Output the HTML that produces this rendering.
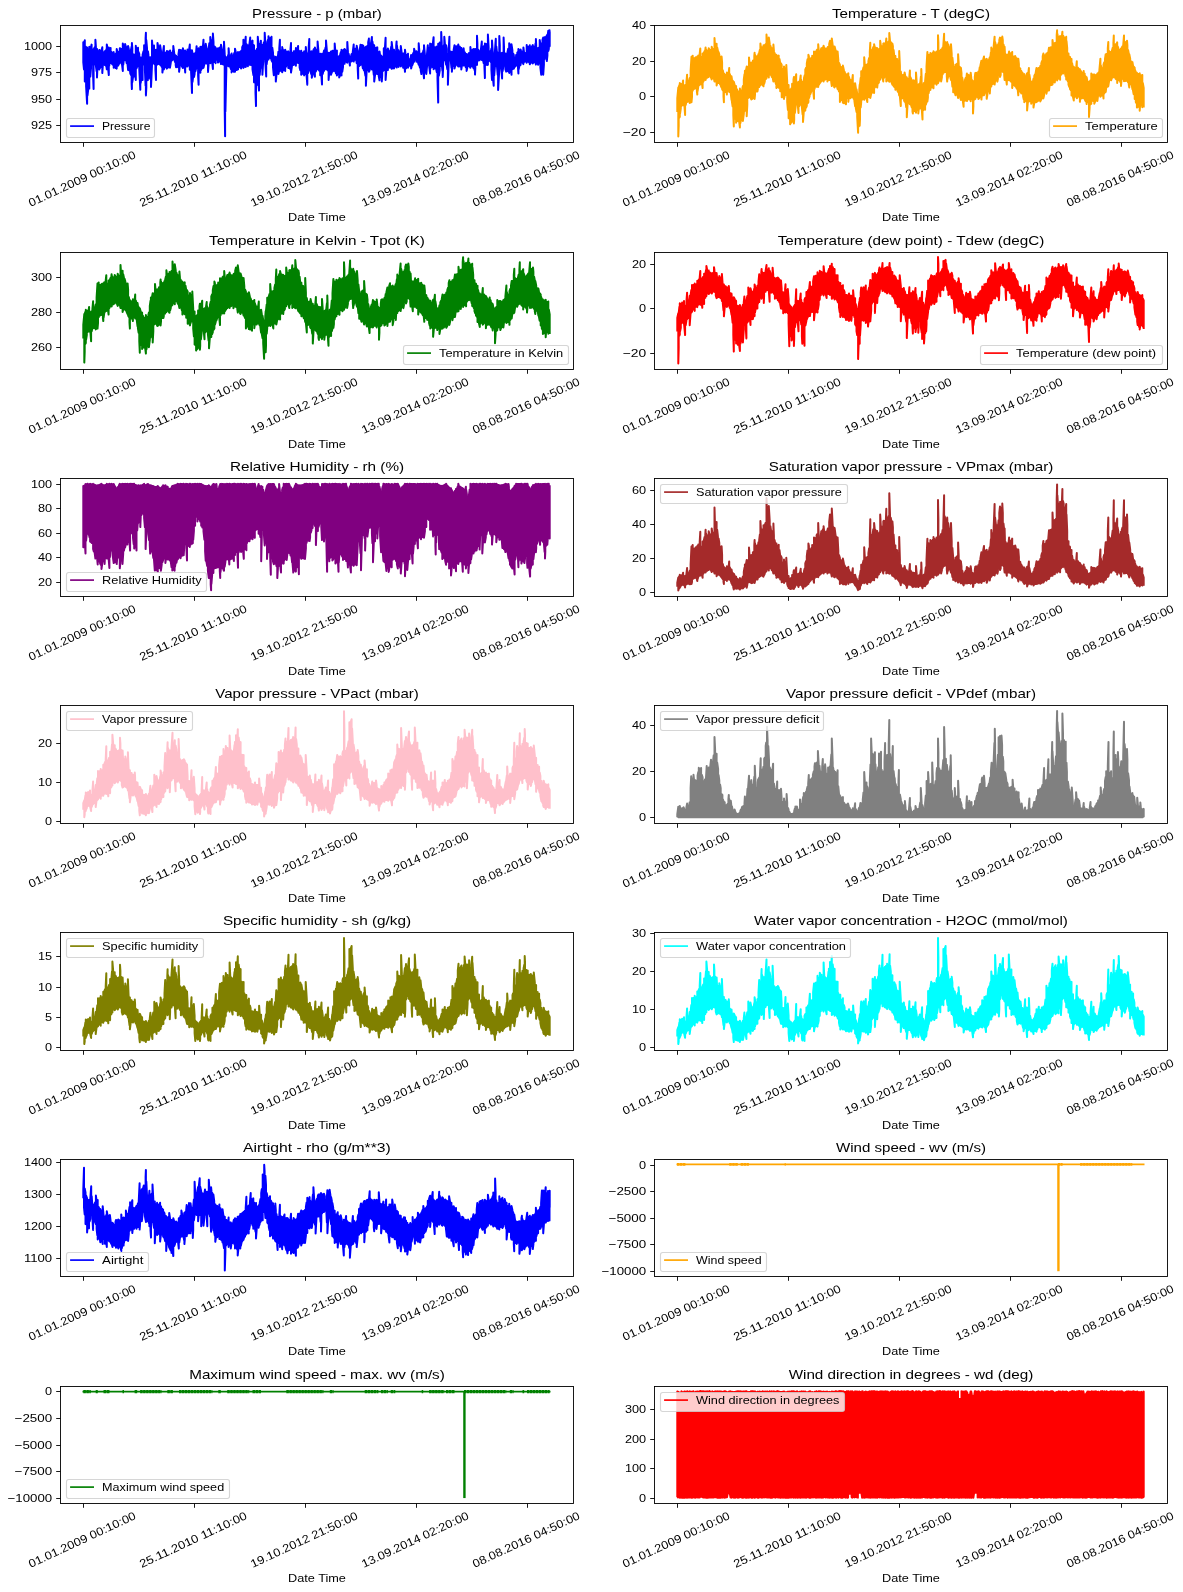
<!DOCTYPE html>
<html><head><meta charset="utf-8"><title>Jena climate features</title>
<style>
html,body{margin:0;padding:0;background:#fff;}
svg{display:block;font-family:"Liberation Sans",sans-serif;fill:#000;}
svg path.d{fill:none;stroke-width:2.0;stroke-linejoin:round;stroke-linecap:butt;}
</style></head><body>
<svg width="1183" height="1592" viewBox="0 0 1183 1592">
<rect width="1183" height="1592" fill="#fff"/>
<g>
<path class="d" stroke="#0000ff" d="M83.3 49.8 83.3 46.4 83.3 42.2 83.3 62.5 84.0 69.4 84.0 45.2 84.8 40.2 84.8 81.5 85.4 80.4 85.4 46.5 86.1 47.2 86.1 86.2 87.1 103.7 87.1 47.4 87.5 50.6 87.5 95.3 88.2 89.5 88.2 50.6 88.9 49.0 88.9 87.1 89.3 88.6 89.3 46.8 90.3 49.5 90.3 76.6 91.0 68.2 91.0 46.9 91.6 44.6 91.6 64.5 92.4 64.5 92.4 49.3 93.1 50.1 93.1 75.9 93.6 89.0 93.6 49.7 94.5 47.6 94.5 62.3 95.4 64.7 95.4 39.7 95.9 46.9 95.9 65.9 96.6 71.1 96.6 50.7 97.0 48.9 97.0 77.5 97.3 70.4 97.3 51.8 98.0 51.9 98.0 65.8 98.7 65.7 98.7 51.6 99.2 50.0 99.2 69.4 100.1 67.8 100.1 50.4 100.8 51.5 100.8 67.1 101.5 66.7 101.5 50.4 102.3 47.3 102.3 73.1 102.9 64.5 102.9 52.7 103.6 52.4 103.6 62.9 104.6 64.9 104.6 51.2 105.0 51.2 105.0 64.1 105.7 65.6 105.7 51.9 106.4 49.3 106.4 66.3 106.8 69.3 106.8 44.4 107.8 50.2 107.8 65.4 108.8 75.1 108.8 47.6 109.2 49.3 109.2 65.9 109.9 61.1 109.9 50.3 110.6 48.0 110.6 63.0 111.3 61.4 111.3 51.8 112.0 53.9 112.0 63.8 112.7 64.7 112.7 52.8 113.7 52.1 113.7 67.7 114.1 65.2 114.1 54.9 114.8 54.5 114.8 65.2 115.5 67.9 115.5 53.9 116.2 53.3 116.2 67.2 116.7 68.6 116.7 49.0 117.6 53.2 117.6 65.7 118.3 65.5 118.3 51.8 119.0 53.3 119.0 63.8 119.8 63.3 119.8 48.2 120.4 48.6 120.4 61.1 121.1 61.2 121.1 49.2 121.8 48.9 121.8 62.7 122.8 70.9 122.8 43.6 123.2 45.3 123.2 64.9 123.9 59.7 123.9 47.4 124.6 47.9 124.6 58.1 125.1 60.1 125.1 44.1 126.0 47.1 126.0 59.5 126.7 63.2 126.7 47.1 127.4 47.5 127.4 63.0 128.1 69.9 128.1 45.9 128.8 48.9 128.8 69.0 129.5 70.6 129.5 50.4 130.2 51.1 130.2 73.2 130.9 75.0 130.9 50.1 131.6 46.6 131.6 83.2 131.9 89.1 131.9 42.9 132.3 48.0 132.3 82.0 133.0 77.2 133.0 54.0 133.7 55.9 133.7 73.5 134.2 76.6 134.2 56.5 135.1 54.2 135.1 73.3 135.8 80.0 135.8 45.8 136.5 52.2 136.5 68.4 137.2 66.4 137.2 51.8 138.0 47.7 138.0 64.8 138.6 66.1 138.6 52.1 139.3 54.0 139.3 69.8 140.3 89.8 140.3 57.3 140.7 58.2 140.7 82.8 141.4 77.6 141.4 57.4 142.1 57.9 142.1 75.2 142.6 79.9 142.6 54.7 143.5 51.2 143.5 64.2 144.1 64.5 144.1 45.3 144.9 46.0 144.9 69.8 145.6 85.7 145.6 38.4 145.9 32.8 145.9 95.4 146.3 88.0 146.3 40.1 147.0 47.9 147.0 80.3 147.9 80.1 147.9 51.2 148.4 54.6 148.4 78.3 149.1 76.1 149.1 58.2 149.8 57.2 149.8 75.6 150.5 79.4 150.5 58.6 151.0 57.2 151.0 87.0 152.0 64.9 152.0 40.6 152.6 48.0 152.6 63.0 153.3 62.3 153.3 50.5 154.0 45.5 154.0 63.5 154.7 64.3 154.7 49.7 155.4 51.9 155.4 69.8 156.0 80.0 156.0 49.7 156.8 49.8 156.8 64.9 157.5 64.0 157.5 42.9 158.2 46.7 158.2 64.0 158.9 63.3 158.9 47.6 159.6 49.6 159.6 62.4 160.1 64.9 160.1 45.2 161.0 50.8 161.0 65.4 161.7 66.7 161.7 52.4 162.4 52.6 162.4 72.5 163.1 67.8 163.1 51.6 163.9 46.0 163.9 69.3 164.5 65.6 164.5 52.9 165.2 53.3 165.2 67.3 165.9 66.9 165.9 52.8 166.6 51.8 166.6 67.7 166.9 68.6 166.9 51.0 167.3 51.1 167.3 66.9 168.0 67.6 168.0 53.0 168.7 51.6 168.7 66.6 169.4 66.8 169.4 52.0 170.0 50.5 170.0 67.7 170.8 62.7 170.8 52.8 171.5 52.9 171.5 60.8 172.2 60.1 172.2 53.3 172.9 50.7 172.9 59.6 173.3 58.9 173.3 46.1 174.3 54.0 174.3 59.1 175.0 62.0 175.0 54.9 175.7 56.1 175.7 65.1 176.1 67.3 176.1 55.7 176.4 56.7 176.4 66.5 177.1 66.2 177.1 57.0 177.8 57.1 177.8 67.0 178.5 67.3 178.5 54.0 179.1 49.7 179.1 71.8 179.9 65.1 179.9 51.3 180.6 50.0 180.6 65.2 181.3 64.4 181.3 50.3 182.0 51.5 182.0 66.4 182.9 67.9 182.9 48.3 183.4 50.4 183.4 66.0 184.1 64.8 184.1 53.6 184.8 52.0 184.8 67.3 185.2 72.4 185.2 50.6 185.5 52.7 185.5 67.4 186.2 65.2 186.2 52.1 186.9 51.4 186.9 65.7 187.5 66.4 187.5 49.6 188.3 50.6 188.3 65.3 189.0 65.2 189.0 50.3 189.8 44.6 189.8 69.7 190.4 68.0 190.4 49.9 191.1 52.7 191.1 71.9 192.0 92.9 192.0 50.3 192.5 53.8 192.5 81.9 193.2 76.2 193.2 53.9 194.0 53.7 194.0 77.1 194.6 74.0 194.6 55.6 195.3 53.0 195.3 71.4 196.0 69.0 196.0 53.7 196.6 46.2 196.6 68.0 197.4 67.8 197.4 52.0 198.1 49.2 198.1 75.6 198.6 84.8 198.6 48.2 199.5 50.0 199.5 72.0 200.4 72.7 200.4 46.8 200.9 48.6 200.9 70.2 201.6 66.3 201.6 46.8 202.3 47.0 202.3 68.5 203.0 68.1 203.0 45.8 203.5 39.7 203.5 67.7 204.4 63.8 204.4 45.3 205.1 45.9 205.1 63.5 205.7 63.2 205.7 43.8 206.5 48.0 206.5 62.2 207.2 63.9 207.2 49.1 208.0 49.8 208.0 71.9 208.6 64.1 208.6 49.5 209.3 43.2 209.3 61.9 210.3 63.2 210.3 36.9 210.7 39.5 210.7 60.3 211.4 61.0 211.4 41.7 212.1 40.1 212.1 61.6 212.9 69.0 212.9 33.6 213.5 41.8 213.5 62.3 214.2 61.2 214.2 46.4 214.9 46.9 214.9 61.9 215.6 63.1 215.6 47.5 216.3 50.0 216.3 59.8 217.0 59.7 217.0 50.0 217.9 48.4 217.9 62.6 218.4 61.2 218.4 49.7 219.1 48.0 219.1 61.7 219.8 60.7 219.8 47.4 220.5 47.6 220.5 61.0 221.0 64.0 221.0 44.7 221.9 49.0 221.9 61.9 222.6 64.3 222.6 49.9 223.3 53.0 223.3 64.0 224.0 64.9 224.0 41.7 224.7 53.8 224.7 109.1 225.1 136.2 225.1 56.1 225.4 59.0 225.4 111.4 226.3 70.9 226.3 57.3 226.8 59.8 226.8 64.4 227.5 65.7 227.5 59.1 228.2 54.9 228.2 63.5 228.6 66.3 228.6 48.2 228.9 52.1 228.9 64.6 229.6 64.8 229.6 55.3 230.3 55.9 230.3 67.2 231.0 69.3 231.0 55.0 231.6 53.5 231.6 72.4 232.4 68.9 232.4 55.4 233.1 55.6 233.1 70.1 233.9 71.8 233.9 54.3 234.5 52.7 234.5 70.2 235.0 71.7 235.0 48.8 235.9 52.8 235.9 69.7 236.6 70.0 236.6 53.1 237.3 53.7 237.3 68.0 238.0 69.4 238.0 52.0 238.7 56.6 238.7 66.9 239.4 67.2 239.4 53.2 240.1 51.8 240.1 65.4 241.1 68.5 241.1 51.3 241.5 50.5 241.5 65.9 242.2 66.3 242.2 47.1 242.9 45.6 242.9 66.8 243.4 67.9 243.4 39.8 244.3 44.0 244.3 66.8 245.0 66.4 245.0 43.8 245.7 36.8 245.7 67.1 246.4 64.1 246.4 44.0 247.1 48.8 247.1 63.7 247.9 66.3 247.9 45.3 248.5 48.7 248.5 64.9 249.2 63.7 249.2 46.2 250.2 37.5 250.2 64.9 250.6 62.2 250.6 41.0 251.3 44.0 251.3 62.2 252.0 65.5 252.0 42.1 252.5 40.6 252.5 69.4 253.4 75.2 253.4 44.8 254.0 45.5 254.0 82.3 254.8 82.6 254.8 50.4 255.5 52.6 255.5 92.9 256.0 106.1 256.0 52.7 256.9 49.1 256.9 85.1 257.8 80.1 257.8 36.8 258.3 42.3 258.3 81.5 259.0 90.6 259.0 43.7 259.7 46.4 259.7 74.9 260.4 66.3 260.4 45.8 260.9 40.7 260.9 64.8 261.8 67.6 261.8 46.1 262.4 45.1 262.4 74.8 263.2 61.3 263.2 45.7 263.9 42.2 263.9 59.2 264.7 58.8 264.7 32.8 265.3 42.3 265.3 61.6 266.2 76.4 266.2 43.7 266.7 43.6 266.7 64.2 267.4 57.7 267.4 41.8 268.1 39.6 268.1 56.2 268.5 59.4 268.5 36.2 268.8 39.6 268.8 57.9 269.5 57.4 269.5 38.5 270.2 38.3 270.2 57.8 270.9 58.5 270.9 39.0 271.5 36.7 271.5 60.3 272.3 61.7 272.3 47.7 273.0 52.7 273.0 67.3 273.8 75.2 273.8 56.1 274.4 60.4 274.4 74.6 275.1 73.8 275.1 59.3 275.8 56.7 275.8 81.6 276.5 74.3 276.5 57.9 277.2 57.2 277.2 72.7 277.9 73.4 277.9 56.9 278.4 51.7 278.4 74.0 279.3 69.9 279.3 48.4 279.9 39.7 279.9 71.0 280.7 69.1 280.7 50.3 281.4 51.2 281.4 68.2 282.2 72.3 282.2 47.1 282.8 50.0 282.8 70.6 283.5 70.1 283.5 50.3 284.2 50.5 284.2 69.6 285.2 70.9 285.2 49.7 285.6 51.3 285.6 67.2 286.3 66.0 286.3 51.7 287.0 51.8 287.0 64.8 287.7 65.7 287.7 53.3 288.3 51.4 288.3 67.9 289.1 67.9 289.1 53.7 289.8 52.2 289.8 67.1 290.5 69.4 290.5 49.2 291.0 43.0 291.0 72.6 291.9 66.5 291.9 53.3 292.6 53.0 292.6 64.3 293.6 64.9 293.6 51.3 294.0 53.5 294.0 62.9 294.7 61.5 294.7 53.8 295.4 50.4 295.4 64.0 295.9 65.7 295.9 48.1 296.8 49.6 296.8 62.7 297.5 62.4 297.5 48.8 298.1 46.0 298.1 63.1 298.9 62.4 298.9 50.6 299.6 52.0 299.6 67.5 300.3 70.3 300.3 53.0 301.2 50.7 301.2 74.8 301.7 73.8 301.7 52.8 302.4 56.2 302.4 73.8 303.1 72.9 303.1 52.6 303.8 52.6 303.8 74.0 304.2 75.4 304.2 51.2 305.2 52.8 305.2 71.5 305.8 74.1 305.8 46.9 306.6 54.7 306.6 75.6 307.3 84.7 307.3 54.2 308.0 53.2 308.0 73.1 308.7 68.9 308.7 47.4 309.3 38.9 309.3 70.5 310.1 68.1 310.1 51.3 310.8 53.2 310.8 72.6 311.5 74.7 311.5 53.0 311.8 51.3 311.8 77.8 312.2 75.9 312.2 51.8 312.9 51.8 312.9 73.8 313.6 71.9 313.6 49.4 314.3 48.8 314.3 74.5 314.9 76.7 314.9 47.5 315.7 50.4 315.7 71.6 316.4 70.3 316.4 51.3 317.1 49.8 317.1 69.2 317.6 68.1 317.6 41.5 318.5 52.0 318.5 68.7 319.2 70.7 319.2 56.8 320.2 53.8 320.2 75.3 320.6 72.1 320.6 58.1 321.3 57.2 321.3 74.2 322.0 84.4 322.0 53.8 322.7 55.6 322.7 74.1 323.4 70.5 323.4 53.7 324.0 50.6 324.0 70.8 324.8 68.6 324.8 51.6 325.5 47.6 325.5 67.9 326.0 69.2 326.0 40.5 326.9 51.3 326.9 69.1 327.6 70.3 327.6 53.5 328.6 52.8 328.6 79.9 329.0 75.0 329.0 54.2 329.7 53.1 329.7 73.7 330.4 74.1 330.4 52.9 330.9 51.5 330.9 74.8 331.8 72.3 331.8 56.4 332.5 50.7 332.5 71.7 333.2 70.9 333.2 52.6 333.9 50.5 333.9 67.8 334.7 71.0 334.7 43.5 335.3 51.2 335.3 70.7 336.0 73.4 336.0 52.0 336.9 50.6 336.9 75.6 337.4 73.8 337.4 56.4 338.1 57.0 338.1 73.0 338.8 73.3 338.8 57.5 339.2 55.9 339.2 77.4 340.2 75.2 340.2 54.5 340.9 51.9 340.9 73.0 341.5 75.4 341.5 49.7 342.3 53.4 342.3 71.7 343.0 67.2 343.0 50.7 343.7 49.8 343.7 62.9 344.6 63.8 344.6 48.9 345.1 49.8 345.1 60.5 345.8 61.6 345.8 51.2 346.5 50.6 346.5 62.0 347.3 62.6 347.3 41.9 347.9 51.2 347.9 60.0 348.6 59.8 348.6 53.7 349.3 57.2 349.3 61.7 349.9 65.6 349.9 56.5 350.7 56.4 350.7 60.6 351.4 61.4 351.4 54.4 352.1 53.6 352.1 60.8 352.8 59.4 352.8 51.6 353.7 44.5 353.7 61.6 354.2 58.5 354.2 48.4 354.9 49.1 354.9 59.8 355.6 59.5 355.6 49.1 356.3 48.0 356.3 60.2 356.7 63.2 356.7 45.8 357.7 51.2 357.7 68.3 358.2 78.6 358.2 51.3 359.1 52.8 359.1 66.1 359.8 65.0 359.8 49.5 360.5 44.7 360.5 64.9 361.2 62.8 361.2 45.5 361.9 45.1 361.9 61.6 362.8 68.0 362.8 45.3 363.3 45.9 363.3 68.5 364.0 70.3 364.0 47.3 364.7 47.6 364.7 70.8 365.4 75.7 365.4 50.1 365.9 46.8 365.9 85.8 366.8 67.7 366.8 47.2 367.5 45.7 367.5 70.1 368.2 69.1 368.2 42.2 368.9 38.6 368.9 71.8 369.6 70.5 369.6 43.3 370.3 44.0 370.3 68.9 371.0 68.0 371.0 43.4 371.9 37.0 371.9 69.4 372.4 67.5 372.4 41.4 373.1 45.8 373.1 68.5 373.8 75.0 373.8 47.5 374.2 45.3 374.2 81.5 375.2 73.7 375.2 49.2 375.9 47.7 375.9 73.7 376.6 73.1 376.6 49.5 377.3 47.4 377.3 74.1 378.0 73.9 378.0 52.1 378.7 53.3 378.7 75.7 379.5 80.2 379.5 51.5 380.1 55.4 380.1 77.3 380.8 76.4 380.8 55.3 381.8 56.7 381.8 81.4 382.2 75.5 382.2 58.8 382.9 56.8 382.9 71.0 383.8 69.3 383.8 48.2 384.3 49.1 384.3 67.8 385.0 70.5 385.0 47.0 385.6 37.7 385.6 80.0 386.4 69.1 386.4 49.4 387.1 50.0 387.1 66.5 387.9 70.1 387.9 48.4 388.5 52.0 388.5 68.0 389.2 67.6 389.2 53.5 389.9 50.9 389.9 67.0 390.6 67.5 390.6 50.1 391.3 46.4 391.3 68.0 391.7 68.8 391.7 42.1 392.7 51.2 392.7 68.3 393.4 67.8 393.4 52.4 394.0 49.8 394.0 68.5 394.8 66.0 394.8 51.3 395.5 52.9 395.5 64.6 396.2 64.3 396.2 45.9 396.6 41.4 396.6 67.6 396.9 60.9 396.9 45.3 397.6 51.2 397.6 63.5 398.6 66.9 398.6 50.3 399.0 52.7 399.0 63.4 399.7 64.5 399.7 52.8 400.4 52.0 400.4 64.9 400.8 66.4 400.8 46.1 401.8 53.8 401.8 64.0 402.5 65.5 402.5 56.1 403.1 53.6 403.1 67.8 403.9 65.9 403.9 55.8 404.6 52.7 404.6 67.6 405.0 71.8 405.0 49.8 405.3 52.2 405.3 68.7 406.0 68.4 406.0 56.5 406.7 54.9 406.7 66.0 407.4 66.6 407.4 55.8 408.0 53.7 408.0 67.8 408.8 65.0 408.8 58.9 409.5 59.9 409.5 64.4 410.2 65.7 410.2 59.8 411.1 55.1 411.1 68.6 411.6 66.7 411.6 57.0 412.3 56.3 412.3 65.1 413.0 63.2 413.0 54.0 413.7 52.3 413.7 61.9 414.1 61.8 414.1 48.8 415.1 52.4 415.1 59.5 415.8 59.8 415.8 53.1 416.4 51.3 416.4 61.8 417.2 59.4 417.2 53.0 417.9 52.0 417.9 61.9 418.7 64.7 418.7 43.3 419.3 50.8 419.3 64.8 420.0 67.8 420.0 54.1 420.7 56.1 420.7 70.2 421.4 74.1 421.4 53.6 422.1 54.0 422.1 71.5 422.8 69.5 422.8 52.9 423.5 50.2 423.5 73.6 424.0 78.3 424.0 45.3 424.9 54.7 424.9 72.6 425.6 71.1 425.6 55.7 426.3 56.6 426.3 73.9 427.0 66.7 427.0 54.0 427.8 45.3 427.8 64.8 428.4 64.7 428.4 47.9 429.1 47.5 429.1 65.7 430.1 73.4 430.1 43.6 430.5 44.0 430.5 68.4 431.2 66.0 431.2 44.1 431.9 44.4 431.9 66.4 432.6 67.2 432.6 45.6 433.6 37.2 433.6 69.3 434.0 67.9 434.0 46.8 434.7 49.5 434.7 66.9 435.4 68.2 435.4 50.1 436.2 46.7 436.2 69.4 436.8 72.2 436.8 46.8 437.5 46.8 437.5 78.6 438.2 102.6 438.2 43.7 438.9 45.2 438.9 75.5 439.7 70.8 439.7 42.4 440.3 47.1 440.3 66.2 441.2 63.2 441.2 31.9 441.7 42.4 441.7 63.5 442.4 70.6 442.4 49.4 442.7 51.1 442.7 76.9 443.1 68.1 443.1 51.5 443.8 45.2 443.8 55.8 444.3 60.2 444.3 36.8 445.2 47.1 445.2 58.7 446.1 64.5 446.1 45.3 446.6 48.1 446.6 64.1 447.3 69.0 447.3 53.7 447.9 55.0 447.9 84.8 448.7 63.4 448.7 49.7 449.4 36.7 449.4 60.3 450.1 60.0 450.1 52.3 450.8 51.6 450.8 61.1 451.5 67.9 451.5 52.8 451.9 51.9 451.9 71.7 452.2 68.6 452.2 52.7 452.9 52.0 452.9 66.1 453.6 65.6 453.6 50.1 454.5 45.3 454.5 68.6 455.0 66.5 455.0 48.7 455.7 46.4 455.7 64.0 456.4 63.9 456.4 46.3 457.1 46.9 457.1 65.5 457.8 65.9 457.8 47.2 458.3 44.5 458.3 66.6 459.2 65.5 459.2 46.4 459.9 46.9 459.9 66.4 460.6 64.1 460.6 49.6 461.3 48.0 461.3 69.4 462.0 65.1 462.0 49.3 462.7 52.4 462.7 63.9 463.6 65.4 463.6 48.2 464.1 53.1 464.1 61.8 464.8 65.2 464.8 52.2 465.5 55.1 465.5 66.7 466.2 67.7 466.2 55.3 466.6 54.0 466.6 70.9 467.6 66.2 467.6 57.5 468.3 54.2 468.3 66.1 469.0 65.9 469.0 53.0 469.7 53.4 469.7 66.5 470.4 67.7 470.4 47.1 471.1 53.0 471.1 66.5 471.8 65.6 471.8 50.7 472.5 49.8 472.5 65.6 473.5 68.1 473.5 49.0 473.9 50.8 473.9 65.5 474.6 70.1 474.6 51.5 475.0 49.1 475.0 74.6 475.3 68.3 475.3 50.9 476.0 49.2 476.0 62.8 477.0 64.9 477.0 35.7 477.4 43.8 477.4 61.7 478.1 59.7 478.1 49.5 478.8 50.8 478.8 59.0 479.6 60.3 479.6 51.2 480.2 51.6 480.2 59.1 480.9 58.2 480.9 49.5 481.8 41.5 481.8 60.1 482.3 59.2 482.3 48.2 483.0 48.1 483.0 60.0 483.7 63.2 483.7 46.4 484.4 45.8 484.4 66.2 484.9 78.1 484.9 43.6 485.8 44.4 485.8 65.0 486.5 63.2 486.5 44.1 487.2 43.8 487.2 64.9 487.9 64.8 487.9 34.6 488.6 47.0 488.6 61.1 489.3 59.5 489.3 53.5 490.2 51.2 490.2 60.3 490.7 62.1 490.7 52.5 491.4 48.6 491.4 69.8 492.0 79.9 492.0 40.6 492.8 52.6 492.8 76.9 493.7 85.7 493.7 53.4 494.2 53.8 494.2 75.4 494.9 66.7 494.9 51.6 495.8 38.8 495.8 64.8 496.3 65.7 496.3 46.4 497.0 52.8 497.0 66.4 497.7 74.6 497.7 54.6 498.1 52.8 498.1 89.9 499.3 69.5 499.3 35.9 499.8 45.0 499.8 66.1 500.5 66.6 500.5 52.9 501.2 54.0 501.2 66.9 502.1 78.5 502.1 52.8 502.6 54.6 502.6 71.0 503.6 64.9 503.6 37.6 504.0 46.9 504.0 63.6 504.7 65.5 504.7 52.9 505.4 55.8 505.4 69.2 506.2 71.6 506.2 53.7 506.8 54.7 506.8 71.3 507.5 71.0 507.5 52.3 508.2 48.7 508.2 68.3 509.2 72.9 509.2 43.2 509.6 44.3 509.6 70.1 510.3 71.8 510.3 46.1 511.0 45.3 511.0 68.6 511.5 74.7 511.5 44.3 512.4 50.1 512.4 69.2 513.1 66.8 513.1 53.5 513.8 55.0 513.8 68.7 514.5 66.7 514.5 57.8 515.2 57.4 515.2 66.6 516.1 65.6 516.1 55.0 516.6 55.3 516.6 63.8 517.3 64.4 517.3 52.7 518.0 51.8 518.0 68.0 518.4 73.5 518.4 49.0 518.7 51.0 518.7 69.3 519.4 65.5 519.4 52.0 520.1 50.0 520.1 65.4 520.6 64.9 520.6 49.6 521.5 53.1 521.5 62.0 522.2 62.6 522.2 52.2 522.9 51.1 522.9 62.8 523.4 64.1 523.4 47.4 524.3 54.3 524.3 61.9 525.2 60.5 525.2 54.2 525.7 53.1 525.7 60.6 526.7 62.7 526.7 44.9 527.1 48.7 527.1 60.4 527.8 61.4 527.8 47.4 528.5 46.7 528.5 61.4 529.2 62.6 529.2 48.0 529.8 45.3 529.8 64.2 530.6 62.5 530.6 48.5 531.3 47.1 531.3 62.7 532.0 61.9 532.0 46.4 532.8 45.1 532.8 63.4 533.4 61.7 533.4 49.0 534.1 46.8 534.1 62.5 534.8 61.5 534.8 50.2 535.5 43.5 535.5 60.4 535.9 64.6 535.9 39.1 536.2 45.4 536.2 61.0 536.9 61.5 536.9 48.2 537.6 48.6 537.6 62.6 538.1 64.7 538.1 48.2 539.0 47.7 539.0 62.2 539.7 63.4 539.7 39.9 540.4 44.7 540.4 67.6 541.2 74.7 541.2 43.9 541.8 43.2 541.8 71.4 542.5 71.1 542.5 39.7 543.2 37.5 543.2 74.7 543.9 64.7 543.9 38.8 544.6 39.6 544.6 59.4 545.0 57.4 545.0 37.0 545.3 38.6 545.3 56.6 546.0 56.5 546.0 39.8 546.8 35.3 546.8 61.1 547.4 55.6 547.4 37.4 548.3 30.7 548.3 51.0 548.8 48.9 548.8 31.9 549.5 30.2 549.5 46.6 549.7 45.9 549.7 31.4"/>
<rect x="60.5" y="25.5" width="513.0" height="117.0" fill="none" stroke="#000" stroke-width="0.9"/>
<path d="M83.5 142.5v4.3M194.5 142.5v4.3M305.5 142.5v4.3M416.5 142.5v4.3M527.5 142.5v4.3M60.5 125.5h-4.3M60.5 99.5h-4.3M60.5 72.5h-4.3M60.5 46.5h-4.3" stroke="#000" stroke-width="0.9" fill="none"/>
<rect x="66.50" y="118.50" width="88.00" height="19" rx="2.2" fill="#fff" fill-opacity="0.8" stroke="#ccc" stroke-opacity="0.8" stroke-width="1.1"/>
<path d="M70.94 126.10h22.22" stroke="#0000ff" stroke-width="1.67" stroke-linecap="square" fill="none"/>
</g>
<g>
<path class="d" stroke="#ffa500" d="M677.3 112.1 677.3 98.2 678.3 87.6 678.3 136.5 678.7 125.6 678.7 87.4 679.4 85.1 679.4 117.5 679.8 116.7 679.8 83.1 680.1 84.6 680.1 113.3 680.8 108.7 680.8 85.7 681.3 84.1 681.3 106.1 682.2 104.0 682.2 86.9 683.1 80.4 683.1 105.2 683.6 103.0 683.6 86.9 684.3 87.0 684.3 104.2 685.1 115.0 685.1 84.9 685.7 87.0 685.7 105.1 686.4 101.3 686.4 82.4 687.1 74.7 687.1 101.9 687.8 101.3 687.8 81.6 688.5 81.1 688.5 101.5 689.2 100.7 689.2 80.0 689.7 78.0 689.7 103.0 690.6 102.1 690.6 71.0 691.5 56.7 691.5 102.2 692.0 96.8 692.0 59.3 692.7 55.8 692.7 90.8 693.4 87.4 693.4 58.0 694.1 59.5 694.1 88.9 694.8 84.5 694.8 58.2 695.8 57.2 695.8 88.5 696.2 88.6 696.2 58.2 696.9 58.3 696.9 91.7 697.3 94.6 697.3 56.4 697.6 59.6 697.6 91.0 698.3 86.4 698.3 55.5 699.0 57.8 699.0 85.2 699.7 84.5 699.7 53.8 700.3 48.4 700.3 84.6 701.1 80.7 701.1 56.8 701.8 57.9 701.8 82.0 702.6 88.1 702.6 53.6 703.2 56.0 703.2 82.0 703.9 80.1 703.9 52.9 704.6 51.1 704.6 77.4 705.3 76.6 705.3 50.0 705.6 47.4 705.6 80.0 706.0 77.7 706.0 49.2 706.7 50.4 706.7 76.3 707.4 77.7 707.4 50.7 708.1 50.4 708.1 76.1 708.7 76.9 708.7 48.2 709.5 50.0 709.5 73.4 710.2 75.7 710.2 49.9 710.9 49.9 710.9 77.1 711.7 79.4 711.7 46.8 712.3 49.0 712.3 77.7 713.0 78.0 713.0 48.9 713.7 49.1 713.7 77.4 714.5 81.5 714.5 38.0 715.1 46.9 715.1 78.3 715.8 81.6 715.8 48.7 716.6 43.8 716.6 85.6 717.2 83.0 717.2 47.5 717.9 50.7 717.9 80.7 718.6 83.0 718.6 51.9 719.3 54.4 719.3 81.6 720.0 84.2 720.0 57.8 720.7 56.9 720.7 85.5 721.6 87.7 721.6 56.6 722.1 62.7 722.1 89.0 722.8 90.4 722.8 70.3 723.5 74.0 723.5 96.4 723.9 102.2 723.9 73.4 724.9 74.7 724.9 92.1 725.6 91.9 725.6 75.3 726.3 74.6 726.3 90.6 726.9 94.6 726.9 72.6 727.7 74.5 727.7 90.1 728.4 91.0 728.4 75.8 729.2 68.0 729.2 92.0 729.8 90.1 729.8 73.9 730.5 76.4 730.5 91.3 731.5 99.8 731.5 76.3 731.9 78.8 731.9 101.7 732.6 106.3 732.6 80.4 733.3 81.7 733.3 115.1 733.8 126.5 733.8 81.7 734.7 85.0 734.7 115.3 735.4 118.8 735.4 85.8 736.1 86.2 736.1 122.8 736.8 119.8 736.8 89.1 737.6 90.9 737.6 121.1 738.2 119.5 738.2 93.0 738.9 91.7 738.9 119.8 739.9 127.4 739.9 88.6 740.3 90.7 740.3 123.4 741.0 120.1 741.0 92.6 741.7 90.3 741.7 117.1 742.4 117.0 742.4 88.3 742.9 86.0 742.9 120.9 743.8 113.9 743.8 79.4 744.5 74.2 744.5 111.4 744.9 110.3 744.9 70.9 745.2 70.7 745.2 108.7 745.9 106.1 745.9 71.0 746.7 66.6 746.7 116.2 747.3 105.0 747.3 68.1 748.0 66.9 748.0 98.2 749.0 96.8 749.0 57.4 749.4 61.7 749.4 95.9 750.1 97.4 750.1 68.1 750.8 67.6 750.8 98.2 751.3 99.5 751.3 62.6 752.2 63.3 752.2 99.0 752.9 97.9 752.9 60.7 753.6 60.4 753.6 98.0 754.3 96.9 754.3 55.9 754.6 52.8 754.6 99.0 755.0 95.0 755.0 54.7 755.7 57.7 755.7 91.6 756.4 91.4 756.4 57.2 757.4 56.0 757.4 91.6 757.8 89.5 757.8 57.0 758.5 54.1 758.5 86.5 759.2 86.9 759.2 52.8 759.9 49.8 759.9 85.1 760.4 85.5 760.4 43.5 761.3 49.9 761.3 83.5 762.0 84.4 762.0 47.5 762.7 47.2 762.7 85.1 763.5 86.3 763.5 45.3 764.1 46.5 764.1 83.9 764.8 81.5 764.8 45.3 765.5 44.3 765.5 79.3 766.5 78.3 766.5 34.6 766.9 39.0 766.9 76.5 767.6 75.6 767.6 39.1 768.3 39.3 768.3 75.1 768.8 77.6 768.8 37.5 769.7 43.3 769.7 74.2 770.4 74.7 770.4 45.8 771.1 48.1 771.1 74.2 771.8 77.1 771.8 48.1 772.5 50.9 772.5 76.6 773.4 81.5 773.4 44.6 773.9 50.5 773.9 80.3 774.6 80.2 774.6 52.9 775.3 55.2 775.3 81.5 776.0 84.2 776.0 55.4 776.4 54.9 776.4 88.1 776.7 84.7 776.7 56.0 777.4 59.2 777.4 86.3 778.1 87.1 778.1 56.1 778.7 55.6 778.7 87.8 779.5 87.7 779.5 59.0 780.2 63.2 780.2 91.2 780.9 91.0 780.9 63.3 781.7 64.9 781.7 97.3 782.3 95.4 782.3 69.2 783.0 68.8 783.0 96.2 784.0 99.0 784.0 66.4 784.4 68.8 784.4 97.4 785.1 93.3 785.1 70.6 785.8 68.4 785.8 92.7 786.3 95.1 786.3 64.9 787.2 81.7 787.2 102.0 787.9 110.0 787.9 85.0 788.6 85.0 788.6 118.2 789.3 118.5 789.3 91.5 790.1 89.6 790.1 124.3 790.7 122.7 790.7 90.4 791.4 88.3 791.4 122.6 792.1 120.9 792.1 83.8 792.8 83.8 792.8 121.4 793.5 121.7 793.5 79.5 793.9 77.1 793.9 123.5 794.2 119.7 794.2 80.7 794.9 78.4 794.9 113.0 795.6 106.8 795.6 77.2 796.2 74.2 796.2 104.5 797.0 104.1 797.0 84.9 797.7 82.5 797.7 104.3 798.5 112.9 798.5 81.7 799.1 82.1 799.1 106.4 799.8 105.3 799.8 81.9 800.7 75.5 800.7 104.6 801.2 104.5 801.2 79.7 801.9 83.9 801.9 107.7 802.6 114.4 802.6 83.4 803.0 81.7 803.0 122.0 804.0 108.9 804.0 78.1 804.7 75.2 804.7 109.1 805.3 110.6 805.3 69.7 806.1 67.7 806.1 107.7 806.8 105.8 806.8 63.4 807.5 59.3 807.5 103.5 808.4 102.1 808.4 54.8 808.9 56.4 808.9 98.2 809.6 96.1 809.6 58.4 810.3 59.0 810.3 94.3 811.0 92.2 811.0 58.6 811.7 57.5 811.7 90.7 812.2 90.6 812.2 55.7 813.1 56.6 813.1 89.4 814.0 98.7 814.0 51.4 814.5 55.1 814.5 89.1 815.2 85.9 815.2 52.1 815.9 51.6 815.9 86.1 816.6 86.8 816.6 50.3 817.3 49.5 817.3 86.4 818.2 87.0 818.2 44.3 818.7 49.9 818.7 84.9 819.4 83.8 819.4 52.4 820.1 51.4 820.1 83.0 820.8 81.1 820.8 50.3 821.3 48.2 821.3 81.5 822.2 78.8 822.2 48.6 822.9 47.2 822.9 77.8 823.6 81.5 823.6 45.8 824.3 48.9 824.3 79.7 825.0 79.7 825.0 48.3 825.7 49.5 825.7 79.2 826.4 76.6 826.4 49.6 827.4 47.6 827.4 81.6 827.8 79.7 827.8 46.9 828.5 47.1 828.5 79.8 829.2 80.0 829.2 43.9 830.0 40.7 830.0 80.1 830.6 80.5 830.6 45.5 831.3 43.4 831.3 82.5 831.8 86.0 831.8 38.4 832.7 45.5 832.7 84.7 833.4 84.3 833.4 46.2 834.1 47.2 834.1 87.0 834.6 87.4 834.6 46.6 835.5 50.0 835.5 83.0 836.2 86.0 836.2 50.9 836.9 53.1 836.9 86.1 837.6 89.1 837.6 51.4 838.3 59.5 838.3 89.1 839.0 91.4 839.0 62.8 839.9 64.9 839.9 102.0 840.4 100.0 840.4 66.7 841.1 68.9 841.1 100.0 841.8 98.5 841.8 67.0 842.5 67.2 842.5 100.2 842.9 102.7 842.9 65.6 843.9 70.2 843.9 103.2 844.6 102.5 844.6 71.7 845.3 74.1 845.3 102.4 846.0 104.3 846.0 74.1 846.7 76.3 846.7 98.2 847.4 97.7 847.4 75.1 848.3 73.3 848.3 101.8 848.8 98.1 848.8 76.5 849.5 78.8 849.5 97.5 850.2 96.3 850.2 81.7 850.5 80.0 850.5 98.2 850.9 96.8 850.9 80.4 851.6 80.3 851.6 97.0 852.3 95.7 852.3 79.2 852.8 74.9 852.8 96.8 853.7 98.7 853.7 83.6 854.4 83.9 854.4 100.9 855.1 106.1 855.1 83.2 855.8 87.6 855.8 107.8 856.5 111.9 856.5 89.2 857.2 93.3 857.2 116.9 858.1 132.7 858.1 95.5 858.6 94.1 858.6 126.8 859.3 124.3 859.3 89.6 859.7 84.7 859.7 125.8 860.0 119.3 860.0 84.0 860.7 77.8 860.7 107.3 861.2 102.1 861.2 71.2 862.1 71.3 862.1 99.7 862.8 97.0 862.8 69.9 863.5 67.2 863.5 96.9 864.2 99.7 864.2 57.3 864.9 65.8 864.9 98.1 865.6 98.3 865.6 64.8 866.3 65.2 866.3 97.6 867.3 102.0 867.3 64.3 867.7 65.1 867.7 97.2 868.4 96.2 868.4 61.3 869.1 57.9 869.1 97.0 869.8 95.9 869.8 51.9 870.3 42.7 870.3 98.1 871.2 93.6 871.2 51.4 871.9 50.0 871.9 93.1 872.6 91.9 872.6 49.6 873.3 47.1 873.3 91.6 874.1 92.9 874.1 44.3 874.7 47.0 874.7 87.7 875.4 85.2 875.4 47.5 876.1 48.2 876.1 86.7 876.8 84.6 876.8 49.2 877.2 48.1 877.2 87.6 877.5 84.8 877.5 50.0 878.2 50.3 878.2 83.5 878.9 82.5 878.9 49.3 879.6 48.7 879.6 79.2 880.2 79.7 880.2 40.8 881.0 46.9 881.0 74.7 881.7 77.6 881.7 45.9 882.4 46.5 882.4 76.9 883.3 81.5 883.3 43.6 883.8 43.3 883.8 78.2 884.5 76.3 884.5 43.5 885.2 45.2 885.2 75.7 885.9 77.1 885.9 42.8 886.3 38.5 886.3 81.4 886.6 79.0 886.6 42.4 887.3 42.7 887.3 79.8 888.0 80.6 888.0 42.3 888.7 41.3 888.7 79.1 889.3 81.7 889.3 33.1 890.1 42.0 890.1 81.0 890.8 81.3 890.8 42.1 891.5 43.9 891.5 82.1 892.4 84.6 892.4 43.6 892.9 46.3 892.9 84.7 893.6 85.9 893.6 49.9 894.3 56.3 894.3 87.0 895.0 87.3 895.0 58.2 895.4 56.0 895.4 89.8 896.4 88.0 896.4 59.0 897.1 59.1 897.1 88.7 897.8 91.7 897.8 60.7 898.5 61.2 898.5 90.4 899.2 95.3 899.2 51.1 899.9 66.1 899.9 96.6 900.8 106.1 900.8 71.4 901.3 75.4 901.3 98.6 902.0 98.5 902.0 75.5 902.7 75.2 902.7 97.9 903.4 97.8 903.4 74.8 904.1 76.1 904.1 100.5 904.6 101.6 904.6 72.5 905.5 77.2 905.5 101.7 906.2 107.2 906.2 77.6 906.8 77.2 906.8 117.3 907.6 103.7 907.6 79.0 908.3 79.2 908.3 103.3 909.0 103.1 909.0 80.6 909.9 70.4 909.9 104.3 910.4 102.0 910.4 77.1 911.1 78.6 911.1 105.2 911.8 107.5 911.8 81.2 912.5 82.8 912.5 111.6 912.9 113.5 912.9 80.2 913.9 80.7 913.9 110.9 914.6 110.9 914.6 81.8 915.3 80.3 915.3 110.9 916.0 112.7 916.0 72.5 916.7 82.2 916.7 109.8 917.4 110.3 917.4 85.9 918.3 84.6 918.3 113.4 918.8 108.9 918.8 84.9 919.5 83.6 919.5 108.7 920.2 105.5 920.2 83.3 920.9 76.7 920.9 105.6 921.3 108.6 921.3 69.0 921.6 77.3 921.6 106.8 922.5 119.4 922.5 84.7 923.0 85.3 923.0 110.6 923.7 109.4 923.7 83.2 924.4 82.9 924.4 107.4 925.1 109.7 925.1 81.4 925.8 73.8 925.8 104.8 926.5 102.2 926.5 66.5 927.4 52.1 927.4 101.4 927.9 97.7 927.9 54.7 928.6 54.7 928.6 93.2 929.3 89.3 929.3 55.7 930.0 55.5 930.0 89.1 930.4 89.9 930.4 52.9 931.4 54.9 931.4 87.5 932.1 85.8 932.1 53.7 932.8 52.7 932.8 86.4 933.5 88.3 933.5 51.2 934.2 53.4 934.2 83.9 934.9 82.8 934.9 52.4 935.6 54.0 935.6 82.7 936.5 84.7 936.5 51.5 937.0 52.1 937.0 83.2 938.0 83.2 938.0 35.3 938.4 42.6 938.4 82.1 939.1 80.6 939.1 51.3 939.8 50.9 939.8 79.0 940.5 79.4 940.5 50.6 941.1 49.6 941.1 81.5 941.9 77.2 941.9 50.1 942.6 47.6 942.6 74.5 943.3 71.8 943.3 45.8 944.1 33.7 944.1 72.4 944.7 72.0 944.7 41.4 945.4 43.0 945.4 72.0 946.1 71.6 946.1 43.2 946.8 43.2 946.8 76.6 947.2 81.6 947.2 42.0 947.5 45.1 947.5 79.3 948.2 76.3 948.2 44.3 948.9 46.5 948.9 76.1 949.6 75.8 949.6 47.4 950.3 47.2 950.3 77.3 951.0 80.1 951.0 44.3 951.7 53.7 951.7 79.3 952.4 86.6 952.4 57.7 953.2 64.9 953.2 92.3 953.8 90.6 953.8 66.6 954.5 67.3 954.5 91.2 955.5 95.2 955.5 64.8 955.9 65.1 955.9 93.4 956.6 91.4 956.6 64.2 957.3 63.5 957.3 93.8 958.1 98.0 958.1 54.3 958.7 63.2 958.7 93.5 959.4 95.0 959.4 66.6 960.1 67.5 960.1 97.1 960.9 100.0 960.9 67.8 961.5 73.1 961.5 99.8 962.2 99.2 962.2 77.4 962.9 81.2 962.9 101.5 963.6 106.7 963.6 84.6 964.3 82.3 964.3 99.9 965.0 100.8 965.0 79.9 965.7 77.9 965.7 99.1 966.4 98.6 966.4 77.9 966.9 73.4 966.9 101.1 967.8 98.0 967.8 74.6 968.5 75.0 968.5 99.1 969.2 99.3 969.2 76.4 969.9 75.1 969.9 98.0 970.7 101.2 970.7 72.7 971.3 78.0 971.3 98.3 972.0 99.1 972.0 80.0 973.0 82.0 973.0 113.5 973.4 106.2 973.4 85.6 974.1 80.9 974.1 99.8 974.8 99.3 974.8 77.0 975.3 73.1 975.3 99.1 976.2 95.7 976.2 72.7 976.9 73.9 976.9 96.1 977.6 97.1 977.6 75.0 978.4 71.4 978.4 98.9 979.0 98.5 979.0 72.7 979.7 67.3 979.7 97.4 980.4 95.8 980.4 65.4 981.4 60.7 981.4 99.6 981.8 94.8 981.8 63.3 982.5 61.0 982.5 95.4 983.2 92.6 983.2 59.4 984.0 56.4 984.0 95.3 984.6 93.4 984.6 60.1 985.3 59.7 985.3 92.2 986.0 90.8 986.0 59.2 986.7 58.9 986.7 98.8 987.4 94.6 987.4 62.1 988.1 60.3 988.1 91.6 988.8 91.2 988.8 60.4 989.8 57.2 989.8 93.4 990.2 87.3 990.2 58.5 990.9 52.4 990.9 84.3 991.3 86.5 991.3 47.5 991.6 49.7 991.6 83.6 992.3 84.3 992.3 49.3 993.0 49.4 993.0 83.0 993.7 83.7 993.7 46.2 994.6 36.7 994.6 84.6 995.1 80.9 995.1 42.0 995.8 44.7 995.8 80.3 996.5 80.5 996.5 47.4 997.4 45.3 997.4 81.7 997.9 78.8 997.9 46.7 998.6 43.1 998.6 75.2 999.3 73.7 999.3 40.1 1000.0 37.6 1000.0 77.0 1000.7 75.0 1000.7 38.2 1001.4 38.0 1001.4 71.3 1002.3 71.6 1002.3 36.6 1002.8 40.1 1002.8 69.4 1003.5 72.3 1003.5 44.6 1004.2 47.6 1004.2 75.5 1004.6 80.0 1004.6 46.8 1004.9 52.3 1004.9 78.7 1005.6 79.6 1005.6 54.0 1006.3 56.3 1006.3 80.7 1006.8 84.6 1006.8 55.8 1007.7 54.7 1007.7 80.3 1008.4 80.0 1008.4 55.7 1009.1 51.5 1009.1 80.1 1009.8 78.6 1009.8 52.9 1010.5 53.7 1010.5 81.2 1011.2 81.7 1011.2 54.2 1012.2 52.0 1012.2 88.1 1012.6 85.3 1012.6 56.0 1013.3 57.3 1013.3 83.7 1014.0 85.0 1014.0 56.5 1014.7 59.2 1014.7 85.4 1015.2 86.3 1015.2 56.0 1016.1 58.8 1016.1 87.0 1016.8 88.6 1016.8 58.6 1017.5 58.7 1017.5 87.3 1018.3 95.3 1018.3 58.7 1018.9 64.2 1018.9 90.9 1019.6 91.4 1019.6 68.0 1020.3 68.6 1020.3 89.8 1021.3 93.5 1021.3 71.0 1021.7 72.5 1021.7 92.4 1022.4 92.5 1022.4 72.6 1023.1 75.4 1023.1 96.6 1023.8 99.4 1023.8 75.4 1024.3 74.1 1024.3 102.2 1025.2 98.9 1025.2 75.9 1025.9 77.4 1025.9 99.7 1026.6 101.8 1026.6 74.9 1027.1 73.2 1027.1 110.4 1028.0 101.0 1028.0 75.6 1028.9 68.0 1028.9 101.5 1029.4 99.9 1029.4 74.7 1030.1 79.1 1030.1 101.3 1030.8 100.8 1030.8 81.6 1031.2 81.6 1031.2 103.7 1031.5 101.8 1031.5 83.1 1032.2 83.2 1032.2 102.4 1032.9 101.0 1032.9 81.8 1033.5 78.6 1033.5 107.5 1034.3 102.7 1034.3 75.8 1035.0 74.3 1035.0 102.0 1035.7 102.3 1035.7 72.6 1036.5 67.9 1036.5 102.0 1037.1 100.9 1037.1 69.3 1037.8 69.3 1037.8 101.2 1038.5 99.2 1038.5 68.1 1039.2 68.2 1039.2 100.2 1039.9 99.5 1039.9 69.1 1040.3 65.9 1040.3 101.4 1041.3 99.4 1041.3 63.3 1042.0 61.1 1042.0 98.1 1042.7 97.5 1042.7 56.2 1043.4 53.4 1043.4 98.4 1044.1 95.2 1044.1 55.9 1044.8 55.2 1044.8 92.4 1045.5 92.2 1045.5 57.4 1046.4 53.5 1046.4 93.8 1046.9 91.4 1046.9 53.6 1047.6 52.8 1047.6 90.6 1048.3 88.5 1048.3 52.1 1049.0 47.7 1049.0 90.5 1049.7 84.7 1049.7 51.6 1050.4 47.6 1050.4 85.1 1051.1 84.2 1051.1 47.5 1051.8 47.2 1051.8 84.9 1052.5 84.6 1052.5 39.9 1053.2 45.6 1053.2 82.6 1053.9 79.9 1053.9 44.9 1054.8 43.0 1054.8 82.5 1055.3 77.3 1055.3 44.9 1056.0 42.5 1056.0 78.6 1056.7 78.7 1056.7 35.2 1057.1 30.3 1057.1 80.5 1057.4 79.1 1057.4 33.8 1058.1 37.9 1058.1 78.8 1058.8 77.3 1058.8 37.5 1059.5 36.6 1059.5 75.3 1060.1 79.7 1060.1 35.9 1060.9 37.4 1060.9 75.1 1061.6 72.0 1061.6 38.7 1062.4 31.7 1062.4 72.4 1063.0 73.6 1063.0 35.7 1063.7 36.6 1063.7 72.6 1064.4 72.9 1064.4 38.2 1065.1 38.1 1065.1 73.9 1065.8 76.8 1065.8 37.9 1066.2 36.8 1066.2 79.4 1066.5 78.8 1066.5 40.8 1067.2 48.0 1067.2 79.5 1067.9 81.5 1067.9 53.4 1068.5 53.5 1068.5 84.6 1069.3 86.8 1069.3 56.5 1070.0 57.1 1070.0 88.9 1070.7 90.1 1070.7 61.0 1071.5 58.9 1071.5 95.4 1072.1 93.6 1072.1 63.2 1072.8 67.5 1072.8 96.1 1073.8 100.5 1073.8 66.7 1074.2 70.4 1074.2 97.6 1074.9 96.7 1074.9 69.6 1075.6 67.8 1075.6 95.3 1076.3 96.0 1076.3 66.4 1076.8 61.2 1076.8 98.3 1077.7 97.3 1077.7 67.5 1078.4 68.3 1078.4 95.3 1079.1 96.3 1079.1 69.5 1079.9 69.3 1079.9 101.8 1080.5 96.5 1080.5 70.5 1081.2 71.9 1081.2 96.5 1081.9 98.4 1081.9 73.7 1082.6 72.8 1082.6 95.9 1083.3 96.4 1083.3 73.8 1083.7 71.0 1083.7 98.2 1084.0 94.3 1084.0 73.1 1084.7 73.8 1084.7 99.2 1085.4 100.9 1085.4 76.0 1086.1 78.3 1086.1 100.2 1086.7 104.0 1086.7 77.3 1087.5 82.2 1087.5 102.0 1088.2 100.7 1088.2 82.7 1089.0 81.7 1089.0 116.9 1089.6 108.0 1089.6 82.7 1090.3 80.5 1090.3 104.5 1091.3 103.7 1091.3 73.4 1091.7 76.1 1091.7 100.5 1092.4 99.9 1092.4 74.9 1093.1 74.5 1093.1 101.1 1093.8 100.9 1093.8 76.8 1094.3 74.4 1094.3 103.7 1095.2 101.3 1095.2 75.5 1095.9 75.1 1095.9 99.9 1096.6 100.5 1096.6 76.4 1097.4 73.5 1097.4 101.0 1098.0 95.8 1098.0 75.0 1098.7 72.3 1098.7 95.5 1099.4 93.9 1099.4 69.8 1100.4 58.8 1100.4 96.7 1100.8 94.7 1100.8 65.2 1101.5 68.0 1101.5 95.8 1102.2 94.8 1102.2 68.0 1102.9 70.2 1102.9 92.5 1103.5 98.4 1103.5 64.5 1104.3 62.2 1104.3 93.5 1105.0 91.0 1105.0 59.0 1105.7 54.2 1105.7 91.9 1106.4 86.4 1106.4 54.1 1107.1 54.0 1107.1 84.5 1107.8 86.7 1107.8 48.1 1108.3 42.0 1108.3 86.2 1109.2 80.3 1109.2 51.1 1109.9 54.1 1109.9 79.7 1110.6 79.7 1110.6 53.0 1111.1 51.9 1111.1 80.3 1112.0 77.7 1112.0 50.6 1112.7 47.7 1112.7 77.4 1113.4 76.0 1113.4 42.8 1113.8 35.4 1113.8 77.2 1114.8 76.8 1114.8 45.9 1115.5 44.4 1115.5 78.6 1116.2 79.3 1116.2 45.2 1117.2 42.4 1117.2 82.9 1117.6 78.7 1117.6 46.2 1118.3 48.2 1118.3 80.3 1119.0 79.4 1119.0 52.0 1119.7 49.8 1119.7 80.2 1120.4 82.1 1120.4 51.5 1121.0 48.4 1121.0 86.0 1121.8 77.2 1121.8 47.5 1122.5 46.4 1122.5 77.2 1123.2 78.9 1123.2 45.4 1124.0 35.4 1124.0 81.3 1124.6 78.8 1124.6 41.7 1125.3 42.1 1125.3 81.1 1126.0 80.5 1126.0 42.4 1126.7 43.4 1126.7 77.8 1127.0 80.9 1127.0 40.7 1127.4 45.0 1127.4 80.6 1128.1 82.4 1128.1 50.0 1128.8 53.8 1128.8 84.7 1129.3 87.5 1129.3 54.3 1130.2 58.8 1130.2 84.1 1130.9 84.2 1130.9 61.3 1131.6 61.7 1131.6 84.3 1132.4 89.0 1132.4 61.9 1133.0 65.5 1133.0 90.5 1133.7 94.2 1133.7 66.5 1134.7 67.9 1134.7 99.1 1135.1 99.1 1135.1 70.0 1135.8 72.4 1135.8 102.0 1136.5 103.4 1136.5 76.1 1136.9 72.8 1136.9 107.6 1137.9 107.0 1137.9 74.0 1138.6 73.9 1138.6 106.3 1139.3 106.8 1139.3 73.9 1139.7 73.3 1139.7 110.8 1140.0 106.5 1140.0 74.9 1140.7 75.2 1140.7 105.6 1141.4 105.4 1141.4 78.0 1142.3 74.9 1142.3 107.3 1142.8 105.4 1142.8 82.9 1143.7 87.9 1143.7 107.5"/>
<rect x="654.5" y="25.5" width="513.0" height="117.0" fill="none" stroke="#000" stroke-width="0.9"/>
<path d="M677.5 142.5v4.3M788.5 142.5v4.3M899.5 142.5v4.3M1010.5 142.5v4.3M1121.5 142.5v4.3M654.5 132.5h-4.3M654.5 96.5h-4.3M654.5 61.5h-4.3M654.5 25.5h-4.3" stroke="#000" stroke-width="0.9" fill="none"/>
<rect x="1049.50" y="118.50" width="113.00" height="19" rx="2.2" fill="#fff" fill-opacity="0.8" stroke="#ccc" stroke-opacity="0.8" stroke-width="1.1"/>
<path d="M1053.94 126.10h22.22" stroke="#ffa500" stroke-width="1.67" stroke-linecap="square" fill="none"/>
</g>
<g>
<path class="d" stroke="#008000" d="M83.3 338.4 83.3 324.6 84.3 314.1 84.3 362.6 84.7 351.8 84.7 313.9 85.4 311.7 85.4 343.8 85.8 343.0 85.8 309.7 86.1 311.2 86.1 339.6 86.8 335.0 86.8 312.2 87.3 310.7 87.3 332.4 88.2 330.4 88.2 313.4 89.1 307.0 89.1 331.5 89.6 329.4 89.6 313.4 90.3 313.5 90.3 330.6 91.1 341.3 91.1 311.4 91.7 313.5 91.7 331.4 92.4 327.7 92.4 309.0 93.1 301.3 93.1 328.3 93.8 327.7 93.8 308.1 94.5 307.6 94.5 327.9 95.2 327.1 95.2 306.5 95.7 304.6 95.7 329.4 96.6 328.5 96.6 297.6 97.5 283.4 97.5 328.6 98.0 323.2 98.0 286.0 98.7 282.5 98.7 317.3 99.4 313.9 99.4 284.7 100.1 286.2 100.1 315.4 100.8 311.0 100.8 284.9 101.8 283.9 101.8 315.0 102.2 315.2 102.2 285.0 102.9 285.0 102.9 318.1 103.3 321.1 103.3 283.2 103.6 286.3 103.6 317.5 104.3 312.9 104.3 282.3 105.0 284.5 105.0 311.7 105.7 311.0 105.7 280.6 106.3 275.2 106.3 311.1 107.1 307.3 107.1 283.5 107.8 284.6 107.8 308.5 108.6 314.6 108.6 280.4 109.2 282.7 109.2 308.5 109.9 306.6 109.9 279.7 110.6 277.9 110.6 303.9 111.3 303.2 111.3 276.8 111.6 274.2 111.6 306.6 112.0 304.3 112.0 276.0 112.7 277.2 112.7 302.9 113.4 304.3 113.4 277.5 114.1 277.2 114.1 302.7 114.7 303.5 114.7 275.0 115.5 276.8 115.5 300.0 116.2 302.3 116.2 276.7 116.9 276.7 116.9 303.7 117.7 305.9 117.7 273.7 118.3 275.8 118.3 304.3 119.0 304.6 119.0 275.7 119.7 275.9 119.7 304.0 120.5 308.1 120.5 264.9 121.1 273.7 121.1 304.9 121.8 308.2 121.8 275.5 122.6 270.7 122.6 312.1 123.2 309.5 123.2 274.3 123.9 277.4 123.9 307.2 124.6 309.6 124.6 278.7 125.3 281.2 125.3 308.1 126.0 310.8 126.0 284.6 126.7 283.6 126.7 312.0 127.6 314.2 127.6 283.4 128.1 289.4 128.1 315.5 128.8 316.9 128.8 296.9 129.5 300.6 129.5 322.8 129.9 328.6 129.9 300.1 130.9 301.3 130.9 318.6 131.6 318.4 131.6 301.9 132.3 301.2 132.3 317.1 132.9 321.1 132.9 299.2 133.7 301.1 133.7 316.6 134.4 317.5 134.4 302.4 135.2 294.6 135.2 318.5 135.8 316.6 135.8 300.5 136.5 303.0 136.5 317.8 137.5 326.2 137.5 302.9 137.9 305.4 137.9 328.2 138.6 332.7 138.6 307.0 139.3 308.3 139.3 341.4 139.8 352.7 139.8 308.2 140.7 311.5 140.7 341.7 141.4 345.1 141.4 312.3 142.1 312.7 142.1 349.0 142.8 346.1 142.8 315.6 143.6 317.4 143.6 347.4 144.2 345.8 144.2 319.5 144.9 318.1 144.9 346.1 145.9 353.6 145.9 315.1 146.3 317.2 146.3 349.7 147.0 346.4 147.0 319.0 147.7 316.8 147.7 343.4 148.4 343.3 148.4 314.8 148.9 312.5 148.9 347.2 149.8 340.2 149.8 306.0 150.5 300.8 150.5 337.7 150.9 336.6 150.9 297.5 151.2 297.3 151.2 335.0 151.9 332.5 151.9 297.6 152.7 293.3 152.7 342.5 153.3 331.4 153.3 294.7 154.0 293.5 154.0 324.6 155.0 323.3 155.0 284.1 155.4 288.4 155.4 322.4 156.1 323.8 156.1 294.7 156.8 294.3 156.8 324.7 157.3 326.0 157.3 289.3 158.2 290.0 158.2 325.5 158.9 324.3 158.9 287.4 159.6 287.1 159.6 324.4 160.3 323.3 160.3 282.7 160.6 279.6 160.6 325.5 161.0 321.4 161.0 281.4 161.7 284.4 161.7 318.0 162.4 317.9 162.4 283.9 163.4 282.7 163.4 318.1 163.8 316.0 163.8 283.7 164.5 280.9 164.5 313.0 165.2 313.4 165.2 279.6 165.9 276.6 165.9 311.7 166.4 312.0 166.4 270.3 167.3 276.7 167.3 310.0 168.0 310.9 168.0 274.3 168.7 274.0 168.7 311.7 169.5 312.8 169.5 272.1 170.1 273.3 170.1 310.4 170.8 308.0 170.8 272.2 171.5 271.1 171.5 305.8 172.5 304.8 172.5 261.5 172.9 265.8 172.9 303.1 173.6 302.2 173.6 266.0 174.3 266.1 174.3 301.7 174.8 304.2 174.8 264.3 175.7 270.1 175.7 300.8 176.4 301.3 176.4 272.6 177.1 274.9 177.1 300.9 177.8 303.7 177.8 274.9 178.5 277.7 178.5 303.2 179.4 308.1 179.4 271.4 179.9 277.3 179.9 306.9 180.6 306.7 180.6 279.6 181.3 281.9 181.3 308.1 182.0 310.8 182.0 282.2 182.4 281.6 182.4 314.6 182.7 311.3 182.7 282.7 183.4 286.0 183.4 312.8 184.1 313.6 184.1 282.8 184.7 282.4 184.7 314.3 185.5 314.3 185.5 285.7 186.2 289.9 186.2 317.7 186.9 317.5 186.9 290.0 187.7 291.6 187.7 323.8 188.3 321.8 188.3 295.8 189.0 295.5 189.0 322.7 190.0 325.4 190.0 293.1 190.4 295.4 190.4 323.9 191.1 319.8 191.1 297.2 191.8 295.0 191.8 319.2 192.3 321.6 192.3 291.5 193.2 308.2 193.2 328.4 193.9 336.3 193.9 311.5 194.6 311.5 194.6 344.5 195.3 344.8 195.3 317.9 196.1 316.1 196.1 350.6 196.7 348.9 196.7 316.9 197.4 314.8 197.4 348.9 198.1 347.1 198.1 310.4 198.8 310.3 198.8 347.6 199.5 348.0 199.5 306.1 199.9 303.7 199.9 349.7 200.2 345.9 200.2 307.2 200.9 305.0 200.9 339.3 201.6 333.1 201.6 303.8 202.2 300.8 202.2 330.9 203.0 330.5 203.0 311.4 203.7 309.1 203.7 330.7 204.5 339.2 204.5 308.2 205.1 308.7 205.1 332.8 205.8 331.7 205.8 308.5 206.7 302.1 206.7 331.0 207.2 330.9 207.2 306.3 207.9 310.5 207.9 334.1 208.6 340.7 208.6 309.9 209.0 308.3 209.0 348.3 210.0 335.3 210.0 304.7 210.7 301.8 210.7 335.5 211.3 337.0 211.3 296.4 212.1 294.4 212.1 334.1 212.8 332.2 212.8 290.1 213.5 286.1 213.5 329.9 214.4 328.5 214.4 281.6 214.9 283.1 214.9 324.6 215.6 322.5 215.6 285.2 216.3 285.7 216.3 320.8 217.0 318.7 217.0 285.4 217.7 284.3 217.7 317.2 218.2 317.1 218.2 282.5 219.1 283.3 219.1 315.9 220.0 325.1 220.0 278.2 220.5 281.9 220.5 315.6 221.2 312.4 221.2 278.9 221.9 278.4 221.9 312.6 222.6 313.4 222.6 277.1 223.3 276.3 223.3 312.9 224.2 313.5 224.2 271.1 224.7 276.7 224.7 311.4 225.4 310.4 225.4 279.2 226.1 278.2 226.1 309.5 226.8 307.6 226.8 277.0 227.3 275.0 227.3 308.1 228.2 305.4 228.2 275.4 228.9 274.0 228.9 304.3 229.6 308.1 229.6 272.6 230.3 275.7 230.3 306.2 231.0 306.2 231.0 275.1 231.7 276.3 231.7 305.8 232.4 303.2 232.4 276.4 233.4 274.4 233.4 308.2 233.8 306.2 233.8 273.7 234.5 273.9 234.5 306.3 235.2 306.6 235.2 270.7 236.0 267.5 236.0 306.7 236.6 307.1 236.6 272.4 237.3 270.3 237.3 309.0 237.8 312.6 237.8 265.3 238.7 272.3 238.7 311.2 239.4 310.8 239.4 273.0 240.1 274.1 240.1 313.5 240.6 313.9 240.6 273.4 241.5 276.8 241.5 309.5 242.2 312.5 242.2 277.7 242.9 279.9 242.9 312.6 243.6 315.6 243.6 278.1 244.3 286.2 244.3 315.6 245.0 317.9 245.0 289.5 245.9 291.6 245.9 328.4 246.4 326.4 246.4 293.4 247.1 295.6 247.1 326.4 247.8 324.9 247.8 293.6 248.5 293.9 248.5 326.6 248.9 329.1 248.9 292.2 249.9 296.9 249.9 329.6 250.6 328.9 250.6 298.3 251.3 300.8 251.3 328.8 252.0 330.7 252.0 300.7 252.7 302.9 252.7 324.6 253.4 324.1 253.4 301.7 254.3 300.0 254.3 328.2 254.8 324.5 254.8 303.0 255.5 305.4 255.5 323.9 256.2 322.7 256.2 308.2 256.5 306.6 256.5 324.6 256.9 323.3 256.9 307.0 257.6 306.9 257.6 323.4 258.3 322.1 258.3 305.7 258.8 301.5 258.8 323.3 259.7 325.2 259.7 310.2 260.4 310.4 260.4 327.3 261.1 332.5 261.1 309.7 261.8 314.1 261.8 334.2 262.5 338.2 262.5 315.7 263.2 319.8 263.2 343.2 264.1 358.8 264.1 321.9 264.6 320.5 264.6 353.0 265.3 350.6 265.3 316.1 265.7 311.2 265.7 352.1 266.0 345.6 266.0 310.6 266.7 304.4 266.7 333.6 267.2 328.6 267.2 297.8 268.1 297.9 268.1 326.1 268.8 323.5 268.8 296.6 269.5 293.9 269.5 323.4 270.2 326.1 270.2 284.0 270.9 292.5 270.9 324.5 271.6 324.7 271.6 291.5 272.3 291.8 272.3 324.0 273.3 328.4 273.3 291.0 273.7 291.8 273.7 323.6 274.4 322.6 274.4 288.0 275.1 284.6 275.1 323.5 275.8 322.4 275.8 278.7 276.3 269.5 276.3 324.6 277.2 320.1 277.2 278.1 277.9 276.7 277.9 319.6 278.6 318.4 278.6 276.4 279.3 274.0 279.3 318.0 280.1 319.4 280.1 271.1 280.7 273.8 280.7 314.2 281.4 311.7 281.4 274.3 282.1 275.0 282.1 313.2 282.8 311.2 282.8 276.0 283.2 274.9 283.2 314.1 283.5 311.3 283.5 276.8 284.2 277.1 284.2 310.1 284.9 309.0 284.9 276.1 285.6 275.5 285.6 305.8 286.2 306.3 286.2 267.6 287.0 273.7 287.0 301.4 287.7 304.2 287.7 272.7 288.4 273.4 288.4 303.5 289.3 308.0 289.3 270.4 289.8 270.1 289.8 304.8 290.5 302.9 290.5 270.3 291.2 272.0 291.2 302.3 291.9 303.6 291.9 269.6 292.3 265.3 292.3 307.9 292.6 305.6 292.6 269.3 293.3 269.5 293.3 306.4 294.0 307.1 294.0 269.1 294.7 268.2 294.7 305.7 295.3 308.2 295.3 260.0 296.1 268.9 296.1 307.5 296.8 307.8 296.8 268.9 297.5 270.7 297.5 308.6 298.4 311.2 298.4 270.4 298.9 273.1 298.9 311.2 299.6 312.4 299.6 276.7 300.3 283.1 300.3 313.5 301.0 313.9 301.0 284.9 301.4 282.8 301.4 316.3 302.4 314.5 302.4 285.7 303.1 285.9 303.1 315.2 303.8 318.2 303.8 287.4 304.5 287.9 304.5 316.9 305.2 321.8 305.2 277.9 305.9 292.8 305.9 323.0 306.8 332.4 306.8 298.1 307.3 302.0 307.3 325.0 308.0 324.9 308.0 302.1 308.7 301.8 308.7 324.3 309.4 324.2 309.4 301.4 310.1 302.7 310.1 327.0 310.6 328.0 310.6 299.1 311.5 303.8 311.5 328.1 312.2 333.6 312.2 304.2 312.8 303.8 312.8 343.6 313.6 330.1 313.6 305.6 314.3 305.8 314.3 329.7 315.0 329.5 315.0 307.1 315.9 297.1 315.9 330.7 316.4 328.4 316.4 303.7 317.1 305.2 317.1 331.6 317.8 333.9 317.8 307.7 318.5 309.3 318.5 337.9 318.9 339.9 318.9 306.8 319.9 307.3 319.9 337.2 320.6 337.2 320.6 308.3 321.3 306.9 321.3 337.3 322.0 339.1 322.0 299.1 322.7 308.7 322.7 336.2 323.4 336.7 323.4 312.5 324.3 311.1 324.3 339.7 324.8 335.2 324.8 311.4 325.5 310.1 325.5 335.0 326.2 331.9 326.2 309.8 326.9 303.3 326.9 332.0 327.3 335.0 327.3 295.6 327.6 303.9 327.6 333.2 328.5 345.7 328.5 311.2 329.0 311.9 329.0 337.0 329.7 335.7 329.7 309.8 330.4 309.4 330.4 333.8 331.1 336.0 331.1 308.0 331.8 300.4 331.8 331.2 332.5 328.6 332.5 293.1 333.4 278.9 333.4 327.8 333.9 324.2 333.9 281.5 334.6 281.4 334.6 319.6 335.3 315.8 335.3 282.4 336.0 282.2 336.0 315.6 336.4 316.3 336.4 279.7 337.4 281.7 337.4 314.0 338.1 312.3 338.1 280.5 338.8 279.5 338.8 312.9 339.5 314.8 339.5 278.0 340.2 280.1 340.2 310.4 340.9 309.3 340.9 279.2 341.6 280.7 341.6 309.3 342.5 311.2 342.5 278.3 343.0 278.9 343.0 309.8 344.0 309.7 344.0 262.2 344.4 269.5 344.4 308.6 345.1 307.2 345.1 278.1 345.8 277.7 345.8 305.5 346.5 306.0 346.5 277.4 347.1 276.4 347.1 308.1 347.9 303.8 347.9 276.9 348.6 274.4 348.6 301.1 349.3 298.4 349.3 272.6 350.1 260.6 350.1 299.0 350.7 298.7 350.7 268.3 351.4 269.8 351.4 298.7 352.1 298.2 352.1 270.0 352.8 270.0 352.8 303.2 353.2 308.1 353.2 268.8 353.5 272.0 353.5 305.9 354.2 302.9 354.2 271.2 354.9 273.4 354.9 302.7 355.6 302.4 355.6 274.2 356.3 274.0 356.3 303.9 357.0 306.7 357.0 271.1 357.7 280.5 357.7 305.8 358.4 313.1 358.4 284.4 359.2 291.6 359.2 318.8 359.8 317.1 359.8 293.2 360.5 294.0 360.5 317.6 361.5 321.7 361.5 291.5 361.9 291.7 361.9 319.8 362.6 317.9 362.6 290.8 363.3 290.2 363.3 320.3 364.1 324.5 364.1 281.0 364.7 289.9 364.7 319.9 365.4 321.5 365.4 293.3 366.1 294.1 366.1 323.6 366.9 326.5 366.9 294.5 367.5 299.7 367.5 326.3 368.2 325.6 368.2 304.0 368.9 307.7 368.9 327.9 369.6 333.1 369.6 311.2 370.3 308.9 370.3 326.3 371.0 327.2 371.0 306.5 371.7 304.5 371.7 325.5 372.4 325.0 372.4 304.4 372.9 300.0 372.9 327.5 373.8 324.5 373.8 301.2 374.5 301.6 374.5 325.5 375.2 325.8 375.2 303.0 375.9 301.7 375.9 324.4 376.7 327.6 376.7 299.4 377.3 304.6 377.3 324.8 378.0 325.6 378.0 306.6 379.0 308.6 379.0 339.8 379.4 332.6 379.4 312.2 380.1 307.4 380.1 326.2 380.8 325.7 380.8 303.6 381.3 299.7 381.3 325.5 382.2 322.2 382.2 299.3 382.9 300.6 382.9 322.5 383.6 323.5 383.6 301.6 384.4 298.0 384.4 325.4 385.0 324.9 385.0 299.4 385.7 294.0 385.7 323.9 386.4 322.3 386.4 292.1 387.4 287.4 387.4 326.0 387.8 321.2 387.8 290.0 388.5 287.7 388.5 321.9 389.2 319.1 389.2 286.1 390.0 283.2 390.0 321.7 390.6 319.8 390.6 286.8 391.3 286.5 391.3 318.7 392.0 317.3 392.0 286.0 392.7 285.6 392.7 325.2 393.4 321.1 393.4 288.8 394.1 287.0 394.1 318.0 394.8 317.7 394.8 287.1 395.8 284.0 395.8 319.9 396.2 313.8 396.2 285.2 396.9 279.2 396.9 310.8 397.3 313.1 397.3 274.4 397.6 276.5 397.6 310.1 398.3 310.9 398.3 276.0 399.0 276.2 399.0 309.5 399.7 310.2 399.7 273.0 400.6 263.6 400.6 311.1 401.1 307.5 401.1 268.8 401.8 271.5 401.8 306.9 402.5 307.1 402.5 274.2 403.4 272.1 403.4 308.2 403.9 305.3 403.9 273.5 404.6 269.9 404.6 301.8 405.3 300.4 405.3 266.9 406.0 264.5 406.0 303.5 406.7 301.6 406.7 265.1 407.4 264.9 407.4 297.9 408.3 298.3 408.3 263.5 408.8 266.9 408.8 296.1 409.5 299.0 409.5 271.4 410.2 274.4 410.2 302.1 410.6 306.6 410.6 273.6 410.9 279.1 410.9 305.3 411.6 306.2 411.6 280.7 412.3 283.1 412.3 307.3 412.8 311.2 412.8 282.6 413.7 281.5 413.7 306.8 414.4 306.6 414.4 282.5 415.1 278.3 415.1 306.7 415.8 305.1 415.8 279.7 416.5 280.5 416.5 307.8 417.2 308.2 417.2 280.9 418.2 278.8 418.2 314.6 418.6 311.9 418.6 282.8 419.3 284.1 419.3 310.3 420.0 311.5 420.0 283.3 420.7 285.9 420.7 311.9 421.2 312.8 421.2 282.8 422.1 285.5 422.1 313.5 422.8 315.1 422.8 285.3 423.5 285.4 423.5 313.8 424.3 321.8 424.3 285.4 424.9 290.9 424.9 317.4 425.6 317.9 425.6 294.7 426.3 295.3 426.3 316.3 427.3 319.9 427.3 297.6 427.7 299.1 427.7 318.8 428.4 319.0 428.4 299.2 429.1 302.0 429.1 323.1 429.8 325.8 429.8 302.0 430.3 300.7 430.3 328.6 431.2 325.3 431.2 302.5 431.9 304.0 431.9 326.1 432.6 328.2 432.6 301.5 433.1 299.8 433.1 336.8 434.0 327.4 434.0 302.2 434.9 294.7 434.9 327.9 435.4 326.3 435.4 301.3 436.1 305.7 436.1 327.8 436.8 327.2 436.8 308.2 437.2 308.2 437.2 330.0 437.5 328.2 437.5 309.7 438.2 309.7 438.2 328.8 438.9 327.4 438.9 308.4 439.5 305.2 439.5 333.9 440.3 329.1 440.3 302.4 441.0 300.9 441.0 328.4 441.7 328.7 441.7 299.3 442.5 294.6 442.5 328.4 443.1 327.3 443.1 295.9 443.8 296.0 443.8 327.6 444.5 325.6 444.5 294.7 445.2 294.9 445.2 326.6 445.9 325.9 445.9 295.8 446.3 292.6 446.3 327.8 447.3 325.8 447.3 290.0 448.0 287.8 448.0 324.5 448.7 323.9 448.7 282.9 449.4 280.2 449.4 324.9 450.1 321.6 450.1 282.7 450.8 282.0 450.8 318.9 451.5 318.6 451.5 284.1 452.4 280.2 452.4 320.2 452.9 317.9 452.9 280.4 453.6 279.6 453.6 317.1 454.3 315.0 454.3 278.8 455.0 274.5 455.0 317.0 455.7 311.3 455.7 278.4 456.4 274.4 456.4 311.6 457.1 310.7 457.1 274.3 457.8 274.0 457.8 311.4 458.5 311.2 458.5 266.8 459.2 272.4 459.2 309.1 459.9 306.5 459.9 271.8 460.8 269.8 460.8 309.0 461.3 303.9 461.3 271.7 462.0 269.3 462.0 305.1 462.7 305.3 462.7 262.1 463.1 257.2 463.1 307.1 463.4 305.7 463.4 260.7 464.1 264.8 464.1 305.4 464.8 303.9 464.8 264.4 465.5 263.5 465.5 301.9 466.1 306.3 466.1 262.8 466.9 264.3 466.9 301.7 467.6 298.7 467.6 265.6 468.4 258.6 468.4 299.1 469.0 300.2 469.0 262.6 469.7 263.5 469.7 299.2 470.4 299.6 470.4 265.1 471.1 264.9 471.1 300.5 471.8 303.4 471.8 264.8 472.2 263.7 472.2 306.0 472.5 305.4 472.5 267.6 473.2 274.8 473.2 306.1 473.9 308.1 473.9 280.2 474.5 280.3 474.5 311.2 475.3 313.3 475.3 283.3 476.0 283.8 476.0 315.4 476.7 316.6 476.7 287.7 477.5 285.7 477.5 321.9 478.1 320.0 478.1 289.9 478.8 294.2 478.8 322.6 479.8 326.9 479.8 293.4 480.2 297.0 480.2 324.0 480.9 323.1 480.9 296.2 481.6 294.4 481.6 321.7 482.3 322.5 482.3 293.1 482.8 288.0 482.8 324.7 483.7 323.7 483.7 294.2 484.4 294.9 484.4 321.7 485.1 322.7 485.1 296.1 485.9 296.0 485.9 328.2 486.5 322.9 486.5 297.1 487.2 298.6 487.2 323.0 487.9 324.8 487.9 300.4 488.6 299.5 488.6 322.4 489.3 322.8 489.3 300.4 489.7 297.6 489.7 324.7 490.0 320.7 490.0 299.7 490.7 300.4 490.7 325.6 491.4 327.3 491.4 302.6 492.1 304.9 492.1 326.6 492.7 330.4 492.7 303.9 493.5 308.7 493.5 328.5 494.2 327.1 494.2 309.3 495.0 308.3 495.0 343.2 495.6 334.3 495.6 309.2 496.3 307.1 496.3 330.9 497.3 330.1 497.3 300.1 497.7 302.7 497.7 326.9 498.4 326.3 498.4 301.5 499.1 301.1 499.1 327.5 499.8 327.4 499.8 303.4 500.3 301.0 500.3 330.1 501.2 327.7 501.2 302.1 501.9 301.7 501.9 326.3 502.6 326.9 502.6 303.0 503.4 300.1 503.4 327.4 504.0 322.2 504.0 301.6 504.7 298.9 504.7 321.9 505.4 320.4 505.4 296.4 506.4 285.5 506.4 323.1 506.8 321.2 506.8 291.9 507.5 294.6 507.5 322.3 508.2 321.3 508.2 294.7 508.9 296.8 508.9 319.0 509.5 324.8 509.5 291.2 510.3 288.9 510.3 320.0 511.0 317.5 511.0 285.7 511.7 280.9 511.7 318.4 512.4 312.9 512.4 280.9 513.1 280.7 513.1 311.1 513.8 313.2 513.8 274.9 514.3 268.8 514.3 312.7 515.2 306.9 515.2 277.9 515.9 280.9 515.9 306.2 516.6 306.2 516.6 279.7 517.1 278.7 517.1 306.8 518.0 304.3 518.0 277.4 518.7 274.5 518.7 304.0 519.4 302.6 519.4 269.6 519.8 262.3 519.8 303.7 520.8 303.4 520.8 272.7 521.5 271.3 521.5 305.2 522.2 305.9 522.2 272.1 523.2 269.2 523.2 309.5 523.6 305.3 523.6 273.1 524.3 275.0 524.3 306.8 525.0 306.0 525.0 278.8 525.7 276.6 525.7 306.7 526.4 308.7 526.4 278.3 527.0 275.2 527.0 312.6 527.8 303.8 527.8 274.3 528.5 273.2 528.5 303.8 529.2 305.5 529.2 272.2 530.0 262.3 530.0 307.9 530.6 305.4 530.6 268.5 531.3 269.0 531.3 307.7 532.0 307.1 532.0 269.3 532.7 270.3 532.7 304.3 533.0 307.5 533.0 267.5 533.4 271.9 533.4 307.2 534.1 309.0 534.1 276.8 534.8 280.5 534.8 311.3 535.3 314.0 535.3 281.0 536.2 285.5 536.2 310.7 536.9 310.7 536.9 288.0 537.6 288.4 537.6 310.9 538.4 315.5 538.4 288.6 539.0 292.2 539.0 317.0 539.7 320.7 539.7 293.2 540.7 294.6 540.7 325.5 541.1 325.5 541.1 296.7 541.8 299.0 541.8 328.4 542.5 329.8 542.5 302.7 542.9 299.4 542.9 333.9 543.9 333.4 543.9 300.6 544.6 300.5 544.6 332.6 545.3 333.2 545.3 300.5 545.7 299.9 545.7 337.2 546.0 332.9 546.0 301.5 546.7 301.8 546.7 331.9 547.4 331.8 547.4 304.6 548.3 301.5 548.3 333.7 548.8 331.7 548.8 309.5 549.7 314.4 549.7 333.9"/>
<rect x="60.5" y="252.5" width="513.0" height="117.0" fill="none" stroke="#000" stroke-width="0.9"/>
<path d="M83.5 369.5v4.3M194.5 369.5v4.3M305.5 369.5v4.3M416.5 369.5v4.3M527.5 369.5v4.3M60.5 347.5h-4.3M60.5 312.5h-4.3M60.5 277.5h-4.3" stroke="#000" stroke-width="0.9" fill="none"/>
<rect x="403.50" y="345.50" width="165.00" height="19" rx="2.2" fill="#fff" fill-opacity="0.8" stroke="#ccc" stroke-opacity="0.8" stroke-width="1.1"/>
<path d="M407.94 353.10h22.22" stroke="#008000" stroke-width="1.67" stroke-linecap="square" fill="none"/>
</g>
<g>
<path class="d" stroke="#ff0000" d="M677.3 331.6 677.3 317.7 678.3 313.3 678.3 363.5 678.7 348.3 678.7 313.2 679.4 306.8 679.4 335.8 679.8 334.5 679.8 303.2 680.1 305.0 680.1 331.3 680.8 327.7 680.8 304.0 681.5 304.5 681.5 323.5 682.1 322.5 682.1 302.5 682.9 303.9 682.9 322.6 683.6 322.0 683.6 303.2 684.0 300.9 684.0 323.1 685.1 335.1 685.1 307.0 685.7 305.5 685.7 325.2 686.4 320.7 686.4 302.0 687.1 292.7 687.1 319.3 687.8 316.7 687.8 300.3 688.5 301.0 688.5 316.0 689.2 318.6 689.2 299.4 689.7 295.8 689.7 325.3 690.6 313.0 690.6 295.5 691.3 290.1 691.3 312.5 692.0 311.7 692.0 284.9 692.7 285.6 692.7 309.8 693.4 308.8 693.4 284.9 694.1 286.3 694.1 308.7 694.7 310.9 694.7 283.5 695.5 286.9 695.5 306.9 696.2 305.4 696.2 285.5 696.9 283.9 696.9 306.0 697.3 307.1 697.3 280.8 697.6 282.7 697.6 305.2 698.3 304.7 698.3 280.8 699.0 279.3 699.0 303.0 699.7 300.9 699.7 277.6 700.3 270.9 700.3 304.8 701.1 304.5 701.1 279.0 701.8 280.4 701.8 304.1 702.3 307.8 702.3 278.2 703.2 276.8 703.2 302.5 704.1 303.9 704.1 273.7 704.6 276.9 704.6 298.2 705.3 297.9 705.3 274.3 706.0 270.1 706.0 295.7 706.4 296.1 706.4 265.9 707.4 271.1 707.4 293.4 708.1 291.5 708.1 271.8 708.7 270.5 708.7 294.1 709.5 293.0 709.5 272.1 710.2 272.9 710.2 292.6 710.9 291.7 710.9 273.1 711.7 273.6 711.7 293.5 712.3 292.4 712.3 273.8 713.0 272.9 713.0 290.7 714.0 291.6 714.0 267.2 714.4 269.8 714.4 291.3 715.1 292.2 715.1 272.6 715.8 274.4 715.8 295.6 716.6 298.1 716.6 273.1 717.2 279.3 717.2 297.7 717.9 296.7 717.9 278.0 718.6 277.5 718.6 296.6 719.3 297.1 719.3 276.0 720.0 277.7 720.0 297.4 720.7 298.2 720.7 278.7 721.4 278.9 721.4 297.4 721.9 300.9 721.9 273.9 722.8 286.2 722.8 303.4 723.5 310.3 723.5 288.0 723.9 284.4 723.9 316.3 724.9 305.1 724.9 286.2 725.6 286.3 725.6 305.9 726.3 306.3 726.3 288.3 726.9 287.4 726.9 306.9 727.7 304.9 727.7 289.2 728.4 288.9 728.4 303.9 728.8 305.6 728.8 285.9 729.1 289.4 729.1 305.0 729.8 308.0 729.8 292.7 730.5 294.3 730.5 308.5 731.5 314.5 731.5 293.6 731.9 298.1 731.9 315.6 732.6 322.7 732.6 298.1 733.3 297.9 733.3 335.0 733.8 351.6 733.8 297.3 734.7 299.0 734.7 336.8 735.4 339.7 735.4 300.2 736.1 301.0 736.1 343.6 736.8 341.1 736.8 305.6 737.5 306.5 737.5 342.5 737.9 344.8 737.9 305.7 738.9 307.5 738.9 343.3 739.9 350.9 739.9 304.9 740.3 307.1 740.3 344.1 741.0 341.6 741.0 309.0 741.7 307.9 741.7 340.5 742.4 339.9 742.4 306.5 742.9 304.8 742.9 342.5 743.8 329.2 743.8 302.0 744.4 296.4 744.4 325.2 745.2 325.1 745.2 301.8 745.9 301.4 745.9 329.6 746.4 338.4 746.4 300.3 747.3 296.1 747.3 322.5 748.3 320.7 748.3 287.4 748.7 289.6 748.7 317.9 749.4 320.4 749.4 290.7 750.1 290.1 750.1 320.8 750.5 325.0 750.5 288.2 751.5 292.2 751.5 318.9 752.2 318.8 752.2 293.2 752.8 291.9 752.8 319.3 753.6 315.8 753.6 292.0 754.3 288.4 754.3 314.8 754.6 316.1 754.6 284.5 755.0 286.0 755.0 312.5 755.7 308.6 755.7 289.0 756.4 287.9 756.4 308.4 757.4 308.5 757.4 285.8 757.8 286.1 757.8 304.0 758.5 300.9 758.5 281.7 759.2 274.3 759.2 302.1 759.9 294.9 759.9 276.4 760.6 275.4 760.6 297.0 761.3 296.2 761.3 272.3 761.6 269.1 761.6 298.7 762.0 297.7 762.0 271.8 762.7 273.0 762.7 295.0 763.4 296.3 763.4 276.5 763.8 273.0 763.8 302.9 764.1 295.8 764.1 273.9 764.8 272.9 764.8 291.3 765.5 291.8 765.5 271.7 766.5 265.1 766.5 290.3 766.9 290.2 766.9 270.4 767.6 270.3 767.6 288.8 768.3 289.9 768.3 270.1 768.8 268.3 768.8 290.3 769.6 301.7 769.6 270.6 770.4 272.6 770.4 291.8 771.1 292.8 771.1 273.9 771.8 275.5 771.8 291.9 772.6 291.9 772.6 267.7 773.2 274.5 773.2 292.3 773.9 293.7 773.9 277.5 774.9 278.3 774.9 298.7 775.3 297.7 775.3 278.9 776.0 279.1 776.0 296.4 776.7 298.1 776.7 278.1 777.4 278.3 777.4 297.8 777.9 300.2 777.9 277.6 778.8 278.6 778.8 300.7 779.5 302.3 779.5 279.6 780.2 280.7 780.2 304.1 781.0 308.5 781.0 280.6 781.6 288.4 781.6 307.1 782.3 308.8 782.3 292.5 783.2 292.3 783.2 313.3 783.7 312.3 783.7 296.5 784.4 292.5 784.4 311.6 785.1 310.6 785.1 288.8 785.5 284.3 785.5 312.5 786.5 311.7 786.5 290.1 787.2 291.1 787.2 311.3 787.8 313.2 787.8 288.9 788.6 299.2 788.6 323.4 789.3 346.2 789.3 304.3 790.0 306.9 790.0 333.8 790.7 336.3 790.7 306.3 791.6 307.3 791.6 340.6 792.1 338.0 792.1 309.3 792.8 309.7 792.8 336.0 793.5 339.7 793.5 308.8 793.9 306.2 793.9 346.0 794.2 338.5 794.2 306.8 794.9 304.7 794.9 327.3 795.6 323.2 795.6 301.8 796.2 289.2 796.2 322.1 797.0 318.3 797.0 300.5 797.7 303.2 797.7 321.0 798.5 331.3 798.5 301.0 799.1 304.0 799.1 320.6 799.8 316.7 799.8 301.0 800.7 293.4 800.7 319.0 801.2 324.3 801.2 299.8 801.9 306.1 801.9 336.4 802.3 343.7 802.3 302.7 802.6 305.7 802.6 341.5 803.3 338.2 803.3 306.5 804.0 303.5 804.0 338.1 804.5 345.8 804.5 299.7 805.4 297.7 805.4 325.6 806.4 320.8 806.4 292.0 806.8 292.2 806.8 319.3 807.5 317.4 807.5 291.9 808.2 290.1 808.2 316.8 808.9 315.8 808.9 291.3 809.9 282.1 809.9 316.1 810.3 313.4 810.3 286.1 811.0 291.2 811.0 312.4 811.7 309.2 811.7 287.9 812.2 286.5 812.2 311.8 813.1 312.0 813.1 281.3 814.0 276.2 814.0 320.2 814.5 314.9 814.5 276.4 815.2 276.2 815.2 312.7 815.9 311.7 815.9 275.8 816.6 275.6 816.6 310.9 817.5 312.5 817.5 272.3 818.0 275.8 818.0 309.0 818.7 304.6 818.7 275.0 819.4 273.3 819.4 300.2 819.8 299.1 819.8 270.8 820.1 271.5 820.1 294.6 820.8 295.3 820.8 273.3 821.5 271.8 821.5 293.6 822.2 293.5 822.2 272.9 822.9 274.5 822.9 294.1 823.6 295.4 823.6 266.2 824.3 272.7 824.3 292.5 825.0 293.7 825.0 272.9 825.7 273.6 825.7 293.9 826.6 298.0 826.6 273.5 827.1 273.6 827.1 294.1 827.8 291.8 827.8 273.5 828.5 270.4 828.5 291.5 828.9 294.1 828.9 269.0 829.2 269.1 829.2 291.5 830.0 294.9 830.0 266.1 830.6 271.4 830.6 294.2 831.3 295.3 831.3 267.3 831.8 263.7 831.8 298.8 832.7 296.3 832.7 267.1 833.4 269.6 833.4 297.1 834.1 298.3 834.1 269.2 834.6 269.0 834.6 299.5 835.5 296.8 835.5 275.1 836.2 275.3 836.2 296.7 836.9 300.1 836.9 278.2 837.6 275.3 837.6 301.7 838.3 302.7 838.3 281.7 839.0 283.7 839.0 307.4 839.7 312.1 839.7 285.4 840.3 282.9 840.3 317.1 841.1 315.2 841.1 287.4 841.8 286.1 841.8 313.5 842.5 313.3 842.5 285.9 842.9 285.2 842.9 316.9 843.9 315.6 843.9 290.1 844.6 292.1 844.6 317.2 845.3 317.8 845.3 294.7 846.0 294.9 846.0 320.1 846.7 318.8 846.7 295.1 847.4 295.7 847.4 318.4 848.1 320.0 848.1 297.3 849.0 293.5 849.0 320.9 849.5 319.2 849.5 296.9 850.2 295.6 850.2 318.4 850.9 318.2 850.9 296.7 851.3 295.7 851.3 320.8 851.6 318.2 851.6 298.1 852.3 297.4 852.3 315.4 853.1 313.3 853.1 290.3 853.7 297.0 853.7 313.0 854.4 317.0 854.4 298.1 855.1 298.2 855.1 324.0 855.8 325.5 855.8 304.1 856.5 308.4 856.5 331.2 857.2 335.1 857.2 309.0 858.1 308.6 858.1 359.1 858.6 344.7 858.6 306.7 859.3 301.8 859.3 342.6 859.7 343.8 859.7 299.5 860.0 297.8 860.0 336.0 860.7 325.1 860.7 292.5 861.2 287.4 861.2 320.8 862.1 319.3 862.1 289.1 862.8 288.3 862.8 320.3 863.5 320.8 863.5 287.2 864.2 288.4 864.2 320.3 864.9 320.2 864.9 289.4 865.8 285.5 865.8 322.9 866.3 321.8 866.3 290.9 867.0 293.2 867.0 321.2 867.7 322.5 867.7 292.1 868.0 291.8 868.0 326.6 868.4 323.0 868.4 290.5 869.1 287.6 869.1 321.8 869.8 321.3 869.8 285.4 870.3 279.9 870.3 321.3 871.2 310.4 871.2 281.9 871.9 280.4 871.9 303.5 872.6 299.2 872.6 273.8 873.3 276.4 873.3 299.1 874.0 301.9 874.0 275.3 874.9 272.9 874.9 312.9 875.4 303.3 875.4 274.0 876.1 274.5 876.1 300.8 876.8 298.8 876.8 275.7 877.2 274.4 877.2 303.0 877.5 297.6 877.5 275.2 878.2 272.7 878.2 296.4 878.9 294.6 878.9 270.3 879.5 267.5 879.5 293.1 880.3 286.6 880.3 268.8 881.0 269.3 881.0 285.4 881.7 288.9 881.7 270.9 882.5 263.1 882.5 291.0 883.1 287.8 883.1 268.6 883.8 269.9 883.8 288.6 884.8 291.8 884.8 268.2 885.2 270.0 885.2 290.7 885.9 292.1 885.9 267.8 886.6 268.9 886.6 291.6 887.1 293.4 887.1 266.9 888.0 269.8 888.0 292.0 888.7 289.9 888.7 271.3 889.6 262.9 889.6 293.4 890.1 292.5 890.1 267.6 890.8 270.3 890.8 293.6 891.5 294.5 891.5 272.1 892.4 272.0 892.4 296.4 892.9 293.6 892.9 276.7 893.6 276.7 893.6 296.0 894.3 298.8 894.3 275.6 895.0 276.7 895.0 300.4 895.4 303.3 895.4 276.7 896.4 280.0 896.4 301.8 897.1 304.4 897.1 281.4 897.7 280.5 897.7 307.1 898.5 304.8 898.5 282.6 899.2 280.5 899.2 303.3 899.7 306.9 899.7 275.3 900.8 285.8 900.8 321.3 901.3 313.4 901.3 289.8 902.0 288.9 902.0 310.1 902.7 312.2 902.7 290.7 903.4 289.2 903.4 310.8 903.8 314.6 903.8 288.1 904.1 290.9 904.1 312.1 904.8 314.0 904.8 291.2 905.5 294.7 905.5 316.6 906.2 321.7 906.2 297.2 906.8 295.0 906.8 338.1 907.6 319.1 907.6 297.2 908.3 294.8 908.3 317.8 909.0 316.8 909.0 292.0 909.4 287.2 909.4 317.7 910.4 317.4 910.4 293.3 911.1 293.1 911.1 320.5 911.8 323.5 911.8 293.4 912.5 293.9 912.5 327.3 912.9 333.6 912.9 291.2 913.9 295.7 913.9 328.5 914.6 327.6 914.6 295.1 915.5 288.0 915.5 332.1 916.0 328.8 916.0 294.2 916.7 298.7 916.7 326.1 917.4 327.3 917.4 301.8 918.3 301.2 918.3 332.7 918.8 325.3 918.8 302.8 919.8 298.1 919.8 319.3 920.2 321.3 920.2 301.7 920.9 300.8 920.9 327.3 921.6 332.3 921.6 296.9 922.1 291.8 922.1 339.1 923.0 334.9 923.0 302.4 924.0 305.6 924.0 343.5 924.4 337.6 924.4 306.3 925.1 305.4 925.1 333.4 925.8 331.7 925.8 302.6 926.2 298.1 926.2 331.3 926.5 324.6 926.5 298.1 927.2 290.8 927.2 318.9 928.1 311.6 928.1 280.5 928.6 282.1 928.6 309.6 929.3 306.1 929.3 281.9 930.0 278.8 930.0 304.3 930.7 303.5 930.7 277.6 931.2 275.3 931.2 304.8 932.1 303.1 932.1 276.0 932.8 276.3 932.8 302.5 933.5 301.9 933.5 277.0 934.2 276.0 934.2 304.1 934.9 302.1 934.9 276.3 935.6 277.7 935.6 299.4 936.5 301.8 936.5 274.5 937.0 273.3 937.0 297.0 938.0 291.8 938.0 257.1 938.4 263.9 938.4 290.5 939.1 286.9 939.1 273.1 939.8 274.8 939.8 289.7 940.3 296.2 940.3 274.4 941.2 271.6 941.2 290.0 941.9 288.6 941.9 270.7 942.6 268.7 942.6 287.3 943.4 290.2 943.4 261.0 944.0 262.4 944.0 286.1 944.7 281.1 944.7 260.9 945.6 259.9 945.6 284.3 946.1 285.4 946.1 263.4 946.8 268.7 946.8 285.7 947.5 289.9 947.5 270.1 948.4 272.9 948.4 294.9 948.9 293.1 948.9 275.4 949.6 275.5 949.6 294.3 950.3 293.9 950.3 274.1 951.0 273.8 951.0 293.5 951.7 297.9 951.7 272.8 952.4 275.8 952.4 296.4 953.1 299.1 953.1 278.9 953.8 281.3 953.8 300.8 954.8 312.9 954.8 280.8 955.2 284.1 955.2 307.0 955.9 305.0 955.9 283.6 956.6 283.6 956.6 307.1 957.3 307.9 957.3 282.6 958.0 281.6 958.0 308.2 958.6 311.5 958.6 278.3 959.4 284.4 959.4 308.4 960.1 310.2 960.1 284.6 960.9 283.7 960.9 311.7 961.5 311.6 961.5 290.1 962.2 291.7 962.2 312.8 962.9 313.6 962.9 294.6 963.6 296.5 963.6 322.4 964.3 316.8 964.3 298.2 965.0 297.5 965.0 316.2 965.7 314.5 965.7 296.3 966.2 292.8 966.2 317.0 967.1 316.6 967.1 294.4 967.8 294.0 967.8 315.4 968.5 316.9 968.5 294.2 969.2 293.5 969.2 316.6 970.0 319.4 970.0 291.8 970.6 295.8 970.6 318.6 971.3 318.2 971.3 298.5 972.0 303.3 972.0 317.8 973.0 333.6 973.0 299.6 973.4 300.2 973.4 325.1 974.1 319.3 974.1 300.2 974.8 300.0 974.8 316.7 975.3 318.5 975.3 296.5 976.2 298.2 976.2 315.4 976.9 314.5 976.9 298.4 977.6 295.5 977.6 314.1 978.4 315.4 978.4 293.4 979.0 295.0 979.0 312.7 979.7 312.9 979.7 292.7 980.4 291.2 980.4 311.8 981.1 313.0 981.1 291.1 981.8 290.1 981.8 311.4 982.2 313.8 982.2 286.6 982.5 287.7 982.5 311.3 983.2 309.5 983.2 288.3 983.9 286.7 983.9 310.4 984.4 313.2 984.4 284.3 985.3 286.3 985.3 314.1 986.0 321.6 986.0 283.8 986.7 284.7 986.7 312.9 987.4 310.9 987.4 284.9 988.2 279.2 988.2 310.1 988.8 306.2 988.8 278.6 989.5 277.7 989.5 303.6 990.2 303.5 990.2 276.3 990.9 275.2 990.9 301.9 991.3 303.3 991.3 270.2 991.6 272.4 991.6 299.7 992.3 300.1 992.3 272.7 993.0 272.2 993.0 298.6 993.7 297.3 993.7 272.7 994.4 272.7 994.4 297.0 995.1 298.5 995.1 263.2 995.8 270.4 995.8 295.1 996.5 295.5 996.5 272.6 997.4 272.2 997.4 296.6 997.9 293.5 997.9 272.7 998.9 268.5 998.9 300.2 999.3 293.5 999.3 269.8 1000.0 266.9 1000.0 285.8 1000.7 285.0 1000.7 268.7 1001.4 267.8 1001.4 283.4 1002.1 282.6 1002.1 267.8 1003.0 264.5 1003.0 285.5 1003.5 284.6 1003.5 269.0 1004.2 270.5 1004.2 286.9 1004.9 287.6 1004.9 270.6 1005.6 271.8 1005.6 292.3 1006.1 300.1 1006.1 270.5 1007.0 270.5 1007.0 290.4 1007.7 289.4 1007.7 270.0 1008.4 268.9 1008.4 289.4 1008.8 290.4 1008.8 263.0 1009.8 271.4 1009.8 292.6 1010.5 293.3 1010.5 270.7 1011.4 269.4 1011.4 298.6 1011.9 294.0 1011.9 274.8 1012.6 273.2 1012.6 296.0 1013.3 298.3 1013.3 272.9 1014.0 275.9 1014.0 297.2 1014.5 297.9 1014.5 274.4 1015.4 279.1 1015.4 299.7 1016.1 301.0 1016.1 279.1 1016.8 281.9 1016.8 305.3 1017.5 309.5 1017.5 281.3 1018.2 287.2 1018.2 308.4 1018.9 307.5 1018.9 286.4 1019.6 288.8 1019.6 304.8 1020.5 308.4 1020.5 287.4 1021.0 290.4 1021.0 304.9 1021.7 308.4 1021.7 292.5 1022.4 292.5 1022.4 310.4 1023.1 314.6 1023.1 294.6 1023.6 293.4 1023.6 320.1 1024.5 312.5 1024.5 291.9 1025.1 285.8 1025.1 314.7 1025.9 315.0 1025.9 291.8 1026.6 293.6 1026.6 322.5 1027.1 332.9 1027.1 291.9 1028.0 293.1 1028.0 318.3 1028.9 317.7 1028.9 285.0 1029.4 294.1 1029.4 315.9 1030.1 316.3 1030.1 299.4 1030.8 303.0 1030.8 317.1 1031.2 320.5 1031.2 304.0 1031.5 305.6 1031.5 318.0 1032.2 317.9 1032.2 304.4 1032.9 304.2 1032.9 320.5 1033.5 325.8 1033.5 303.3 1034.3 301.8 1034.3 319.7 1035.0 319.7 1035.0 299.9 1035.7 297.3 1035.7 319.6 1036.5 320.7 1036.5 293.5 1037.1 296.1 1037.1 317.4 1037.8 313.6 1037.8 296.3 1038.8 291.3 1038.8 313.0 1039.2 310.6 1039.2 293.4 1039.9 293.8 1039.9 312.7 1040.6 314.5 1040.6 296.2 1041.3 294.1 1041.3 314.3 1041.8 321.5 1041.8 292.0 1042.7 293.3 1042.7 316.1 1043.4 314.4 1043.4 291.1 1044.1 292.4 1044.1 315.7 1044.9 317.1 1044.9 289.6 1045.5 286.0 1045.5 315.3 1046.4 314.3 1046.4 277.4 1046.9 279.9 1046.9 310.1 1047.6 309.0 1047.6 280.4 1048.3 278.8 1048.3 308.6 1049.0 308.4 1049.0 280.0 1049.5 276.1 1049.5 307.8 1050.4 303.0 1050.4 275.9 1051.1 273.6 1051.1 301.0 1051.8 298.4 1051.8 269.6 1052.5 266.8 1052.5 299.6 1053.2 296.8 1053.2 268.8 1053.9 268.7 1053.9 295.9 1054.6 296.6 1054.6 268.4 1055.5 267.5 1055.5 297.9 1056.0 295.3 1056.0 268.5 1056.7 270.5 1056.7 296.9 1057.4 295.8 1057.4 269.1 1058.1 267.2 1058.1 293.4 1058.6 297.1 1058.6 263.9 1059.5 268.3 1059.5 292.3 1060.2 292.9 1060.2 269.3 1060.9 267.0 1060.9 298.7 1061.6 288.7 1061.6 269.9 1062.3 267.1 1062.3 285.8 1063.1 282.7 1063.1 265.3 1063.7 267.2 1063.7 283.6 1064.4 285.3 1064.4 268.5 1065.1 269.9 1065.1 286.8 1065.8 288.3 1065.8 265.7 1066.2 263.9 1066.2 291.8 1066.5 290.0 1066.5 266.3 1067.2 271.1 1067.2 291.2 1067.9 292.4 1067.9 274.6 1068.5 272.8 1068.5 296.3 1069.3 296.5 1069.3 273.9 1070.0 275.8 1070.0 300.1 1070.7 302.2 1070.7 275.5 1071.5 275.4 1071.5 307.7 1072.1 306.9 1072.1 283.3 1073.0 282.5 1073.0 316.3 1073.5 311.0 1073.5 287.7 1074.2 286.7 1074.2 308.7 1074.9 308.0 1074.9 287.8 1075.6 286.0 1075.6 307.7 1076.3 307.6 1076.3 283.0 1076.8 277.5 1076.8 309.9 1077.7 308.7 1077.7 284.3 1078.4 286.4 1078.4 310.3 1079.1 311.6 1079.1 286.7 1079.9 285.9 1079.9 317.6 1080.5 313.7 1080.5 286.6 1081.2 288.1 1081.2 312.9 1081.9 312.7 1081.9 287.0 1082.9 286.6 1082.9 313.2 1083.3 312.3 1083.3 290.0 1084.0 291.2 1084.0 314.9 1084.7 319.0 1084.7 291.6 1085.2 291.9 1085.2 324.7 1086.1 322.9 1086.1 296.4 1086.8 299.4 1086.8 321.6 1087.5 325.2 1087.5 298.1 1088.2 301.3 1088.2 323.2 1089.0 341.9 1089.0 300.9 1089.6 300.4 1089.6 327.4 1090.3 321.5 1090.3 300.1 1091.3 287.5 1091.3 317.8 1091.7 317.0 1091.7 295.5 1092.4 297.3 1092.4 317.6 1093.1 318.9 1093.1 295.0 1093.6 291.3 1093.6 321.6 1094.5 318.2 1094.5 297.0 1095.2 298.2 1095.2 317.6 1095.9 317.8 1095.9 300.8 1096.6 299.8 1096.6 319.2 1097.3 314.5 1097.3 302.7 1098.0 299.8 1098.0 315.3 1098.7 313.2 1098.7 298.1 1099.7 292.9 1099.7 313.0 1100.1 310.3 1100.1 292.4 1100.8 288.0 1100.8 310.4 1101.2 311.8 1101.2 281.9 1101.5 284.9 1101.5 311.2 1102.2 310.3 1102.2 289.2 1102.9 288.7 1102.9 309.7 1103.6 311.4 1103.6 287.8 1104.2 286.6 1104.2 317.5 1105.0 306.5 1105.0 288.1 1105.7 286.5 1105.7 307.1 1106.5 307.1 1106.5 282.9 1107.1 281.7 1107.1 305.8 1107.8 308.2 1107.8 277.3 1108.3 269.3 1108.3 311.6 1109.2 303.8 1109.2 277.4 1109.9 277.1 1109.9 300.7 1110.6 298.3 1110.6 273.6 1111.1 270.9 1111.1 300.0 1112.0 296.0 1112.0 272.1 1112.7 271.5 1112.7 294.9 1113.4 291.5 1113.4 271.3 1113.8 265.2 1113.8 291.8 1114.8 287.8 1114.8 270.9 1115.5 272.5 1115.5 288.2 1116.4 294.0 1116.4 269.9 1116.9 269.8 1116.9 290.9 1117.6 288.6 1117.6 268.7 1118.3 267.1 1118.3 288.8 1118.7 290.1 1118.7 263.6 1119.0 266.0 1119.0 287.3 1119.7 289.6 1119.7 270.6 1120.4 269.4 1120.4 291.9 1121.1 293.4 1121.1 270.2 1121.7 269.7 1121.7 300.1 1122.5 293.0 1122.5 273.4 1123.2 271.7 1123.2 293.5 1123.9 294.8 1123.9 273.6 1124.8 271.4 1124.8 296.5 1125.3 294.7 1125.3 271.8 1126.0 272.1 1126.0 293.2 1126.7 290.8 1126.7 274.6 1127.4 272.5 1127.4 290.8 1127.8 290.4 1127.8 270.6 1128.8 275.5 1128.8 291.1 1129.5 295.0 1129.5 277.4 1130.1 276.9 1130.1 302.4 1130.9 295.9 1130.9 281.4 1131.6 280.9 1131.6 298.4 1132.3 298.8 1132.3 281.9 1133.1 282.1 1133.1 301.1 1133.7 303.5 1133.7 285.8 1134.4 288.3 1134.4 307.4 1135.4 314.5 1135.4 292.0 1135.8 295.0 1135.8 314.0 1136.5 317.4 1136.5 294.1 1137.2 297.1 1137.2 321.7 1137.7 325.1 1137.7 292.1 1138.6 295.5 1138.6 325.1 1139.3 327.2 1139.3 296.1 1139.7 295.1 1139.7 329.4 1140.0 327.3 1140.0 299.1 1140.7 295.8 1140.7 325.3 1141.4 325.3 1141.4 296.2 1142.3 295.0 1142.3 325.5 1142.8 326.4 1142.8 298.5 1143.7 300.4 1143.7 329.1"/>
<rect x="654.5" y="252.5" width="513.0" height="117.0" fill="none" stroke="#000" stroke-width="0.9"/>
<path d="M677.5 369.5v4.3M788.5 369.5v4.3M899.5 369.5v4.3M1010.5 369.5v4.3M1121.5 369.5v4.3M654.5 353.5h-4.3M654.5 308.5h-4.3M654.5 264.5h-4.3" stroke="#000" stroke-width="0.9" fill="none"/>
<rect x="980.50" y="345.50" width="182.00" height="19" rx="2.2" fill="#fff" fill-opacity="0.8" stroke="#ccc" stroke-opacity="0.8" stroke-width="1.1"/>
<path d="M984.94 353.10h22.22" stroke="#ff0000" stroke-width="1.67" stroke-linecap="square" fill="none"/>
</g>
<g>
<path class="d" stroke="#800080" d="M83.3 497.6 83.3 489.1 83.3 486.0 83.3 547.3 84.0 541.6 84.0 485.9 84.7 485.3 84.7 540.3 85.5 553.4 85.5 483.9 86.1 484.4 86.1 540.6 86.8 533.6 86.8 484.2 87.8 483.8 87.8 533.7 88.2 532.4 88.2 484.3 88.9 484.5 88.9 534.6 89.6 537.6 89.6 484.1 90.1 483.8 90.1 541.6 91.0 542.0 91.0 484.2 91.7 484.3 91.7 543.1 92.4 539.6 92.4 484.3 93.1 483.9 93.1 548.9 93.8 551.4 93.8 484.4 94.5 484.9 94.5 551.3 95.4 558.6 95.4 485.2 95.9 485.5 95.9 554.5 96.6 558.1 96.6 485.6 97.3 486.1 97.3 560.1 97.7 564.4 97.7 485.2 98.7 485.3 98.7 560.0 99.4 561.7 99.4 485.1 100.1 484.6 100.1 563.5 100.8 564.7 100.8 484.2 101.5 483.9 101.5 568.9 102.2 563.8 102.2 484.7 102.9 484.9 102.9 560.9 103.6 561.4 103.6 485.5 104.6 485.2 104.6 564.0 105.0 555.9 105.0 485.2 105.7 484.9 105.7 557.5 106.4 556.9 106.4 484.5 106.8 483.9 106.8 558.5 107.8 558.0 107.8 484.6 108.5 484.2 108.5 556.9 109.4 568.0 109.4 483.8 109.9 484.3 109.9 557.2 110.6 550.2 110.6 484.2 111.4 483.9 111.4 549.3 112.0 550.5 112.0 484.5 112.7 484.3 112.7 555.7 113.7 563.0 113.7 483.9 114.1 484.8 114.1 559.7 114.8 562.4 114.8 486.1 115.5 487.2 115.5 562.2 116.2 562.4 116.2 488.4 116.7 489.0 116.7 564.1 117.6 553.7 117.6 487.6 118.3 486.5 118.3 555.7 119.0 557.6 119.0 485.2 119.8 483.8 119.8 568.3 120.4 561.9 120.4 484.2 121.1 484.2 121.1 560.5 121.8 560.4 121.8 484.1 122.5 483.8 122.5 564.0 123.2 553.7 123.2 484.0 123.9 483.9 123.9 550.8 124.6 547.0 124.6 484.1 125.1 483.8 125.1 547.4 126.0 543.6 126.0 484.0 126.7 484.0 126.7 541.1 127.4 544.6 127.4 483.8 128.1 484.3 128.1 542.0 128.8 539.9 128.8 484.2 129.5 484.0 129.5 541.7 130.1 550.6 130.1 483.8 130.9 483.9 130.9 533.6 131.6 532.1 131.6 484.2 131.9 483.8 131.9 531.1 132.3 531.3 132.3 484.0 133.0 484.0 133.0 537.8 133.7 544.1 133.7 484.0 134.2 483.8 134.2 548.6 135.1 542.9 135.1 484.8 135.8 485.3 135.8 539.2 136.5 550.5 136.5 485.2 137.2 485.8 137.2 530.3 137.9 521.2 137.9 486.0 138.3 485.2 138.3 522.8 139.3 515.1 139.3 486.0 140.3 485.3 140.3 527.1 140.7 517.4 140.7 485.9 141.4 485.5 141.4 515.0 142.1 510.6 142.1 485.2 142.8 484.8 142.8 513.5 143.5 513.7 143.5 484.6 144.1 483.8 144.1 518.0 144.9 527.1 144.9 484.9 145.6 485.2 145.6 549.1 146.3 534.2 146.3 485.1 147.0 484.4 147.0 530.7 147.9 531.7 147.9 483.9 148.4 484.5 148.4 533.6 149.1 540.2 149.1 485.1 149.8 485.7 149.8 545.2 150.2 553.6 150.2 485.2 151.2 485.7 151.2 549.9 151.9 551.6 151.9 485.8 152.6 486.2 152.6 552.2 153.3 558.0 153.3 486.0 154.0 487.0 154.0 559.7 154.8 570.4 154.8 486.8 155.4 487.2 155.4 565.4 156.1 570.2 156.1 486.9 156.8 486.8 156.8 567.1 157.8 571.9 157.8 486.0 158.2 486.9 158.2 567.9 158.9 566.0 158.9 487.3 159.6 487.7 159.6 568.2 160.3 567.7 160.3 488.2 160.9 488.3 160.9 570.7 161.7 564.7 161.7 487.5 162.4 486.4 162.4 562.3 163.1 560.0 163.1 485.2 163.8 485.9 163.8 557.6 164.5 558.5 164.5 486.0 165.4 485.2 165.4 562.9 165.9 559.1 165.9 486.0 166.6 486.4 166.6 554.9 167.3 554.6 167.3 486.9 167.7 486.8 167.7 559.5 168.7 557.7 168.7 488.2 169.4 489.2 169.4 559.8 170.0 560.5 170.0 489.7 170.8 488.6 170.8 561.7 171.5 567.1 171.5 487.6 172.3 486.0 172.3 570.5 172.9 568.1 172.9 486.0 173.6 485.7 173.6 569.3 174.6 570.6 174.6 485.2 175.0 485.3 175.0 566.9 175.7 562.2 175.7 485.1 176.4 484.7 176.4 562.8 177.1 559.2 177.1 484.5 177.6 483.8 177.6 559.6 178.5 558.1 178.5 484.3 179.2 484.3 179.2 556.9 179.9 555.3 179.9 484.1 180.6 483.8 180.6 558.2 181.3 553.3 181.3 483.9 182.0 484.0 182.0 555.7 182.7 555.0 182.7 484.1 183.7 483.8 183.7 555.3 184.1 548.4 184.1 484.3 184.8 484.2 184.8 544.2 185.5 540.7 185.5 484.6 186.0 483.9 186.0 540.8 187.0 560.5 187.0 483.9 187.6 484.3 187.6 546.3 188.3 544.0 188.3 484.3 189.0 484.3 189.0 545.6 189.8 547.0 189.8 483.8 190.4 484.0 190.4 544.9 191.1 543.1 191.1 484.2 191.8 484.3 191.8 543.8 192.8 543.2 192.8 483.9 193.2 484.3 193.2 540.0 193.9 530.8 193.9 484.1 194.6 484.2 194.6 524.4 195.1 525.8 195.1 483.8 196.0 484.4 196.0 516.8 196.7 516.0 196.7 484.2 197.4 483.8 197.4 521.5 198.1 517.6 198.1 484.2 198.8 484.3 198.8 515.6 199.2 517.4 199.2 483.8 199.5 484.0 199.5 517.0 200.2 521.6 200.2 483.9 201.2 483.9 201.2 525.8 201.6 523.3 201.6 484.5 202.3 484.7 202.3 527.6 203.0 527.0 203.0 485.2 203.5 485.2 203.5 531.4 204.4 539.7 204.4 485.9 205.1 486.2 205.1 551.0 205.7 560.7 205.7 486.0 206.5 486.2 206.5 562.1 207.2 566.0 207.2 486.1 207.9 486.1 207.9 570.8 208.8 578.0 208.8 485.2 209.3 486.1 209.3 578.1 210.0 578.2 210.0 486.6 210.7 487.0 210.7 584.5 211.1 590.3 211.1 486.8 211.4 486.8 211.4 583.8 212.1 575.5 212.1 485.7 212.8 484.6 212.8 572.0 213.4 573.0 213.4 483.9 214.2 484.3 214.2 568.4 214.9 567.9 214.9 484.6 215.6 484.5 215.6 568.1 216.4 567.5 216.4 483.9 217.2 492.1 217.2 567.4 217.7 566.2 217.7 490.9 218.4 488.9 218.4 567.2 219.1 565.2 219.1 487.0 219.8 485.1 219.8 571.3 220.2 578.0 220.2 483.9 220.5 484.1 220.5 572.1 221.2 566.1 221.2 484.6 221.9 483.9 221.9 568.0 222.6 567.5 222.6 484.1 223.3 484.2 223.3 569.5 224.0 570.7 224.0 483.9 224.7 484.6 224.7 566.5 225.4 561.8 225.4 484.1 226.1 484.4 226.1 554.2 227.0 559.4 227.0 483.8 227.5 484.1 227.5 556.2 228.2 556.5 228.2 484.2 228.9 484.2 228.9 559.0 229.3 564.4 229.3 483.8 230.3 484.1 230.3 559.5 231.0 558.5 231.0 484.3 231.7 484.2 231.7 558.7 232.4 558.6 232.4 484.1 233.1 484.0 233.1 554.5 233.9 560.9 233.9 483.8 234.5 484.0 234.5 552.7 235.0 555.1 235.0 483.8 235.9 484.2 235.9 551.8 236.6 551.9 236.6 484.2 237.3 484.2 237.3 552.5 238.0 567.7 238.0 483.8 238.7 484.2 238.7 552.3 239.4 546.8 239.4 484.4 240.1 483.9 240.1 548.6 241.1 552.1 241.1 483.8 241.5 484.0 241.5 547.5 242.2 551.0 242.2 484.3 242.9 484.1 242.9 549.2 243.8 558.8 243.8 483.8 244.3 484.1 244.3 549.7 245.0 546.0 245.0 484.2 245.7 484.2 245.7 545.1 246.4 550.2 246.4 483.9 247.1 484.4 247.1 542.9 247.8 538.0 247.8 484.9 248.5 484.3 248.5 540.9 249.5 541.2 249.5 483.9 249.9 484.3 249.9 537.6 250.6 538.8 250.6 484.1 251.3 484.1 251.3 537.2 252.0 535.1 252.0 484.1 252.5 483.9 252.5 539.2 253.4 534.3 253.4 484.1 254.1 484.1 254.1 532.8 254.8 537.8 254.8 483.8 255.5 486.8 255.5 530.3 256.3 529.2 256.3 489.0 256.9 488.9 256.9 527.2 257.6 529.2 257.6 487.8 258.6 483.9 258.6 533.7 259.0 529.8 259.0 485.4 259.7 486.4 259.7 532.8 260.4 537.1 260.4 486.5 261.2 486.0 261.2 561.3 261.8 536.8 261.8 486.7 262.4 486.7 262.4 529.9 263.2 526.6 263.2 489.8 263.9 492.4 263.9 534.2 264.7 545.5 264.7 495.1 265.3 492.6 265.3 543.6 266.0 543.5 266.0 489.9 267.0 485.9 267.0 558.9 267.4 552.8 267.4 485.4 268.1 484.5 268.1 548.9 268.5 552.3 268.5 483.9 268.8 484.5 268.8 550.0 269.5 551.8 269.5 484.1 270.2 484.4 270.2 557.8 270.8 574.7 270.8 483.9 271.6 484.1 271.6 558.5 272.3 558.5 272.3 484.0 273.0 484.0 273.0 561.5 273.8 564.3 273.8 483.9 274.4 485.5 274.4 563.8 275.1 561.5 275.1 486.8 275.8 488.1 275.8 562.0 276.5 566.2 276.5 489.3 277.3 490.5 277.3 578.1 277.9 568.6 277.9 490.6 278.6 488.2 278.6 563.9 279.1 565.9 279.1 483.9 280.0 492.1 280.0 563.0 281.0 572.4 281.0 494.3 281.4 492.9 281.4 564.2 282.1 561.1 282.1 490.1 282.8 487.6 282.8 561.0 283.7 563.6 283.7 483.8 284.2 484.4 284.2 560.8 284.9 557.6 284.9 484.1 285.6 484.1 285.6 559.0 286.3 558.8 286.3 484.0 286.7 483.8 286.7 559.9 287.7 551.0 287.7 484.1 288.4 484.1 288.4 552.1 289.0 553.0 289.0 483.8 289.8 485.8 289.8 550.8 290.5 555.4 290.5 486.9 291.2 487.9 291.2 553.8 292.1 562.5 292.1 489.0 292.6 489.4 292.6 563.9 293.3 572.6 293.3 489.0 294.0 488.1 294.0 568.7 294.7 570.7 294.7 486.5 295.4 485.0 295.4 570.0 295.9 571.6 295.9 483.8 296.8 484.5 296.8 567.4 297.5 563.4 297.5 485.2 298.2 485.5 298.2 561.4 298.9 574.3 298.9 485.2 299.6 485.6 299.6 557.6 300.3 556.1 300.3 485.6 301.2 485.2 301.2 558.8 301.7 552.8 301.7 485.5 302.4 485.2 302.4 553.9 303.1 558.3 303.1 485.1 303.8 484.6 303.8 558.6 304.5 553.6 304.5 484.3 305.0 483.9 305.0 559.0 305.9 548.3 305.9 484.0 306.5 483.8 306.5 543.0 307.3 538.7 307.3 484.1 308.0 484.0 308.0 539.5 308.7 540.8 308.7 484.3 309.6 483.8 309.6 541.1 310.1 537.4 310.1 484.1 310.8 484.0 310.8 532.7 311.5 530.3 311.5 484.3 312.2 484.6 312.2 524.1 312.6 527.9 312.6 483.8 312.9 484.1 312.9 524.2 313.6 522.7 313.6 484.4 314.1 483.9 314.1 522.6 315.0 526.0 315.0 484.3 315.9 483.8 315.9 545.1 316.4 532.8 316.4 484.1 317.1 483.9 317.1 526.4 317.9 530.9 317.9 483.8 318.5 485.1 318.5 527.0 319.2 524.5 319.2 486.7 319.9 488.3 319.9 522.7 320.5 521.8 320.5 489.1 321.3 486.8 321.3 527.1 322.0 540.1 322.0 483.9 322.7 484.2 322.7 534.8 323.4 537.6 323.4 484.1 324.0 483.9 324.0 541.5 324.8 531.1 324.8 483.9 325.5 484.0 325.5 527.8 325.8 527.4 325.8 483.8 326.2 484.1 326.2 535.1 327.1 571.8 327.1 483.9 327.6 484.5 327.6 553.3 328.3 552.8 328.3 484.6 329.0 484.3 329.0 557.8 329.3 561.3 329.3 483.8 329.7 483.9 329.7 557.1 330.4 557.6 330.4 484.3 331.1 484.2 331.1 556.9 331.8 556.8 331.8 484.1 332.4 483.8 332.4 560.6 333.2 559.3 333.2 484.0 333.9 483.9 333.9 557.3 334.6 558.5 334.6 484.0 335.4 483.8 335.4 563.5 336.0 559.7 336.0 484.1 336.7 484.1 336.7 562.5 337.4 558.1 337.4 484.1 338.1 484.3 338.1 564.5 338.5 571.7 338.5 483.9 338.8 484.3 338.8 562.5 339.5 552.8 339.5 484.5 340.0 483.9 340.0 554.0 340.9 552.9 340.9 484.5 341.6 484.5 341.6 555.2 342.3 556.7 342.3 484.4 343.0 483.8 343.0 560.0 343.7 558.1 343.7 484.1 344.4 484.1 344.4 559.1 345.1 557.0 345.1 484.2 346.1 483.8 346.1 561.1 346.5 560.4 346.5 485.9 347.2 488.5 347.2 558.2 347.9 567.4 347.9 490.6 348.6 489.7 348.6 564.5 349.3 564.5 349.3 487.8 350.0 486.3 350.0 565.1 350.9 572.4 350.9 483.8 351.4 484.3 351.4 565.6 352.1 562.0 352.1 484.1 352.8 484.3 352.8 563.4 353.7 565.8 353.7 483.9 354.2 484.1 354.2 564.9 354.9 562.3 354.9 484.2 355.6 484.1 355.6 564.5 356.3 563.6 356.3 484.1 356.7 483.8 356.7 565.3 357.7 546.1 357.7 484.4 358.6 483.9 358.6 541.2 359.1 539.2 359.1 484.3 359.8 484.6 359.8 541.9 360.5 553.3 360.5 484.3 361.0 483.9 361.0 570.2 361.9 539.0 361.9 484.1 362.8 483.9 362.8 534.9 363.3 532.8 363.3 484.3 364.0 484.3 364.0 534.2 364.7 538.4 364.7 483.9 365.1 483.8 365.1 550.6 365.4 543.0 365.4 484.1 366.1 484.3 366.1 533.9 366.8 531.4 366.8 484.0 367.4 483.8 367.4 536.6 368.2 530.1 368.2 484.2 368.9 484.3 368.9 527.1 369.7 527.8 369.7 483.8 370.3 484.1 370.3 526.4 371.0 527.5 371.0 483.9 371.9 483.8 371.9 533.1 372.4 543.3 372.4 484.0 373.0 483.8 373.0 562.2 373.8 542.6 373.8 484.1 374.5 483.9 374.5 539.3 375.0 541.2 375.0 483.8 375.9 484.0 375.9 533.6 376.6 532.3 376.6 484.2 377.3 483.8 377.3 538.5 378.0 527.3 378.0 483.9 378.8 483.8 378.8 518.9 379.4 526.1 379.4 486.6 380.1 489.4 380.1 536.0 381.1 552.2 381.1 492.8 381.5 491.3 381.5 547.5 382.2 551.0 382.2 488.6 382.9 486.1 382.9 553.7 383.4 561.0 383.4 483.8 384.3 484.0 384.3 562.0 385.0 562.4 385.0 484.3 385.7 484.3 385.7 563.6 386.4 571.0 386.4 483.9 387.1 484.2 387.1 568.5 387.8 567.0 387.8 484.2 388.7 483.9 388.7 571.9 389.2 569.0 389.2 484.1 389.9 484.5 389.9 567.1 390.6 564.2 390.6 484.4 391.3 484.5 391.3 563.6 391.7 567.3 391.7 483.9 392.7 484.5 392.7 559.8 393.4 558.5 393.4 484.5 394.1 484.4 394.1 555.9 394.8 559.0 394.8 483.8 395.5 483.9 395.5 559.2 396.2 561.3 396.2 483.9 396.9 484.0 396.9 564.4 397.8 568.4 397.8 483.8 398.3 484.8 398.3 565.5 399.0 565.5 399.0 486.1 399.7 487.6 399.7 566.3 400.4 568.2 400.4 488.9 400.8 489.0 400.8 573.6 401.8 559.1 401.8 487.9 402.4 486.7 402.4 561.3 403.2 560.3 403.2 486.1 403.9 485.4 403.9 559.1 404.6 563.7 404.6 484.6 405.0 483.8 405.0 576.3 405.3 569.5 405.3 484.1 406.0 484.1 406.0 563.9 406.7 567.0 406.7 484.4 407.3 483.8 407.3 570.0 408.1 560.2 408.1 484.3 408.8 484.1 408.8 557.6 409.6 559.2 409.6 483.8 410.2 484.0 410.2 553.5 410.9 552.8 410.9 484.1 411.6 484.0 411.6 550.7 412.6 563.4 412.6 483.9 413.0 484.1 413.0 553.6 413.7 545.7 413.7 484.0 414.4 484.1 414.4 544.2 414.9 543.9 414.9 483.9 415.8 484.5 415.8 540.5 416.5 537.4 416.5 484.2 417.2 484.3 417.2 541.0 417.9 548.3 417.9 483.8 418.6 484.1 418.6 538.0 419.3 536.1 419.3 484.1 420.0 484.0 420.0 535.8 421.0 539.2 421.0 483.8 421.4 484.3 421.4 533.4 422.1 534.5 422.1 484.1 422.8 483.9 422.8 537.2 423.5 533.3 423.5 483.9 424.0 483.8 424.0 537.7 424.9 531.4 424.9 484.0 425.6 484.0 425.6 525.6 426.3 527.0 426.3 483.8 427.0 484.2 427.0 518.8 427.7 516.7 427.7 484.1 428.1 483.8 428.1 518.8 429.1 520.1 429.1 484.1 430.1 483.8 430.1 529.7 430.5 527.5 430.5 484.1 431.2 484.3 431.2 529.6 431.9 526.4 431.9 484.2 432.6 484.1 432.6 527.6 433.1 536.4 433.1 483.8 434.0 484.1 434.0 532.5 434.7 535.0 434.7 484.2 435.4 484.1 435.4 545.6 435.7 554.5 435.7 483.8 436.1 484.0 436.1 542.7 436.8 528.2 436.8 484.3 437.3 483.8 437.3 527.0 438.2 535.0 438.2 484.7 438.9 485.2 438.9 541.8 439.2 549.1 439.2 485.2 439.6 485.5 439.6 549.2 440.3 548.6 440.3 485.9 441.0 485.8 441.0 550.6 441.7 552.8 441.7 486.1 442.3 486.0 442.3 559.1 443.1 556.7 443.1 485.6 443.8 485.3 443.8 556.7 444.5 558.4 444.5 485.2 445.2 484.5 445.2 560.7 446.1 564.8 446.1 483.8 446.6 484.7 446.6 560.0 447.3 561.8 447.3 485.8 448.0 486.5 448.0 560.4 448.7 561.8 448.7 487.3 449.1 487.5 449.1 568.4 450.1 566.8 450.1 488.3 451.0 488.2 451.0 575.5 451.5 570.3 451.5 489.6 452.2 491.1 452.2 566.5 452.9 564.4 452.9 492.6 453.7 492.9 453.7 568.0 454.3 563.8 454.3 492.1 455.0 490.8 455.0 561.5 456.0 571.2 456.0 489.0 456.4 488.9 456.4 563.5 457.1 560.5 457.1 488.3 457.8 486.2 457.8 560.0 458.3 564.1 458.3 483.8 459.2 487.0 459.2 561.8 459.9 559.5 459.9 486.9 460.5 486.7 460.5 561.2 461.3 558.3 461.3 487.5 462.0 488.0 462.0 560.8 462.8 571.8 462.8 488.3 463.4 489.1 463.4 559.9 464.1 562.5 464.1 490.0 464.8 490.7 464.8 564.7 465.5 565.0 465.5 488.5 465.9 486.7 465.9 568.4 466.2 566.0 466.2 489.8 466.9 494.3 466.9 564.5 467.6 565.1 467.6 496.3 468.4 498.2 468.4 573.0 469.0 564.4 469.0 494.6 469.7 489.4 469.7 562.2 470.4 563.1 470.4 483.8 471.1 484.2 471.1 559.4 471.8 554.6 471.8 484.2 472.5 484.0 472.5 547.9 473.5 553.4 473.5 483.8 473.9 484.1 473.9 551.2 474.6 551.5 474.6 483.9 475.3 484.1 475.3 549.3 476.0 548.7 476.0 484.1 476.5 483.9 476.5 550.5 477.4 545.7 477.4 484.3 478.1 484.2 478.1 545.3 478.8 546.3 478.8 484.3 479.6 483.8 479.6 549.6 480.2 534.4 480.2 484.1 480.6 483.8 480.6 534.3 481.6 535.2 481.6 484.1 482.3 483.8 482.3 553.4 483.0 541.2 483.0 484.2 483.7 484.2 483.7 537.5 484.4 540.6 484.4 484.2 484.9 483.9 484.9 542.5 485.8 537.4 485.8 484.5 486.5 484.6 486.5 534.3 487.2 529.5 487.2 484.4 487.9 483.8 487.9 530.7 488.6 528.0 488.6 484.1 489.3 484.0 489.3 526.6 490.2 534.0 490.2 483.8 490.7 484.2 490.7 530.6 491.4 535.8 491.4 484.1 492.0 483.9 492.0 544.6 492.8 534.3 492.8 484.1 493.5 484.3 493.5 531.8 494.0 534.1 494.0 483.8 494.9 484.0 494.9 532.7 495.6 535.3 495.6 484.0 496.3 483.8 496.3 542.2 497.0 536.6 497.0 484.3 497.7 484.8 497.7 535.0 498.4 537.2 498.4 485.1 499.3 485.2 499.3 539.8 499.8 534.3 499.8 485.5 500.5 485.4 500.5 537.5 501.2 539.8 501.2 485.3 501.9 485.2 501.9 541.6 502.4 548.0 502.4 485.2 503.3 485.0 503.3 547.4 504.0 549.2 504.0 484.7 504.7 484.3 504.7 548.2 505.4 552.1 505.4 483.8 506.1 484.2 506.1 551.3 506.8 551.4 506.8 484.3 507.5 484.4 507.5 551.3 508.5 558.2 508.5 483.9 508.9 486.8 508.9 557.0 509.6 561.0 509.6 490.1 510.0 491.3 510.0 564.5 510.3 565.0 510.3 491.7 511.0 491.0 511.0 566.3 511.7 567.4 511.7 490.5 512.3 489.1 512.3 568.6 513.1 567.0 513.1 488.5 513.8 487.4 513.8 565.7 514.6 574.5 514.6 486.0 515.2 485.3 515.2 559.7 516.1 555.3 516.1 483.8 516.6 484.1 516.6 554.8 517.3 554.9 517.3 484.1 518.0 484.1 518.0 558.8 518.4 567.2 518.4 483.9 518.7 483.9 518.7 561.1 519.4 555.2 519.4 484.0 520.1 484.1 520.1 558.8 520.8 559.9 520.8 484.0 521.4 483.8 521.4 563.6 522.2 558.6 522.2 484.1 522.9 484.4 522.9 557.3 523.6 561.7 523.6 484.3 524.4 483.8 524.4 563.1 525.0 558.7 525.0 484.1 526.0 483.8 526.0 556.0 526.4 553.7 526.4 484.1 527.1 484.2 527.1 563.5 527.5 567.8 527.5 483.8 527.8 485.0 527.8 565.9 528.5 567.3 528.5 486.5 529.2 488.0 529.2 567.6 530.1 576.6 530.1 489.8 530.6 489.2 530.6 568.8 531.3 565.6 531.3 488.1 532.0 486.8 532.0 564.9 532.8 564.5 532.8 485.2 533.4 485.4 533.4 559.2 534.1 553.2 534.1 485.0 534.8 484.8 534.8 550.9 535.5 550.6 535.5 484.3 535.9 483.8 535.9 552.3 536.2 548.2 536.2 484.1 536.9 484.4 536.9 544.1 537.6 541.4 537.6 484.1 538.1 483.8 538.1 540.2 539.0 539.8 539.0 484.1 539.7 484.5 539.7 541.1 540.1 544.8 540.1 483.9 541.1 484.5 541.1 538.4 541.9 540.6 541.9 483.9 542.5 484.2 542.5 539.3 543.2 542.3 543.2 484.1 543.9 484.1 543.9 543.1 544.6 552.0 544.6 484.0 545.0 483.8 545.0 558.5 545.3 552.0 545.3 484.2 546.0 484.2 546.0 545.9 546.7 544.0 546.7 484.1 547.3 483.8 547.3 544.7 548.1 534.1 548.1 483.9 548.8 483.8 548.8 530.3 549.7 538.5 549.7 485.2"/>
<rect x="60.5" y="478.5" width="513.0" height="118.0" fill="none" stroke="#000" stroke-width="0.9"/>
<path d="M83.5 596.5v4.3M194.5 596.5v4.3M305.5 596.5v4.3M416.5 596.5v4.3M527.5 596.5v4.3M60.5 582.5h-4.3M60.5 557.5h-4.3M60.5 533.5h-4.3M60.5 508.5h-4.3M60.5 484.5h-4.3" stroke="#000" stroke-width="0.9" fill="none"/>
<rect x="66.50" y="572.50" width="140.00" height="19" rx="2.2" fill="#fff" fill-opacity="0.8" stroke="#ccc" stroke-opacity="0.8" stroke-width="1.1"/>
<path d="M70.94 580.10h22.22" stroke="#800080" stroke-width="1.67" stroke-linecap="square" fill="none"/>
</g>
<g>
<path class="d" stroke="#a52a2a" d="M677.3 586.8 677.3 582.6 678.3 577.4 678.3 590.4 678.7 589.2 678.7 577.4 679.4 576.0 679.4 588.0 679.8 587.8 679.8 574.7 680.1 575.6 680.1 587.1 680.8 586.0 680.8 576.3 681.3 575.3 681.3 585.2 682.2 584.6 682.2 577.0 683.1 572.8 683.1 585.0 683.6 584.3 683.6 577.1 684.3 577.1 684.3 584.7 685.1 587.5 685.1 575.8 685.7 577.1 685.7 584.9 686.4 583.7 686.4 574.2 687.1 568.1 687.1 583.9 687.8 583.7 687.8 573.6 688.5 573.2 688.5 583.8 689.2 583.5 689.2 572.4 689.7 570.9 689.7 584.3 690.6 584.0 690.6 564.6 691.5 546.4 691.5 584.0 692.0 582.0 692.0 550.3 692.7 545.0 692.7 579.2 693.4 577.4 693.4 548.5 694.1 550.7 694.1 578.2 694.8 575.6 694.8 548.8 695.8 547.2 695.8 577.9 696.2 578.1 696.2 548.8 696.9 548.9 696.9 579.6 697.3 581.1 697.3 546.1 697.6 550.8 697.6 579.3 698.3 576.7 698.3 544.6 699.0 548.1 699.0 576.0 699.7 575.5 699.7 541.7 700.3 531.7 700.3 575.6 701.1 573.0 701.1 546.6 701.8 548.2 701.8 573.9 702.6 577.8 702.6 541.4 703.2 545.3 703.2 573.9 703.9 572.5 703.9 540.2 704.6 536.9 704.6 570.4 705.3 569.8 705.3 534.8 705.6 529.7 705.6 572.5 706.0 570.7 706.0 533.3 706.7 535.6 706.7 569.5 707.4 570.6 707.4 536.1 708.1 535.6 708.1 569.3 708.7 570.0 708.7 531.2 709.5 534.8 709.5 566.9 710.2 569.0 710.2 534.6 710.9 534.7 710.9 570.2 711.7 572.0 711.7 528.5 712.3 532.8 712.3 570.6 713.0 570.9 713.0 532.6 713.7 533.1 713.7 570.4 714.5 573.6 714.5 507.5 715.1 528.7 715.1 571.2 715.8 573.6 715.8 532.2 716.6 521.9 716.6 576.2 717.2 574.6 717.2 529.8 717.9 536.1 717.9 573.0 718.6 574.6 718.6 538.4 719.3 542.8 719.3 573.6 720.0 575.4 720.0 548.2 720.7 546.8 720.7 576.2 721.6 577.5 721.6 546.3 722.1 555.0 722.1 578.2 722.8 579.0 722.8 563.9 723.5 567.5 723.5 581.8 723.9 584.0 723.9 567.0 724.9 568.1 724.9 579.9 725.6 579.8 725.6 568.7 726.3 568.0 726.3 579.1 726.9 581.0 726.9 566.2 727.7 567.9 727.7 578.8 728.4 579.3 728.4 569.0 729.2 561.4 729.2 579.8 729.8 578.8 729.8 567.3 730.5 569.6 730.5 579.5 731.5 583.2 731.5 569.5 731.9 571.5 731.9 583.9 732.6 585.3 732.6 572.8 733.3 573.7 733.3 587.5 733.8 589.4 733.8 573.7 734.7 575.9 734.7 587.5 735.4 588.2 735.4 576.4 736.1 576.6 736.1 588.8 736.8 588.4 736.8 578.3 737.6 579.2 737.6 588.6 738.2 588.3 738.2 580.3 738.9 579.6 738.9 588.4 739.9 589.5 739.9 578.0 740.3 579.2 740.3 588.9 741.0 588.4 741.0 580.1 741.7 579.0 741.7 587.9 742.4 587.9 742.4 577.9 742.9 576.5 742.9 588.5 743.8 587.2 743.8 572.0 744.5 567.7 744.5 586.7 744.9 586.4 744.9 564.5 745.2 564.3 745.2 586.0 745.9 585.3 745.9 564.6 746.7 559.9 746.7 587.7 747.3 584.9 747.3 561.5 748.0 560.2 748.0 582.5 749.0 582.0 749.0 547.5 749.4 553.7 749.4 581.6 750.1 582.2 750.1 561.5 750.8 561.0 750.8 582.6 751.3 583.1 751.3 555.0 752.2 555.8 752.2 582.9 752.9 582.4 752.9 552.3 753.6 551.9 753.6 582.5 754.3 582.0 754.3 545.2 754.6 540.1 754.6 582.9 755.0 581.2 755.0 543.2 755.7 548.0 755.7 579.6 756.4 579.5 756.4 547.2 757.4 545.3 757.4 579.6 757.8 578.5 757.8 546.9 758.5 542.2 758.5 576.8 759.2 577.0 759.2 539.9 759.9 534.5 759.9 576.0 760.4 576.2 760.4 521.1 761.3 534.6 761.3 574.9 762.0 575.5 762.0 529.8 762.7 529.3 762.7 576.0 763.5 576.7 763.5 525.2 764.1 527.8 764.1 575.2 764.8 573.5 764.8 525.3 765.5 523.0 765.5 571.9 766.5 571.1 766.5 498.0 766.9 510.0 766.9 569.7 767.6 568.9 767.6 510.4 768.3 510.8 768.3 568.5 768.8 570.6 768.8 506.0 769.7 520.7 769.7 567.6 770.4 568.1 770.4 526.2 771.1 531.1 771.1 567.7 771.8 570.2 771.8 531.0 772.5 536.5 772.5 569.7 773.4 573.5 773.4 523.6 773.9 535.8 773.9 572.7 774.6 572.6 774.6 540.1 775.3 544.0 775.3 573.5 776.0 575.4 776.0 544.4 776.4 543.5 776.4 577.8 776.7 575.7 776.7 545.3 777.4 550.3 777.4 576.7 778.1 577.2 778.1 545.5 778.7 544.8 778.7 577.6 779.5 577.5 779.5 550.0 780.2 555.7 780.2 579.4 780.9 579.3 780.9 555.9 781.7 557.9 781.7 582.2 782.3 581.4 782.3 562.7 783.0 562.3 783.0 581.7 784.0 582.9 784.0 559.6 784.4 562.3 784.4 582.2 785.1 580.5 785.1 564.2 785.8 561.9 785.8 580.1 786.3 581.3 786.3 557.8 787.2 573.7 787.2 584.0 787.9 586.3 787.9 575.9 788.6 575.9 788.6 588.1 789.3 588.1 789.3 579.5 790.1 578.6 790.1 589.1 790.7 588.8 790.7 579.0 791.4 577.8 791.4 588.8 792.1 588.5 792.1 575.1 792.8 575.1 792.8 588.6 793.5 588.7 793.5 572.1 793.9 570.2 793.9 588.9 794.2 588.3 794.2 572.9 794.9 571.2 794.9 587.0 795.6 585.4 795.6 570.3 796.2 567.6 796.2 584.8 797.0 584.6 797.0 575.8 797.7 574.3 797.7 584.7 798.5 587.0 798.5 573.7 799.1 574.0 799.1 585.3 799.8 585.0 799.8 573.9 800.7 568.8 800.7 584.8 801.2 584.8 801.2 572.2 801.9 575.2 801.9 585.7 802.6 587.3 802.6 574.8 803.0 573.7 803.0 588.7 804.0 586.0 804.0 571.0 804.7 568.6 804.7 586.1 805.3 586.5 805.3 563.3 806.1 561.1 806.1 585.7 806.8 585.2 806.8 556.0 807.5 550.4 807.5 584.5 808.4 584.0 808.4 543.4 808.9 545.9 808.9 582.5 809.6 581.7 809.6 549.1 810.3 549.9 810.3 580.9 811.0 579.9 811.0 549.4 811.7 547.7 811.7 579.1 812.2 579.1 812.2 544.9 813.1 546.3 813.1 578.5 814.0 582.7 814.0 537.4 814.5 543.9 814.5 578.3 815.2 576.4 815.2 538.8 815.9 537.9 815.9 576.6 816.6 577.0 816.6 535.3 817.3 534.0 817.3 576.7 818.2 577.1 818.2 523.0 818.7 534.7 818.7 575.8 819.4 575.1 819.4 539.3 820.1 537.4 820.1 574.6 820.8 573.2 820.8 535.3 821.3 531.2 821.3 573.6 822.2 571.6 822.2 532.1 822.9 529.2 822.9 570.7 823.6 573.6 823.6 526.3 824.3 532.8 824.3 572.2 825.0 572.2 825.0 531.5 825.7 534.0 825.7 571.8 826.4 569.8 826.4 534.1 827.4 530.0 827.4 573.6 827.8 572.2 827.8 528.5 828.5 529.1 828.5 572.3 829.2 572.5 829.2 522.0 830.0 514.4 830.0 572.5 830.6 572.8 830.6 525.7 831.3 521.0 831.3 574.2 831.8 576.5 831.8 508.6 832.7 525.6 832.7 575.7 833.4 575.4 833.4 527.1 834.1 529.3 834.1 577.1 834.6 577.3 834.6 528.0 835.5 534.8 835.5 574.6 836.2 576.5 836.2 536.5 836.9 540.5 836.9 576.6 837.6 578.3 837.6 537.4 838.3 550.6 838.3 578.3 839.0 579.5 839.0 555.1 839.9 557.8 839.9 584.0 840.4 583.2 840.4 560.0 841.1 562.4 841.1 583.2 841.8 582.7 841.8 560.3 842.5 560.5 842.5 583.3 842.9 584.2 842.9 558.6 843.9 563.8 843.9 584.3 844.6 584.1 844.6 565.3 845.3 567.6 845.3 584.1 846.0 584.7 846.0 567.5 846.7 569.5 846.7 582.5 847.4 582.3 847.4 568.4 848.3 566.9 848.3 583.9 848.8 582.5 848.8 569.6 849.5 571.5 849.5 582.3 850.2 581.8 850.2 573.7 850.5 572.5 850.5 582.6 850.9 582.0 850.9 572.8 851.6 572.7 851.6 582.1 852.3 581.5 852.3 571.8 852.8 568.3 852.8 582.0 853.7 582.8 853.7 575.0 854.4 575.2 854.4 583.6 855.1 585.2 855.1 574.7 855.8 577.5 855.8 585.7 856.5 586.8 856.5 578.4 857.2 580.5 857.2 587.8 858.1 590.1 858.1 581.4 858.6 580.8 858.6 589.4 859.3 589.1 859.3 578.6 859.7 575.7 859.7 589.3 860.0 588.3 860.0 575.3 860.7 570.7 860.7 585.6 861.2 584.0 861.2 564.8 862.1 564.9 862.1 583.1 862.8 582.1 862.8 563.5 863.5 560.6 863.5 582.0 864.2 583.1 864.2 547.3 864.9 558.9 864.9 582.5 865.6 582.6 865.6 557.7 866.3 558.1 866.3 582.3 867.3 583.9 867.3 557.1 867.7 558.1 867.7 582.2 868.4 581.7 868.4 553.2 869.1 548.3 869.1 582.1 869.8 581.6 869.8 538.4 870.3 519.3 870.3 582.5 871.2 580.6 871.2 537.4 871.9 534.7 871.9 580.4 872.6 579.7 872.6 534.1 873.3 529.2 873.3 579.6 874.1 580.3 874.1 523.0 874.7 528.8 874.7 577.5 875.4 576.0 875.4 529.8 876.1 531.3 876.1 576.9 876.8 575.7 876.8 533.3 877.2 531.1 877.2 577.5 877.5 575.7 877.5 534.9 878.2 535.4 878.2 574.9 878.9 574.2 878.9 533.5 879.6 532.3 879.6 571.9 880.2 572.2 880.2 514.6 881.0 528.7 881.0 568.1 881.7 570.6 881.7 526.4 882.4 527.9 882.4 570.0 883.3 573.5 883.3 521.3 883.8 520.7 883.8 571.1 884.5 569.5 884.5 521.1 885.2 525.0 885.2 569.0 885.9 570.1 885.9 519.5 886.3 508.7 886.3 573.4 886.6 571.7 886.6 518.7 887.3 519.2 887.3 572.3 888.0 572.9 888.0 518.4 888.7 516.0 888.7 571.8 889.3 573.7 889.3 493.3 890.1 517.7 890.1 573.2 890.8 573.4 890.8 517.8 891.5 522.0 891.5 573.9 892.4 575.7 892.4 521.4 892.9 527.3 892.9 575.7 893.6 576.4 893.6 534.6 894.3 545.9 894.3 577.1 895.0 577.3 895.0 548.7 895.4 545.4 895.4 578.7 896.4 577.7 896.4 549.9 897.1 550.1 897.1 578.1 897.8 579.7 897.8 552.4 898.5 553.0 898.5 579.0 899.2 581.4 899.2 537.0 899.9 559.3 899.9 581.9 900.8 585.2 900.8 565.0 901.3 568.7 901.3 582.7 902.0 582.7 902.0 568.8 902.7 568.5 902.7 582.4 903.4 582.4 903.4 568.2 904.1 569.3 904.1 583.4 904.6 583.8 904.6 566.1 905.5 570.3 905.5 583.8 906.2 585.6 906.2 570.6 906.8 570.2 906.8 587.9 907.6 584.5 907.6 571.7 908.3 571.9 908.3 584.4 909.0 584.3 909.0 572.9 909.9 564.0 909.9 584.7 910.4 584.0 910.4 570.2 911.1 571.4 911.1 585.0 911.8 585.7 911.8 573.3 912.5 574.4 912.5 586.7 912.9 587.1 912.9 572.6 913.9 573.0 913.9 586.5 914.6 586.5 914.6 573.7 915.3 572.7 915.3 586.5 916.0 587.0 916.0 566.1 916.7 574.0 916.7 586.3 917.4 586.4 917.4 576.5 918.3 575.6 918.3 587.1 918.8 586.0 918.8 575.8 919.5 575.0 919.5 586.0 920.2 585.1 920.2 574.8 920.9 569.9 920.9 585.1 921.3 586.0 921.3 562.5 921.6 570.3 921.6 585.5 922.5 588.3 922.5 575.7 923.0 576.1 923.0 586.5 923.7 586.2 923.7 574.7 924.4 574.5 924.4 585.6 925.1 586.2 925.1 573.5 925.8 567.3 925.8 584.9 926.5 584.0 926.5 559.7 927.4 538.8 927.4 583.7 927.9 582.4 927.9 543.2 928.6 543.2 928.6 580.4 929.3 578.4 929.3 544.9 930.0 544.5 930.0 578.3 930.4 578.7 930.4 540.1 931.4 543.6 931.4 577.4 932.1 576.4 932.1 541.5 932.8 539.8 932.8 576.8 933.5 577.8 933.5 537.1 934.2 541.0 934.2 575.2 934.9 574.4 934.9 539.3 935.6 542.0 935.6 574.4 936.5 575.7 936.5 537.6 937.0 538.8 937.0 574.7 938.0 574.7 938.0 500.0 938.4 519.1 938.4 574.0 939.1 572.9 939.1 537.3 939.8 536.5 939.8 571.7 940.5 572.0 940.5 536.0 941.1 534.1 941.1 573.5 941.9 570.2 941.9 535.1 942.6 530.0 942.6 567.9 943.3 565.4 943.3 526.3 944.1 495.2 944.1 566.0 944.7 565.6 944.7 516.3 945.4 519.9 945.4 565.6 946.1 565.2 946.1 520.5 946.8 520.4 946.8 569.7 947.2 573.6 947.2 517.6 947.5 524.8 947.5 571.9 948.2 569.5 948.2 523.1 948.9 527.9 948.9 569.3 949.6 569.1 949.6 529.6 950.3 529.3 950.3 570.3 951.0 572.6 951.0 523.0 951.7 541.6 951.7 571.9 952.4 576.9 952.4 547.9 953.2 557.8 953.2 580.0 953.8 579.1 953.8 559.8 954.5 560.7 954.5 579.4 955.5 581.3 955.5 557.8 955.9 558.0 955.9 580.5 956.6 579.5 956.6 556.9 957.3 556.1 957.3 580.7 958.1 582.5 958.1 542.5 958.7 555.7 958.7 580.5 959.4 581.2 959.4 559.9 960.1 560.8 960.1 582.1 960.9 583.3 960.9 561.3 961.5 566.7 961.5 583.2 962.2 582.9 962.2 570.4 962.9 573.3 962.9 583.8 963.6 585.4 963.6 575.6 964.3 574.1 964.3 583.2 965.0 583.5 965.0 572.4 965.7 570.8 965.7 582.9 966.4 582.7 966.4 570.8 966.9 566.9 966.9 583.6 967.8 582.5 967.8 568.0 968.5 568.3 968.5 582.9 969.2 583.0 969.2 569.6 969.9 568.4 969.9 582.5 970.7 583.7 970.7 566.3 971.3 570.9 971.3 582.6 972.0 582.9 972.0 572.5 973.0 573.9 973.0 587.1 973.4 585.3 973.4 576.3 974.1 573.1 974.1 583.2 974.8 583.0 974.8 570.1 975.3 566.7 975.3 582.9 976.2 581.5 976.2 566.3 976.9 567.4 976.9 581.7 977.6 582.1 977.6 568.3 978.4 565.0 978.4 582.8 979.0 582.7 979.0 566.3 979.7 560.7 979.7 582.2 980.4 581.6 980.4 558.5 981.4 552.3 981.4 583.1 981.8 581.1 981.8 555.8 982.5 552.7 982.5 581.4 983.2 580.1 983.2 550.5 984.0 546.0 984.0 581.3 984.6 580.5 984.6 551.5 985.3 551.0 985.3 579.9 986.0 579.2 986.0 550.3 986.7 549.8 986.7 582.8 987.4 581.1 987.4 554.3 988.1 551.8 988.1 579.6 988.8 579.4 988.8 551.9 989.8 547.3 989.8 580.5 990.2 577.3 990.2 549.1 990.9 539.3 990.9 575.4 991.3 576.8 991.3 530.0 991.6 534.3 991.6 575.0 992.3 575.5 992.3 533.4 993.0 533.6 993.0 574.6 993.7 575.0 993.7 527.1 994.6 504.0 994.6 575.6 995.1 573.1 995.1 517.5 995.8 523.8 995.8 572.7 996.5 572.8 996.5 529.7 997.4 525.1 997.4 573.7 997.9 571.5 997.9 528.2 998.6 520.2 998.6 568.5 999.3 567.2 999.3 512.8 1000.0 506.4 1000.0 570.0 1000.7 568.3 1000.7 508.1 1001.4 507.6 1001.4 564.9 1002.3 565.2 1002.3 503.6 1002.8 512.8 1002.8 563.0 1003.5 565.9 1003.5 523.6 1004.2 530.0 1004.2 568.8 1004.6 572.4 1004.6 528.4 1004.9 539.1 1004.9 571.5 1005.6 572.1 1005.6 542.0 1006.3 545.9 1006.3 573.0 1006.8 575.7 1006.8 545.1 1007.7 543.2 1007.7 572.6 1008.4 572.4 1008.4 544.9 1009.1 537.6 1009.1 572.5 1009.8 571.3 1009.8 540.2 1010.5 541.5 1010.5 573.3 1011.2 573.7 1011.2 542.4 1012.2 538.6 1012.2 577.7 1012.6 576.1 1012.6 545.4 1013.3 547.5 1013.3 575.1 1014.0 575.9 1014.0 546.2 1014.7 550.2 1014.7 576.1 1015.2 576.7 1015.2 545.4 1016.1 549.6 1016.1 577.1 1016.8 578.0 1016.8 549.3 1017.5 549.4 1017.5 577.3 1018.3 581.4 1018.3 549.5 1018.9 557.0 1018.9 579.3 1019.6 579.5 1019.6 561.5 1020.3 562.1 1020.3 578.7 1021.3 580.5 1021.3 564.6 1021.7 566.1 1021.7 580.0 1022.4 580.0 1022.4 566.2 1023.1 568.7 1023.1 581.9 1023.8 583.0 1023.8 568.7 1024.3 567.5 1024.3 584.0 1025.2 582.8 1025.2 569.1 1025.9 570.4 1025.9 583.1 1026.6 583.9 1026.6 568.3 1027.1 566.7 1027.1 586.4 1028.0 583.6 1028.0 568.9 1028.9 561.5 1028.9 583.8 1029.4 583.2 1029.4 568.1 1030.1 571.8 1030.1 583.7 1030.8 583.5 1030.8 573.6 1031.2 573.6 1031.2 584.5 1031.5 583.9 1031.5 574.7 1032.2 574.7 1032.2 584.1 1032.9 583.6 1032.9 573.8 1033.5 571.4 1033.5 585.6 1034.3 584.2 1034.3 569.1 1035.0 567.8 1035.0 584.0 1035.7 584.1 1035.7 566.2 1036.5 561.3 1036.5 583.9 1037.1 583.6 1037.1 562.8 1037.8 562.9 1037.8 583.7 1038.5 582.9 1038.5 561.5 1039.2 561.7 1039.2 583.3 1039.9 583.1 1039.9 562.7 1040.3 559.1 1040.3 583.8 1041.3 583.0 1041.3 555.8 1042.0 552.9 1042.0 582.5 1042.7 582.3 1042.7 545.6 1043.4 541.0 1043.4 582.6 1044.1 581.3 1044.1 545.2 1044.8 544.1 1044.8 580.0 1045.5 579.9 1045.5 547.5 1046.4 541.1 1046.4 580.7 1046.9 579.5 1046.9 541.4 1047.6 540.0 1047.6 579.1 1048.3 578.0 1048.3 538.7 1049.0 530.3 1049.0 579.0 1049.7 575.7 1049.7 537.8 1050.4 530.1 1050.4 575.9 1051.1 575.4 1051.1 529.8 1051.8 529.3 1051.8 575.8 1052.5 575.7 1052.5 512.5 1053.2 525.9 1053.2 574.3 1053.9 572.4 1053.9 524.4 1054.8 519.9 1054.8 574.2 1055.3 570.4 1055.3 524.2 1056.0 518.8 1056.0 571.3 1056.7 571.4 1056.7 499.5 1057.1 484.4 1057.1 572.8 1057.4 571.7 1057.4 495.4 1058.1 507.2 1058.1 571.6 1058.8 570.3 1058.8 506.2 1059.5 503.6 1059.5 568.6 1060.1 572.3 1060.1 501.7 1060.9 505.8 1060.9 568.4 1061.6 565.6 1061.6 509.5 1062.4 489.0 1062.4 566.0 1063.0 567.1 1063.0 501.0 1063.7 503.8 1063.7 566.2 1064.4 566.5 1064.4 508.0 1065.1 507.6 1065.1 567.4 1065.8 569.9 1065.8 507.2 1066.2 504.1 1066.2 572.0 1066.5 571.6 1066.5 514.6 1067.2 530.8 1067.2 572.1 1067.9 573.5 1067.9 541.1 1068.5 541.2 1068.5 575.7 1069.3 577.0 1069.3 546.2 1070.0 547.0 1070.0 578.2 1070.7 578.8 1070.7 552.8 1071.5 549.9 1071.5 581.4 1072.1 580.6 1072.1 555.7 1072.8 560.9 1072.8 581.7 1073.8 583.4 1073.8 560.0 1074.2 564.0 1074.2 582.3 1074.9 581.9 1074.9 563.2 1075.6 561.2 1075.6 581.3 1076.3 581.7 1076.3 559.6 1076.8 553.1 1076.8 582.6 1077.7 582.2 1077.7 560.9 1078.4 561.8 1078.4 581.3 1079.1 581.8 1079.1 563.0 1079.9 562.9 1079.9 583.9 1080.5 581.8 1080.5 564.1 1081.2 565.5 1081.2 581.9 1081.9 582.6 1081.9 567.2 1082.6 566.4 1082.6 581.6 1083.3 581.8 1083.3 567.3 1083.7 564.6 1083.7 582.6 1084.0 580.9 1084.0 566.7 1084.7 567.3 1084.7 582.9 1085.4 583.6 1085.4 569.2 1086.1 571.1 1086.1 583.3 1086.7 584.6 1086.7 570.3 1087.5 574.0 1087.5 584.0 1088.2 583.5 1088.2 574.4 1089.0 573.7 1089.0 587.8 1089.6 585.8 1089.6 574.4 1090.3 572.8 1090.3 584.8 1091.3 584.5 1091.3 567.0 1091.7 569.3 1091.7 583.4 1092.4 583.2 1092.4 568.3 1093.1 567.9 1093.1 583.6 1093.8 583.6 1093.8 570.0 1094.3 567.9 1094.3 584.5 1095.2 583.7 1095.2 568.8 1095.9 568.4 1095.9 583.2 1096.6 583.4 1096.6 569.6 1097.4 567.0 1097.4 583.6 1098.0 581.5 1098.0 568.4 1098.7 565.9 1098.7 581.4 1099.4 580.7 1099.4 563.3 1100.4 549.6 1100.4 581.9 1100.8 581.1 1100.8 558.2 1101.5 561.4 1101.5 581.6 1102.2 581.1 1102.2 561.5 1102.9 563.8 1102.9 580.1 1103.5 582.6 1103.5 557.3 1104.3 554.5 1104.3 580.5 1105.0 579.3 1105.0 550.0 1105.7 542.3 1105.7 579.8 1106.4 576.7 1106.4 542.3 1107.1 542.0 1107.1 575.6 1107.8 576.9 1107.8 531.1 1108.3 517.5 1108.3 576.6 1109.2 572.7 1109.2 536.9 1109.9 542.2 1109.9 572.2 1110.6 572.2 1110.6 540.3 1111.1 538.3 1111.1 572.7 1112.0 570.6 1112.0 535.9 1112.7 530.4 1112.7 570.4 1113.4 569.3 1113.4 519.5 1113.8 500.3 1113.8 570.2 1114.8 569.9 1114.8 526.4 1115.5 523.3 1115.5 571.4 1116.2 571.9 1116.2 525.1 1117.2 518.6 1117.2 574.5 1117.6 571.5 1117.6 527.2 1118.3 531.3 1118.3 572.6 1119.0 572.0 1119.0 538.5 1119.7 534.5 1119.7 572.6 1120.4 574.0 1120.4 537.7 1121.0 531.7 1121.0 576.5 1121.8 570.2 1121.8 529.9 1122.5 527.6 1122.5 570.3 1123.2 571.6 1123.2 525.3 1124.0 500.2 1124.0 573.4 1124.6 571.5 1124.6 516.9 1125.3 517.9 1125.3 573.3 1126.0 572.8 1126.0 518.7 1126.7 521.0 1126.7 570.7 1127.0 573.1 1127.0 514.4 1127.4 524.6 1127.4 572.9 1128.1 574.2 1128.1 534.8 1128.8 541.6 1128.8 575.7 1129.3 577.4 1129.3 542.5 1130.2 549.7 1130.2 575.3 1130.9 575.4 1130.9 553.1 1131.6 553.8 1131.6 575.5 1132.4 578.3 1132.4 554.1 1133.0 558.6 1133.0 579.0 1133.7 580.9 1133.7 559.7 1134.7 561.3 1134.7 582.9 1135.1 582.9 1135.1 563.6 1135.8 565.9 1135.8 584.0 1136.5 584.4 1136.5 569.3 1136.9 566.4 1136.9 585.7 1137.9 585.5 1137.9 567.5 1138.6 567.4 1138.6 585.3 1139.3 585.5 1139.3 567.4 1139.7 566.8 1139.7 586.5 1140.0 585.4 1140.0 568.3 1140.7 568.5 1140.7 585.1 1141.4 585.1 1141.4 570.9 1142.3 568.3 1142.3 585.6 1142.8 585.0 1142.8 574.5 1143.7 577.6 1143.7 585.7"/>
<rect x="654.5" y="478.5" width="513.0" height="118.0" fill="none" stroke="#000" stroke-width="0.9"/>
<path d="M677.5 596.5v4.3M788.5 596.5v4.3M899.5 596.5v4.3M1010.5 596.5v4.3M1121.5 596.5v4.3M654.5 592.5h-4.3M654.5 558.5h-4.3M654.5 524.5h-4.3M654.5 490.5h-4.3" stroke="#000" stroke-width="0.9" fill="none"/>
<rect x="660.50" y="484.50" width="187.00" height="19" rx="2.2" fill="#fff" fill-opacity="0.8" stroke="#ccc" stroke-opacity="0.8" stroke-width="1.1"/>
<path d="M664.94 492.10h22.22" stroke="#a52a2a" stroke-width="1.67" stroke-linecap="square" fill="none"/>
</g>
<g>
<path class="d" stroke="#ffc0cb" d="M83.3 809.8 83.3 803.1 84.3 800.3 84.3 817.2 84.7 814.7 84.7 800.3 85.4 795.6 85.4 811.2 85.8 810.8 85.8 792.5 86.1 794.1 86.1 809.7 86.8 808.2 86.8 793.2 87.5 793.6 87.5 806.3 88.1 805.7 88.1 791.9 88.9 793.2 88.9 805.8 89.6 805.5 89.6 792.5 90.0 790.4 90.0 806.0 91.1 811.0 91.1 795.7 91.7 794.5 91.7 807.0 92.4 804.8 92.4 791.4 93.1 781.6 93.1 804.1 93.8 802.5 93.8 789.8 94.5 790.5 94.5 802.1 95.2 803.7 95.2 788.9 95.7 785.1 95.7 807.1 96.6 800.2 96.6 784.8 97.3 778.3 97.3 799.9 98.0 799.3 98.0 771.1 98.7 772.2 98.7 797.9 99.4 797.1 99.4 771.2 100.1 773.2 100.1 797.1 100.7 798.7 100.7 769.0 101.5 774.0 101.5 795.7 102.2 794.4 102.2 772.0 102.9 769.7 102.9 795.0 103.3 795.8 103.3 764.7 103.6 767.8 103.6 794.2 104.3 793.9 104.3 764.7 105.0 762.1 105.0 792.4 105.7 790.4 105.7 759.2 106.3 746.2 106.3 793.9 107.1 793.7 107.1 761.6 107.8 764.0 107.8 793.3 108.3 796.3 108.3 760.3 109.2 757.7 109.2 791.9 110.1 793.1 110.1 751.8 110.6 758.0 110.6 787.7 111.3 787.3 111.3 753.0 112.0 744.4 112.0 785.0 112.4 785.5 112.4 734.7 113.4 746.6 113.4 782.4 114.1 780.1 114.1 748.0 114.7 745.3 114.7 783.2 115.5 781.9 115.5 748.6 116.2 750.2 116.2 781.4 116.9 780.4 116.9 750.7 117.7 751.7 117.7 782.5 118.3 781.2 118.3 752.0 119.0 750.3 119.0 779.1 120.0 780.2 120.0 737.8 120.4 743.8 120.4 779.8 121.1 781.0 121.1 749.7 121.8 753.2 121.8 784.9 122.6 787.6 122.6 750.6 123.2 762.2 123.2 787.2 123.9 786.2 123.9 759.9 124.6 759.1 124.6 786.0 125.3 786.6 125.3 756.4 126.0 759.5 126.0 786.8 126.7 787.7 126.7 761.1 127.4 761.5 127.4 786.9 127.9 790.4 127.9 752.3 128.8 773.0 128.8 792.7 129.5 798.3 129.5 775.5 129.9 770.3 129.9 802.3 130.9 794.2 130.9 773.0 131.6 773.1 131.6 794.8 132.3 795.2 132.3 776.0 132.9 774.7 132.9 795.6 133.7 794.0 133.7 777.2 134.4 776.8 134.4 793.2 134.8 794.6 134.8 772.6 135.1 777.4 135.1 794.1 135.8 796.5 135.8 781.6 136.5 783.4 136.5 796.9 137.5 801.2 137.5 782.6 137.9 787.6 137.9 801.9 138.6 805.9 138.6 787.5 139.3 787.4 139.3 811.0 139.8 815.3 139.8 786.7 140.7 788.6 140.7 811.6 141.4 812.5 141.4 789.7 142.1 790.5 142.1 813.5 142.8 812.9 142.8 794.6 143.5 795.3 143.5 813.3 143.9 813.8 143.9 794.7 144.9 796.1 144.9 813.5 145.9 815.2 145.9 794.0 146.3 795.8 146.3 813.7 147.0 813.0 147.0 797.3 147.7 796.4 147.7 812.7 148.4 812.5 148.4 795.4 148.9 793.9 148.9 813.2 149.8 808.8 149.8 791.4 150.4 785.8 150.4 807.0 151.2 807.0 151.2 791.2 151.9 790.9 151.9 809.0 152.4 812.1 152.4 789.8 153.3 785.5 153.3 805.7 154.3 804.8 154.3 774.7 154.7 777.6 154.7 803.3 155.4 804.6 155.4 779.1 156.1 778.3 156.1 804.9 156.5 806.9 156.5 775.9 157.5 781.0 157.5 803.8 158.2 803.7 158.2 782.1 158.8 780.6 158.8 804.1 159.6 802.0 159.6 780.7 160.3 776.1 160.3 801.4 160.6 802.1 160.6 770.6 161.0 772.8 161.0 799.8 161.7 797.0 161.7 776.9 162.4 775.4 162.4 796.8 163.4 796.9 163.4 772.5 163.8 772.9 163.8 793.2 164.5 790.4 164.5 766.1 165.2 753.1 165.2 791.5 165.9 784.1 165.9 757.0 166.6 755.2 166.6 786.4 167.3 785.5 167.3 749.1 167.6 742.3 167.6 788.2 168.0 787.1 168.0 748.0 168.7 750.5 168.7 784.2 169.4 785.7 169.4 757.2 169.8 750.5 169.8 792.3 170.1 785.2 170.1 752.3 170.8 750.2 170.8 779.8 171.5 780.4 171.5 747.7 172.5 732.7 172.5 778.6 172.9 778.4 172.9 745.1 173.6 744.8 173.6 776.6 174.3 778.0 174.3 744.5 174.8 740.3 174.8 778.6 175.6 791.2 175.6 745.5 176.4 749.7 176.4 780.5 177.1 781.6 177.1 752.2 177.8 755.4 177.8 780.5 178.6 780.6 178.6 739.0 179.2 753.5 179.2 781.0 179.9 782.7 179.9 759.1 180.9 760.5 180.9 788.3 181.3 787.2 181.3 761.5 182.0 761.9 182.0 785.8 182.7 787.6 182.7 760.1 183.4 760.4 183.4 787.3 183.9 789.7 183.9 759.2 184.8 760.9 184.8 790.2 185.5 791.7 185.5 762.7 186.2 764.6 186.2 793.3 187.0 796.9 187.0 764.4 187.6 776.1 187.6 795.8 188.3 797.2 188.3 781.3 189.2 781.1 189.2 800.3 189.7 799.7 189.7 785.9 190.4 781.3 190.4 799.2 191.1 798.5 191.1 776.7 191.5 770.3 191.5 799.8 192.5 799.3 192.5 778.3 193.2 779.6 193.2 799.0 193.8 800.3 193.8 776.8 194.6 788.7 194.6 806.2 195.3 814.2 195.3 793.5 196.0 795.6 196.0 810.6 196.7 811.4 196.7 795.1 197.6 796.0 197.6 812.7 198.1 812.0 198.1 797.5 198.8 797.9 198.8 811.3 199.5 812.5 199.5 797.1 199.9 795.1 199.9 814.1 200.2 812.1 200.2 795.6 200.9 793.8 200.9 808.0 201.6 806.1 201.6 791.3 202.2 777.1 202.2 805.6 203.0 803.5 203.0 790.0 203.7 792.5 203.7 804.9 204.5 809.6 204.5 790.4 205.1 793.2 205.1 804.7 205.8 802.5 205.8 790.4 206.7 782.4 206.7 803.9 207.2 806.6 207.2 789.3 207.9 795.0 207.9 811.4 208.3 813.6 208.3 792.1 208.6 794.6 208.6 813.0 209.3 812.0 209.3 795.3 210.0 792.8 210.0 812.0 210.5 814.1 210.5 789.2 211.4 787.2 211.4 807.2 212.4 804.9 212.4 780.7 212.8 780.9 212.8 804.0 213.5 803.0 213.5 780.6 214.2 778.4 214.2 802.6 214.9 802.0 214.9 779.9 215.9 766.9 215.9 802.2 216.3 800.4 216.3 772.8 217.0 779.8 217.0 799.7 217.7 797.5 217.7 775.4 218.2 773.4 218.2 799.3 219.1 799.5 219.1 765.5 220.0 756.7 220.0 804.5 220.5 801.4 220.5 757.1 221.2 756.6 221.2 800.0 221.9 799.3 221.9 755.9 222.6 755.6 222.6 798.7 223.5 799.8 223.5 749.0 224.0 756.0 224.0 797.3 224.7 793.7 224.7 754.4 225.4 751.0 225.4 789.7 225.8 788.6 225.8 746.0 226.1 747.5 226.1 783.8 226.8 784.5 226.8 751.0 227.5 747.9 227.5 782.6 228.2 782.5 228.2 750.3 228.9 753.3 228.9 783.2 229.6 784.7 229.6 735.6 230.3 749.9 230.3 781.3 231.0 782.8 231.0 750.3 231.7 751.7 231.7 782.9 232.6 787.5 232.6 751.4 233.1 751.7 233.1 783.3 233.8 780.5 233.8 751.5 234.5 745.0 234.5 780.0 234.9 783.2 234.9 741.9 235.2 742.3 235.2 780.1 236.0 784.1 236.0 735.2 236.6 747.1 236.6 783.3 237.3 784.6 237.3 738.2 237.8 729.3 237.8 788.3 238.7 785.7 238.7 737.5 239.4 743.3 239.4 786.5 240.1 787.8 240.1 742.4 240.6 742.0 240.6 789.0 241.5 786.2 241.5 754.5 242.2 754.9 242.2 786.1 242.9 789.6 242.9 760.3 243.6 755.0 243.6 791.1 244.3 792.0 244.3 766.3 245.0 769.4 245.0 796.1 245.7 799.6 245.7 771.9 246.3 768.0 246.3 802.7 247.1 801.6 247.1 774.7 247.8 772.9 247.8 800.5 248.5 800.4 248.5 772.5 248.9 771.5 248.9 802.6 249.9 801.9 249.9 778.3 250.6 780.8 250.6 802.8 251.3 803.2 251.3 784.0 252.0 784.1 252.0 804.5 252.7 803.8 252.7 784.4 253.4 785.0 253.4 803.5 254.1 804.4 254.1 786.8 255.0 782.5 255.0 804.9 255.5 804.0 255.5 786.4 256.2 784.9 256.2 803.5 256.9 803.4 256.9 786.1 257.3 785.0 257.3 804.8 257.6 803.4 257.6 787.6 258.3 786.8 258.3 801.8 259.1 800.3 259.1 778.6 259.7 786.4 259.7 800.2 260.4 802.7 260.4 787.6 261.1 787.7 261.1 806.5 261.8 807.2 261.8 793.3 262.5 796.9 262.5 809.6 263.2 811.0 263.2 797.3 264.1 797.0 264.1 816.6 264.6 813.8 264.6 795.5 265.3 791.2 265.3 813.3 265.7 813.6 265.7 789.1 266.0 787.3 266.0 811.3 266.7 807.0 266.7 781.4 267.2 774.8 267.2 804.8 268.1 804.0 268.1 777.0 268.8 776.0 268.8 804.6 269.5 804.8 269.5 774.4 270.2 776.1 270.2 804.6 270.9 804.5 270.9 777.5 271.8 772.1 271.8 805.9 272.3 805.4 272.3 779.3 273.0 782.1 273.0 805.1 273.7 805.8 273.7 780.8 274.0 780.5 274.0 807.7 274.4 806.0 274.4 778.8 275.1 774.9 275.1 805.4 275.8 805.1 275.8 771.9 276.3 763.3 276.3 805.1 277.2 798.4 277.2 766.5 277.9 764.1 277.9 792.8 278.6 788.8 278.6 752.0 279.3 757.0 279.3 788.6 280.0 791.3 280.0 755.0 280.9 750.4 280.9 800.1 281.4 792.6 281.4 752.4 282.1 753.4 282.1 790.3 282.8 788.3 282.8 755.7 283.2 753.3 283.2 792.4 283.5 787.1 283.5 754.9 284.2 749.8 284.2 785.8 284.9 783.8 284.9 744.8 285.5 738.6 285.5 782.1 286.3 773.6 286.3 741.5 287.0 742.6 287.0 771.9 287.7 776.8 287.7 746.0 288.5 727.9 288.5 779.5 289.1 775.3 289.1 741.1 289.8 744.0 289.8 776.4 290.8 780.5 290.8 740.1 291.2 744.2 291.2 779.0 291.9 780.8 291.9 739.4 292.6 741.7 292.6 780.2 293.1 782.4 293.1 737.1 294.0 743.8 294.0 780.7 294.7 778.1 294.7 747.0 295.6 727.4 295.6 782.4 296.1 781.4 296.1 738.9 296.8 744.9 296.8 782.6 297.5 783.7 297.5 748.6 298.4 748.5 298.4 785.8 298.9 782.6 298.9 757.6 299.6 757.7 299.6 785.4 300.3 788.3 300.3 755.6 301.0 757.6 301.0 789.9 301.4 792.6 301.4 757.6 302.4 763.3 302.4 791.3 303.1 793.5 303.1 765.8 303.7 764.1 303.7 795.8 304.5 793.9 304.5 767.6 305.2 764.3 305.2 792.6 305.7 795.6 305.7 754.9 306.8 772.5 306.8 805.1 307.3 800.4 307.3 777.9 308.0 776.8 308.0 798.1 308.7 799.6 308.7 779.0 309.4 777.2 309.4 798.7 309.8 801.2 309.8 775.6 310.1 779.3 310.1 799.5 310.8 800.8 310.8 779.7 311.5 783.9 311.5 802.5 312.2 805.3 312.2 786.7 312.8 784.3 312.8 812.0 313.6 803.9 313.6 786.6 314.3 784.0 314.3 803.2 315.0 802.6 315.0 780.7 315.4 774.5 315.4 803.1 316.4 802.9 316.4 782.3 317.1 782.1 317.1 804.7 317.8 806.2 317.8 782.4 318.5 783.0 318.5 808.0 318.9 810.5 318.9 779.7 319.9 785.0 319.9 808.5 320.6 808.1 320.6 784.3 321.5 775.5 321.5 810.0 322.0 808.6 322.0 783.3 322.7 788.2 322.7 807.5 323.4 808.0 323.4 791.3 324.3 790.6 324.3 810.2 324.8 807.1 324.8 792.2 325.8 787.6 325.8 804.0 326.2 805.1 326.2 791.2 326.9 790.3 326.9 808.0 327.6 810.0 327.6 786.3 328.1 780.4 328.1 812.3 329.0 810.9 329.0 791.7 330.0 794.6 330.0 813.5 330.4 811.8 330.4 795.1 331.1 794.4 331.1 810.4 331.8 809.8 331.8 791.9 332.2 787.6 332.2 809.6 332.5 806.8 332.5 787.6 333.2 779.2 333.2 803.8 334.1 799.2 334.1 764.2 334.6 766.8 334.6 797.7 335.3 795.0 335.3 766.5 336.0 761.3 336.0 793.5 336.7 792.8 336.7 759.1 337.2 755.0 337.2 793.9 338.1 792.4 338.1 756.4 338.8 756.9 338.8 791.9 339.5 791.3 339.5 758.1 340.2 756.3 340.2 793.3 340.9 791.5 340.9 756.8 341.6 759.4 341.6 789.0 342.5 791.2 342.5 753.5 343.0 751.2 343.0 786.4 344.0 780.5 344.0 711.2 344.4 730.0 344.4 778.9 345.1 774.1 345.1 750.7 345.8 754.0 345.8 777.8 346.3 785.5 346.3 753.2 347.2 747.6 347.2 778.2 347.9 776.4 347.9 745.6 348.6 741.3 348.6 774.6 349.4 778.4 349.4 722.3 350.0 726.0 350.0 772.9 350.7 765.1 350.7 722.1 351.6 719.2 351.6 770.3 352.1 771.9 352.1 728.6 352.8 741.2 352.8 772.3 353.5 778.1 353.5 744.5 354.4 750.2 354.4 784.1 354.9 782.1 354.9 755.1 355.6 755.3 355.6 783.4 356.3 782.9 356.3 752.6 357.0 752.1 357.0 782.6 357.7 787.3 357.7 750.0 358.4 755.9 358.4 785.8 359.1 788.6 359.1 761.4 359.8 765.6 359.8 790.3 360.8 800.1 360.8 764.7 361.2 770.0 361.2 795.7 361.9 794.0 361.9 769.1 362.6 769.2 362.6 795.8 363.3 796.4 363.3 767.6 364.0 766.0 364.0 796.7 364.6 799.1 364.6 760.4 365.4 770.4 365.4 796.8 366.1 798.2 366.1 770.6 366.9 769.3 366.9 799.2 367.5 799.2 367.5 778.4 368.2 780.3 368.2 800.0 368.9 800.6 368.9 783.7 369.6 785.9 369.6 805.7 370.3 802.6 370.3 787.7 371.0 787.0 371.0 802.2 371.7 801.2 371.7 785.7 372.2 781.6 372.2 802.7 373.1 802.4 373.1 783.6 373.8 783.1 373.8 801.7 374.5 802.7 374.5 783.4 375.2 782.6 375.2 802.5 376.0 804.1 376.0 780.5 376.6 785.1 376.6 803.7 377.3 803.4 377.3 788.0 378.0 792.6 378.0 803.2 379.0 810.5 379.0 789.1 379.4 789.7 379.4 807.0 380.1 804.0 380.1 789.7 380.8 789.5 380.8 802.5 381.3 803.6 381.3 785.9 382.2 787.7 382.2 801.7 382.9 801.2 382.9 787.9 383.6 784.8 383.6 800.9 384.4 801.7 384.4 782.4 385.0 784.3 385.0 799.9 385.7 800.1 385.7 781.6 386.4 779.8 386.4 799.3 387.1 800.2 387.1 779.6 387.8 778.3 387.8 799.0 388.2 800.7 388.2 773.5 388.5 775.2 388.5 799.0 389.2 797.7 389.2 775.9 389.9 773.7 389.9 798.4 390.4 800.3 390.4 770.3 391.3 773.2 391.3 800.9 392.0 805.3 392.0 769.4 392.7 770.8 392.7 800.1 393.4 798.7 393.4 771.1 394.2 762.0 394.2 798.1 394.8 795.1 394.8 760.9 395.5 759.3 395.5 792.9 396.2 792.8 396.2 756.9 396.9 754.7 396.9 791.3 397.3 792.6 397.3 744.6 397.6 749.2 397.6 789.2 398.3 789.6 398.3 749.9 399.0 748.9 399.0 788.1 399.7 786.7 399.7 749.9 400.4 749.8 400.4 786.5 401.1 788.0 401.1 728.1 401.8 745.1 401.8 784.3 402.5 784.9 402.5 749.6 403.4 748.8 403.4 786.0 403.9 782.5 403.9 749.8 404.9 741.0 404.9 789.7 405.3 782.5 405.3 743.8 406.0 737.1 406.0 772.5 406.7 771.2 406.7 741.4 407.4 739.4 407.4 768.9 408.1 767.7 408.1 739.4 409.0 731.4 409.0 772.1 409.5 770.7 409.5 741.9 410.2 745.2 410.2 774.0 410.9 775.0 410.9 745.5 411.6 748.0 411.6 781.0 412.1 789.7 412.1 745.3 413.0 745.2 413.0 778.7 413.7 777.5 413.7 744.2 414.4 741.8 414.4 777.4 414.8 778.7 414.8 727.6 415.8 747.1 415.8 781.5 416.5 782.3 416.5 745.7 417.4 742.8 417.4 788.1 417.9 783.1 417.9 754.0 418.6 750.9 418.6 785.3 419.3 787.8 419.3 750.2 420.0 756.1 420.0 786.6 420.5 787.4 420.5 753.3 421.4 761.8 421.4 789.2 422.1 790.5 422.1 761.8 422.8 766.5 422.8 794.3 423.5 797.7 423.5 765.6 424.2 774.4 424.2 796.8 424.9 796.2 424.9 773.3 425.6 776.7 425.6 793.9 426.5 796.8 426.5 774.7 427.0 778.8 427.0 794.0 427.7 796.8 427.7 781.3 428.4 781.3 428.4 798.3 429.1 801.2 429.1 783.8 429.6 782.4 429.6 804.5 430.5 799.8 430.5 780.6 431.1 772.4 431.1 801.3 431.9 801.5 431.9 780.5 432.6 782.7 432.6 805.7 433.1 810.2 433.1 780.6 434.0 782.1 434.0 803.5 434.9 803.1 434.9 771.2 435.4 783.2 435.4 802.0 436.1 802.3 436.1 788.9 436.8 792.4 436.8 802.7 437.2 804.7 437.2 793.2 437.5 794.6 437.5 803.3 438.2 803.2 438.2 793.5 438.9 793.4 438.9 804.7 439.5 807.3 439.5 792.6 440.3 791.2 440.3 804.2 441.0 804.3 441.0 789.4 441.7 786.7 441.7 804.2 442.5 804.8 442.5 782.5 443.1 785.5 443.1 802.9 443.8 800.6 443.8 785.7 444.8 779.9 444.8 800.2 445.2 798.5 445.2 782.5 445.9 782.8 445.9 799.9 446.6 801.2 446.6 785.5 447.3 783.2 447.3 801.0 447.8 805.2 447.8 780.7 448.7 782.2 448.7 802.2 449.4 801.1 449.4 779.6 450.1 781.2 450.1 801.9 450.9 802.8 450.9 777.6 451.5 772.7 451.5 801.7 452.4 801.0 452.4 758.9 452.9 763.2 452.9 798.1 453.6 797.3 453.6 764.0 454.3 761.3 454.3 797.0 455.0 796.8 455.0 763.3 455.5 756.4 455.5 796.4 456.4 792.3 456.4 756.1 457.1 751.7 457.1 790.5 457.8 787.9 457.8 743.3 458.5 736.9 458.5 789.1 459.2 786.2 459.2 741.5 459.9 741.2 459.9 785.3 460.6 786.0 460.6 740.7 461.5 738.5 461.5 787.4 462.0 784.6 462.0 740.9 462.7 745.3 462.7 786.3 463.4 785.1 463.4 742.2 464.1 737.9 464.1 782.4 464.6 786.5 464.6 729.8 465.5 740.3 465.5 781.1 466.2 781.9 466.2 742.6 466.9 737.5 466.9 788.3 467.6 776.5 467.6 743.9 468.3 737.7 468.3 772.5 469.1 767.7 469.1 733.4 469.7 737.9 469.7 769.1 470.4 771.8 470.4 740.8 471.1 743.9 471.1 773.8 471.8 776.0 471.8 734.3 472.2 729.8 472.2 780.5 472.5 778.2 472.5 735.8 473.2 746.5 473.2 779.8 473.9 781.2 473.9 753.7 474.5 750.1 474.5 785.7 475.3 785.9 475.3 752.2 476.0 755.9 476.0 789.6 476.7 791.6 476.7 755.4 477.5 755.1 477.5 796.3 478.1 795.7 478.1 768.7 479.0 767.5 479.0 802.3 479.5 798.8 479.5 775.1 480.2 773.8 480.2 797.1 480.9 796.5 480.9 775.3 481.6 772.8 481.6 796.3 482.3 796.2 482.3 768.3 482.8 759.0 482.8 797.9 483.7 797.1 483.7 770.3 484.4 773.3 484.4 798.3 485.1 799.2 485.1 773.7 485.9 772.6 485.9 803.1 486.5 800.6 486.5 773.6 487.2 775.7 487.2 800.1 487.9 800.0 487.9 774.1 488.9 773.6 488.9 800.3 489.3 799.7 489.3 778.1 490.0 779.8 490.0 801.4 490.7 803.9 490.7 780.2 491.2 780.6 491.2 806.8 492.1 805.9 492.1 785.8 492.8 788.9 492.8 805.3 493.5 807.0 493.5 787.6 494.2 790.8 494.2 806.1 495.0 813.1 495.0 790.4 495.6 789.9 495.6 808.1 496.3 805.3 496.3 789.6 497.3 774.9 497.3 803.2 497.7 802.7 497.7 784.8 498.4 786.8 498.4 803.0 499.1 803.8 499.1 784.3 499.6 779.9 499.6 805.3 500.5 803.4 500.5 786.5 501.2 787.7 501.2 803.1 501.9 803.2 501.9 790.3 502.6 789.3 502.6 804.0 503.3 801.1 503.3 792.0 504.0 789.3 504.0 801.7 504.7 800.3 504.7 787.5 505.7 781.8 505.7 800.2 506.1 798.2 506.1 781.1 506.8 775.5 506.8 798.4 507.2 799.3 507.2 766.4 507.5 771.1 507.5 798.9 508.2 798.3 508.2 777.2 508.9 776.5 508.9 797.8 509.6 799.1 509.6 775.3 510.2 773.6 510.2 803.0 511.0 795.4 511.0 775.7 511.7 773.5 511.7 795.8 512.5 795.9 512.5 768.1 513.1 766.2 513.1 794.8 513.8 796.7 513.8 758.6 514.3 742.7 514.3 799.2 515.2 793.0 515.2 758.8 515.9 758.2 515.9 790.2 516.6 787.8 516.6 751.7 517.1 746.1 517.1 789.5 518.0 785.4 518.0 748.7 518.7 747.5 518.7 784.1 519.4 780.1 519.4 746.9 519.8 733.2 519.8 780.5 520.8 775.3 520.8 746.2 521.5 749.5 521.5 775.8 522.4 783.1 522.4 744.0 522.9 743.8 522.9 779.3 523.6 776.4 523.6 741.2 524.3 737.8 524.3 776.7 524.7 778.3 524.7 729.1 525.0 734.9 525.0 774.5 525.7 777.7 525.7 745.4 526.4 742.9 526.4 780.6 527.1 782.4 527.1 744.5 527.7 743.5 527.7 789.6 528.5 782.0 528.5 751.2 529.2 747.9 529.2 782.5 529.9 784.0 529.9 751.7 530.8 747.1 530.8 785.9 531.3 783.9 531.3 748.0 532.0 748.6 532.0 782.2 532.7 779.2 532.7 753.7 533.4 749.5 533.4 779.2 533.8 778.7 533.8 745.5 534.8 755.3 534.8 779.7 535.5 784.2 535.5 758.8 536.1 757.9 536.1 791.8 536.9 785.2 536.9 765.7 537.6 765.0 537.6 787.9 538.3 788.4 538.3 766.6 539.1 766.8 539.1 790.6 539.7 792.8 539.7 772.4 540.4 776.0 540.4 796.1 541.4 801.2 541.4 780.7 541.8 784.2 541.8 800.9 542.5 803.0 542.5 783.2 543.2 786.6 543.2 805.4 543.7 807.0 543.7 780.8 544.6 784.8 544.6 807.0 545.3 808.0 545.3 785.4 545.7 784.3 545.7 808.9 546.0 808.0 546.0 788.6 546.7 785.1 546.7 807.1 547.4 807.1 547.4 785.5 548.3 784.3 548.3 807.2 548.8 807.6 548.8 788.0 549.7 789.9 549.7 808.8"/>
<rect x="60.5" y="705.5" width="513.0" height="118.0" fill="none" stroke="#000" stroke-width="0.9"/>
<path d="M83.5 823.5v4.3M194.5 823.5v4.3M305.5 823.5v4.3M416.5 823.5v4.3M527.5 823.5v4.3M60.5 821.5h-4.3M60.5 782.5h-4.3M60.5 743.5h-4.3" stroke="#000" stroke-width="0.9" fill="none"/>
<rect x="66.50" y="711.50" width="126.00" height="19" rx="2.2" fill="#fff" fill-opacity="0.8" stroke="#ccc" stroke-opacity="0.8" stroke-width="1.1"/>
<path d="M70.94 719.10h22.22" stroke="#ffc0cb" stroke-width="1.67" stroke-linecap="square" fill="none"/>
</g>
<g>
<path class="d" stroke="#808080" d="M677.3 817.3 677.3 814.2 678.3 806.7 678.3 817.3 678.7 817.3 678.7 808.2 679.4 808.5 679.4 817.3 679.8 817.3 679.8 806.0 680.1 808.3 680.1 817.3 680.8 817.3 680.8 808.3 681.5 808.9 681.5 817.3 682.1 817.3 682.1 808.2 682.9 808.4 682.9 817.3 683.6 817.3 683.6 807.3 684.3 809.2 684.3 817.3 685.1 817.3 685.1 809.7 685.7 809.8 685.7 817.3 686.4 817.3 686.4 807.2 687.1 803.6 687.1 817.3 687.8 817.3 687.8 805.4 688.5 806.1 688.5 817.3 689.2 817.3 689.2 805.2 689.7 802.2 689.7 817.3 690.6 817.3 690.6 788.2 691.2 776.3 691.2 817.3 692.0 817.3 692.0 778.7 692.7 778.2 692.7 817.3 693.5 817.3 693.5 774.8 694.1 780.3 694.1 817.3 694.8 817.3 694.8 780.3 695.5 780.2 695.5 817.3 696.5 817.3 696.5 781.0 696.9 780.7 696.9 817.3 697.6 817.3 697.6 775.4 698.3 771.9 698.3 817.3 698.8 817.3 698.8 767.8 699.7 770.1 699.7 817.3 700.4 817.3 700.4 772.1 701.1 768.0 701.1 817.3 701.8 817.3 701.8 774.8 702.6 777.4 702.6 817.3 703.2 817.3 703.2 781.0 703.9 781.3 703.9 817.3 704.9 817.3 704.9 779.6 705.3 780.0 705.3 817.3 706.0 817.3 706.0 778.1 706.7 766.0 706.7 817.3 707.4 817.3 707.4 773.3 708.1 771.6 708.1 817.3 708.7 817.3 708.7 767.4 709.5 768.7 709.5 817.3 710.2 817.3 710.2 767.0 711.0 759.8 711.0 817.3 711.6 817.3 711.6 765.8 712.5 762.9 712.5 817.3 713.0 817.3 713.0 761.6 713.7 755.3 713.7 817.3 714.5 817.3 714.5 737.0 715.1 749.5 715.1 817.3 715.5 817.3 715.5 754.3 716.6 753.7 716.6 817.3 717.2 817.3 717.2 762.6 718.1 768.8 718.1 817.3 718.6 817.3 718.6 775.1 719.3 780.3 719.3 817.3 720.1 817.3 720.1 784.6 720.7 788.2 720.7 817.3 721.4 817.3 721.4 793.9 722.4 794.9 722.4 817.3 722.8 817.3 722.8 799.2 723.5 801.0 723.5 817.3 724.2 817.3 724.2 802.8 724.7 802.2 724.7 817.3 725.6 817.3 725.6 805.1 726.3 805.9 726.3 817.3 726.9 817.3 726.9 805.1 727.7 803.9 727.7 817.3 728.4 817.3 728.4 799.4 728.8 794.9 728.8 817.3 729.1 817.3 729.1 798.7 729.8 801.7 729.8 817.3 730.8 817.3 730.8 800.8 731.2 804.2 731.2 817.3 731.9 817.3 731.9 806.3 732.6 810.0 732.6 817.3 733.0 817.3 733.0 811.2 734.0 810.7 734.0 817.3 734.6 817.3 734.6 809.6 735.4 812.0 735.4 817.3 736.1 817.3 736.1 813.0 736.8 813.9 736.8 817.3 737.5 817.3 737.5 814.1 738.2 814.1 738.2 817.3 739.1 817.3 739.1 813.5 739.6 812.9 739.6 817.3 740.3 817.3 740.3 811.2 741.0 809.5 741.0 817.3 741.7 817.3 741.7 808.2 742.2 806.7 742.2 817.3 743.1 817.3 743.1 806.7 743.8 805.8 743.8 817.3 744.5 817.3 744.5 803.2 744.9 796.5 744.9 817.3 745.2 817.3 745.2 801.0 745.9 805.4 745.9 817.3 746.4 817.3 746.4 806.7 747.5 788.8 747.5 817.3 748.0 817.3 748.0 789.2 749.0 775.8 749.0 817.3 749.4 817.3 749.4 782.1 750.1 782.6 750.1 817.3 750.8 817.3 750.8 781.9 751.3 780.1 751.3 817.3 752.2 817.3 752.2 784.8 752.8 784.8 752.8 817.3 753.6 817.3 753.6 784.6 754.3 776.8 754.3 817.3 754.8 817.3 754.8 765.7 755.7 786.9 755.7 817.3 756.6 817.3 756.6 791.4 757.1 787.9 757.1 817.3 757.8 817.3 757.8 782.2 758.1 779.3 758.1 817.3 758.5 817.3 758.5 780.2 759.2 777.5 759.2 817.3 759.9 817.3 759.9 776.2 760.7 758.2 760.7 817.3 761.3 817.3 761.3 769.6 762.2 774.7 762.2 817.3 762.7 817.3 762.7 771.2 763.4 766.8 763.4 817.3 764.2 817.3 764.2 758.8 764.8 757.6 764.8 817.3 765.7 817.3 765.7 746.0 766.2 742.6 766.2 817.3 767.0 817.3 767.0 726.8 767.6 740.2 767.6 817.3 768.3 817.3 768.3 746.1 769.0 760.1 769.0 817.3 769.6 817.3 769.6 767.2 770.4 769.3 770.4 817.3 771.1 817.3 771.1 770.6 771.8 770.3 771.8 817.3 772.5 817.3 772.5 770.2 773.1 763.7 773.1 817.3 773.9 817.3 773.9 783.5 774.4 787.2 774.4 817.3 775.3 817.3 775.3 791.1 776.0 788.7 776.0 817.3 776.7 817.3 776.7 788.4 777.2 781.5 777.2 817.3 778.1 817.3 778.1 793.0 779.0 790.0 779.0 817.3 779.5 817.3 779.5 793.8 780.2 793.9 780.2 817.3 781.0 817.3 781.0 788.7 781.6 798.4 781.6 817.3 782.5 817.3 782.5 803.6 783.0 801.9 783.0 817.3 784.0 817.3 784.0 798.4 784.4 801.8 784.4 817.3 785.1 817.3 785.1 801.5 785.8 803.2 785.8 817.3 786.6 817.3 786.6 794.0 787.2 802.8 787.2 817.3 788.1 817.3 788.1 808.1 788.6 810.0 788.6 817.3 789.3 817.3 789.3 811.8 790.1 813.4 790.1 817.3 790.7 817.3 790.7 814.0 791.4 813.9 791.4 817.3 792.1 817.3 792.1 814.0 792.8 814.1 792.8 817.3 793.1 817.3 793.1 813.9 793.5 813.1 793.5 817.3 794.2 817.3 794.2 811.0 794.9 808.5 794.9 817.3 795.4 817.3 795.4 806.6 796.3 807.0 796.3 817.3 796.9 817.3 796.9 806.4 797.7 810.2 797.7 817.3 798.5 817.3 798.5 812.7 799.1 809.8 799.1 817.3 800.0 817.3 800.0 799.4 800.5 804.9 800.5 817.3 801.5 817.3 801.5 805.1 801.9 803.7 801.9 817.3 802.6 817.3 802.6 800.0 803.3 796.7 803.3 817.3 803.8 817.3 803.8 793.0 804.7 794.3 804.7 817.3 805.4 817.3 805.4 793.4 806.1 791.5 806.1 817.3 806.8 817.3 806.8 789.8 807.5 786.8 807.5 817.3 808.2 817.3 808.2 783.5 808.8 774.9 808.8 817.3 809.6 817.3 809.6 780.7 810.3 780.7 810.3 817.3 810.6 817.3 810.6 779.5 811.0 781.2 811.0 817.3 811.7 817.3 811.7 779.0 812.4 777.6 812.4 817.3 812.9 817.3 812.9 774.8 813.8 771.2 813.8 817.3 814.5 817.3 814.5 766.5 814.9 763.3 814.9 817.3 815.2 817.3 815.2 764.0 815.9 763.8 815.9 817.3 816.7 817.3 816.7 762.6 817.3 762.3 817.3 817.3 817.9 817.3 817.9 751.0 818.7 764.4 818.7 817.3 819.5 817.3 819.5 765.8 820.1 773.4 820.1 817.3 820.5 817.3 820.5 773.2 821.5 771.5 821.5 817.3 822.2 817.3 822.2 766.8 822.8 758.9 822.8 817.3 823.6 817.3 823.6 767.2 824.3 766.4 824.3 817.3 825.1 817.3 825.1 764.3 825.7 770.7 825.7 817.3 826.6 817.3 826.6 773.4 827.1 774.2 827.1 817.3 828.1 817.3 828.1 767.4 828.5 769.7 828.5 817.3 829.2 817.3 829.2 768.6 830.0 766.4 830.0 817.3 830.6 817.3 830.6 764.8 831.3 754.5 831.3 817.3 831.8 817.3 831.8 738.5 832.7 762.8 832.7 817.3 833.0 817.3 833.0 767.2 833.4 769.2 833.4 817.3 834.1 817.3 834.1 770.7 834.8 774.3 834.8 817.3 835.3 817.3 835.3 772.0 836.2 778.7 836.2 817.3 836.9 817.3 836.9 779.2 837.6 770.3 837.6 817.3 838.3 817.3 838.3 786.3 839.0 793.8 839.0 817.3 839.4 817.3 839.4 794.7 840.4 796.5 840.4 817.3 841.1 817.3 841.1 799.1 841.8 797.7 841.8 817.3 842.5 817.3 842.5 797.6 842.9 797.0 842.9 817.3 843.9 817.3 843.9 802.6 844.6 804.0 844.6 817.3 845.2 817.3 845.2 804.4 846.0 805.2 846.0 817.3 846.7 817.3 846.7 804.8 847.4 804.1 847.4 817.3 848.0 817.3 848.0 803.6 848.8 806.2 848.8 817.3 849.5 817.3 849.5 807.7 850.2 809.7 850.2 817.3 850.5 817.3 850.5 809.7 850.9 810.5 850.9 817.3 851.6 817.3 851.6 810.2 852.3 809.7 852.3 817.3 852.8 817.3 852.8 808.2 853.7 809.5 853.7 817.3 854.4 817.3 854.4 808.3 855.1 803.3 855.1 817.3 855.8 817.3 855.8 809.0 856.5 811.1 856.5 817.3 857.4 817.3 857.4 811.9 857.9 811.1 857.9 817.3 858.6 817.3 858.6 809.2 859.3 807.5 859.3 817.3 860.0 817.3 860.0 806.1 860.4 803.1 860.4 817.3 861.4 817.3 861.4 804.4 862.3 802.9 862.3 817.3 862.8 817.3 862.8 799.4 863.5 792.4 863.5 817.3 864.2 817.3 864.2 771.9 864.9 783.7 864.9 817.3 865.6 817.3 865.6 785.6 866.5 782.5 866.5 817.3 867.0 817.3 867.0 786.2 867.7 787.9 867.7 817.3 868.4 817.3 868.4 789.7 869.3 789.7 869.3 817.3 869.8 817.3 869.8 781.6 870.5 764.4 870.5 817.3 871.1 817.3 871.1 738.6 871.9 757.7 871.9 817.3 872.9 817.3 872.9 754.2 873.3 757.2 873.3 817.3 874.0 817.3 874.0 758.4 874.9 752.2 874.9 817.3 875.4 817.3 875.4 764.2 876.1 773.6 876.1 817.3 876.8 817.3 876.8 779.2 877.2 780.0 877.2 817.3 877.5 817.3 877.5 776.6 878.2 767.2 878.2 817.3 879.0 817.3 879.0 753.6 879.6 758.4 879.6 817.3 880.3 817.3 880.3 761.1 881.0 751.8 881.0 817.3 881.7 817.3 881.7 769.8 882.4 775.3 882.4 817.3 883.0 817.3 883.0 779.5 883.8 771.3 883.8 817.3 884.5 817.3 884.5 761.5 885.1 743.1 885.1 817.3 885.9 817.3 885.9 761.7 886.6 757.8 886.6 817.3 887.1 817.3 887.1 755.1 888.0 755.0 888.0 817.3 888.7 817.3 888.7 744.4 889.3 720.0 889.3 817.3 890.1 817.3 890.1 754.1 890.8 762.1 890.8 817.3 891.2 817.3 891.2 763.6 891.5 766.6 891.5 817.3 892.2 817.3 892.2 762.9 892.8 746.0 892.8 817.3 893.6 817.3 893.6 771.0 894.3 777.8 894.3 817.3 894.7 817.3 894.7 778.0 895.0 783.0 895.0 817.3 895.7 817.3 895.7 784.1 896.4 787.9 896.4 817.3 896.9 817.3 896.9 787.2 897.8 787.5 897.8 817.3 898.5 817.3 898.5 779.8 898.9 770.0 898.9 817.3 899.9 817.3 899.9 794.4 900.8 799.1 900.8 817.3 901.3 817.3 901.3 801.5 902.0 803.5 902.0 817.3 902.7 817.3 902.7 805.5 903.0 805.1 903.0 817.3 903.4 817.3 903.4 806.7 904.1 805.7 904.1 817.3 904.9 817.3 904.9 801.0 905.5 807.3 905.5 817.3 906.2 817.3 906.2 810.2 906.8 811.9 906.8 817.3 907.6 817.3 907.6 811.8 908.4 811.2 908.4 817.3 909.0 817.3 909.0 809.1 909.9 798.1 909.9 817.3 910.4 817.3 910.4 807.1 911.1 811.0 911.1 817.3 911.8 817.3 911.8 812.3 912.2 811.9 912.2 817.3 912.5 817.3 912.5 812.1 913.2 811.9 913.2 817.3 913.9 817.3 913.9 810.8 914.6 810.2 914.6 817.3 915.5 817.3 915.5 805.9 916.0 808.3 916.0 817.3 916.7 817.3 916.7 809.2 917.4 809.3 917.4 817.3 918.3 817.3 918.3 808.9 918.8 808.9 918.8 817.3 919.5 817.3 919.5 807.1 920.2 802.6 920.2 817.3 920.8 817.3 920.8 787.9 921.6 802.4 921.6 817.3 922.4 817.3 922.4 805.1 923.0 807.2 923.0 817.3 923.7 817.3 923.7 808.7 924.3 809.0 924.3 817.3 925.1 817.3 925.1 803.3 925.8 795.6 925.8 817.3 926.6 817.3 926.6 781.0 927.2 781.5 927.2 817.3 928.1 817.3 928.1 772.0 928.6 780.0 928.6 817.3 929.3 817.3 929.3 785.4 930.0 786.3 930.0 817.3 930.4 817.3 930.4 784.1 931.4 783.6 931.4 817.3 932.2 817.3 932.2 762.4 932.8 777.2 932.8 817.3 933.5 817.3 933.5 785.0 934.2 787.1 934.2 817.3 934.9 817.3 934.9 786.6 935.6 781.0 935.6 817.3 936.5 817.3 936.5 773.2 937.0 768.1 937.0 817.3 938.0 817.3 938.0 738.6 938.4 752.5 938.4 817.3 939.1 817.3 939.1 768.2 939.6 770.5 939.6 817.3 940.5 817.3 940.5 771.0 941.2 770.7 941.2 817.3 941.9 817.3 941.9 772.3 942.3 770.2 942.3 817.3 942.6 817.3 942.6 768.4 943.3 759.9 943.3 817.3 944.1 817.3 944.1 727.0 944.7 749.9 944.7 817.3 945.4 817.3 945.4 759.0 945.9 758.7 945.9 817.3 946.8 817.3 946.8 764.7 947.5 770.5 947.5 817.3 947.9 817.3 947.9 771.1 948.9 775.0 948.9 817.3 949.6 817.3 949.6 777.7 950.3 766.1 950.3 817.3 950.7 817.3 950.7 755.3 951.0 770.6 951.0 817.3 951.7 817.3 951.7 790.6 952.5 799.2 952.5 817.3 953.1 817.3 953.1 799.4 953.8 798.5 953.8 817.3 954.8 817.3 954.8 788.0 955.2 795.3 955.2 817.3 955.9 817.3 955.9 798.7 956.3 797.7 956.3 817.3 956.6 817.3 956.6 798.1 957.3 796.2 957.3 817.3 958.1 817.3 958.1 780.8 958.7 793.3 958.7 817.3 959.4 817.3 959.4 798.8 960.1 799.1 960.1 817.3 960.8 817.3 960.8 802.1 961.5 804.9 961.5 817.3 962.2 817.3 962.2 808.0 963.1 810.4 963.1 817.3 963.6 817.3 963.6 811.1 964.3 810.5 964.3 817.3 965.0 817.3 965.0 810.4 965.4 809.7 965.4 817.3 966.4 817.3 966.4 804.0 966.9 796.2 966.9 817.3 967.8 817.3 967.8 802.9 968.5 803.3 968.5 817.3 969.2 817.3 969.2 800.7 969.9 802.7 969.9 817.3 970.6 817.3 970.6 803.4 971.5 802.1 971.5 817.3 972.0 817.3 972.0 806.9 973.0 809.6 973.0 817.3 973.4 817.3 973.4 808.4 974.1 805.8 974.1 817.3 975.0 817.3 975.0 801.0 975.5 800.7 975.5 817.3 976.2 817.3 976.2 798.8 976.9 795.6 976.9 817.3 977.6 817.3 977.6 793.1 978.3 792.3 978.3 817.3 979.0 817.3 979.0 789.9 979.9 784.3 979.9 817.3 980.4 817.3 980.4 784.4 981.1 783.6 981.1 817.3 981.8 817.3 981.8 779.5 982.2 777.6 982.2 817.3 982.5 817.3 982.5 779.9 983.2 781.6 983.2 817.3 984.0 817.3 984.0 775.8 984.6 783.4 984.6 817.3 985.3 817.3 985.3 787.9 986.0 787.9 986.0 817.3 986.7 817.3 986.7 790.7 987.4 787.4 987.4 817.3 988.1 817.3 988.1 786.7 989.0 783.4 989.0 817.3 989.5 817.3 989.5 783.2 990.2 777.6 990.2 817.3 990.9 817.3 990.9 771.8 991.6 762.7 991.6 817.3 992.3 817.3 992.3 765.2 993.0 764.6 993.0 817.3 993.6 817.3 993.6 762.6 994.4 742.9 994.4 817.3 994.8 817.3 994.8 728.8 995.1 744.7 995.1 817.3 995.8 817.3 995.8 768.4 996.6 776.3 996.6 817.3 997.2 817.3 997.2 766.3 997.9 754.8 997.9 817.3 998.6 817.3 998.6 737.2 999.3 740.5 999.3 817.3 1000.0 817.3 1000.0 736.0 1000.7 738.5 1000.7 817.3 1001.5 817.3 1001.5 735.6 1002.1 745.1 1002.1 817.3 1002.8 817.3 1002.8 756.7 1003.3 761.4 1003.3 817.3 1004.2 817.3 1004.2 771.5 1004.9 772.5 1004.9 817.3 1005.3 817.3 1005.3 773.2 1006.3 780.2 1006.3 817.3 1007.0 817.3 1007.0 782.2 1007.6 784.0 1007.6 817.3 1008.4 817.3 1008.4 787.2 1009.1 788.1 1009.1 817.3 1009.8 817.3 1009.8 789.0 1010.7 787.2 1010.7 817.3 1011.2 817.3 1011.2 788.7 1011.9 786.6 1011.9 817.3 1012.6 817.3 1012.6 779.7 1013.3 788.5 1013.3 817.3 1014.0 817.3 1014.0 791.1 1014.5 788.6 1014.5 817.3 1015.4 817.3 1015.4 794.3 1016.1 791.9 1016.1 817.3 1016.7 817.3 1016.7 791.6 1017.5 793.2 1017.5 817.3 1018.2 817.3 1018.2 792.9 1018.6 792.3 1018.6 817.3 1018.9 817.3 1018.9 798.7 1019.8 805.9 1019.8 817.3 1020.3 817.3 1020.3 807.2 1021.0 805.7 1021.0 817.3 1021.6 817.3 1021.6 803.4 1022.4 809.2 1022.4 817.3 1022.8 817.3 1022.8 810.4 1023.8 810.8 1023.8 817.3 1024.5 817.3 1024.5 810.1 1025.1 807.4 1025.1 817.3 1025.9 817.3 1025.9 810.5 1026.6 810.8 1026.6 817.3 1027.4 817.3 1027.4 810.4 1028.0 809.9 1028.0 817.3 1028.7 817.3 1028.7 807.4 1029.4 798.4 1029.4 817.3 1030.1 817.3 1030.1 808.7 1030.8 811.1 1030.8 817.3 1031.2 817.3 1031.2 811.3 1031.5 811.2 1031.5 817.3 1032.2 817.3 1032.2 809.1 1032.9 807.3 1032.9 817.3 1033.6 817.3 1033.6 805.0 1034.2 802.0 1034.2 817.3 1035.0 817.3 1035.0 802.5 1035.8 801.4 1035.8 817.3 1036.4 817.3 1036.4 798.7 1037.1 796.0 1037.1 817.3 1038.0 817.3 1038.0 789.9 1038.5 790.6 1038.5 817.3 1039.2 817.3 1039.2 789.9 1039.9 790.7 1039.9 817.3 1040.3 817.3 1040.3 788.4 1041.3 790.7 1041.3 817.3 1042.0 817.3 1042.0 786.7 1042.6 784.9 1042.6 817.3 1043.4 817.3 1043.4 782.4 1044.1 768.0 1044.1 817.3 1044.8 817.3 1044.8 780.0 1045.5 782.0 1045.5 817.3 1046.4 817.3 1046.4 780.8 1046.9 779.6 1046.9 817.3 1047.6 817.3 1047.6 776.9 1048.4 759.3 1048.4 817.3 1049.0 817.3 1049.0 774.1 1049.7 782.1 1049.7 817.3 1050.2 817.3 1050.2 781.1 1051.1 774.1 1051.1 817.3 1051.8 817.3 1051.8 757.5 1052.2 742.1 1052.2 817.3 1052.5 817.3 1052.5 751.3 1053.2 764.5 1053.2 817.3 1054.0 817.3 1054.0 765.8 1054.6 767.2 1054.6 817.3 1055.5 817.3 1055.5 762.7 1056.0 756.3 1056.0 817.3 1056.7 817.3 1056.7 728.7 1057.1 711.1 1057.1 817.3 1057.4 817.3 1057.4 722.0 1058.1 733.3 1058.1 817.3 1058.6 817.3 1058.6 732.3 1059.5 744.9 1059.5 817.3 1060.2 817.3 1060.2 750.4 1060.6 751.6 1060.6 817.3 1060.9 817.3 1060.9 750.2 1061.6 740.9 1061.6 817.3 1062.4 817.3 1062.4 713.6 1063.0 733.2 1063.0 817.3 1063.9 817.3 1063.9 740.0 1064.4 743.8 1064.4 817.3 1065.1 817.3 1065.1 742.8 1065.7 741.7 1065.7 817.3 1066.5 817.3 1066.5 762.7 1066.9 771.8 1066.9 817.3 1067.9 817.3 1067.9 781.6 1068.6 786.7 1068.6 817.3 1069.2 817.3 1069.2 789.3 1070.0 792.9 1070.0 817.3 1070.7 817.3 1070.7 795.1 1071.4 795.0 1071.4 817.3 1071.8 817.3 1071.8 787.5 1072.8 802.3 1072.8 817.3 1073.8 817.3 1073.8 805.9 1074.2 805.7 1074.2 817.3 1074.9 817.3 1074.9 803.7 1075.6 799.5 1075.6 817.3 1076.1 817.3 1076.1 792.3 1077.0 801.8 1077.0 817.3 1077.9 817.3 1077.9 799.1 1078.4 801.9 1078.4 817.3 1079.1 817.3 1079.1 800.6 1079.8 805.6 1079.8 817.3 1080.6 817.3 1080.6 808.2 1081.2 808.6 1081.2 817.3 1081.9 817.3 1081.9 809.1 1082.6 808.4 1082.6 817.3 1083.3 817.3 1083.3 806.6 1083.7 803.1 1083.7 817.3 1084.0 817.3 1084.0 806.4 1084.7 809.1 1084.7 817.3 1085.4 817.3 1085.4 809.7 1086.1 809.4 1086.1 817.3 1086.7 817.3 1086.7 808.9 1087.5 810.0 1087.5 817.3 1088.3 817.3 1088.3 810.4 1088.9 809.9 1088.9 817.3 1089.6 817.3 1089.6 809.2 1090.5 802.1 1090.5 817.3 1091.0 817.3 1091.0 806.8 1091.7 809.5 1091.7 817.3 1092.4 817.3 1092.4 809.8 1092.8 808.3 1092.8 817.3 1093.8 817.3 1093.8 809.3 1094.5 808.5 1094.5 817.3 1095.1 817.3 1095.1 806.7 1095.9 805.3 1095.9 817.3 1096.6 817.3 1096.6 803.6 1097.3 802.9 1097.3 817.3 1098.1 817.3 1098.1 800.5 1098.7 800.4 1098.7 817.3 1099.4 817.3 1099.4 799.0 1100.1 795.8 1100.1 817.3 1100.7 817.3 1100.7 787.4 1101.5 797.3 1101.5 817.3 1102.2 817.3 1102.2 796.7 1102.7 794.7 1102.7 817.3 1103.6 817.3 1103.6 791.1 1104.3 788.8 1104.3 817.3 1105.0 817.3 1105.0 780.9 1105.7 777.0 1105.7 817.3 1106.2 817.3 1106.2 771.3 1107.3 775.6 1107.3 817.3 1107.8 817.3 1107.8 765.7 1108.5 741.9 1108.5 817.3 1109.2 817.3 1109.2 772.4 1109.9 776.6 1109.9 817.3 1110.6 817.3 1110.6 776.1 1111.1 771.2 1111.1 817.3 1112.0 817.3 1112.0 779.7 1112.6 778.0 1112.6 817.3 1113.4 817.3 1113.4 753.1 1113.8 731.5 1113.8 817.3 1114.8 817.3 1114.8 757.1 1115.6 755.0 1115.6 817.3 1116.2 817.3 1116.2 759.0 1116.9 761.6 1116.9 817.3 1117.9 817.3 1117.9 752.1 1118.3 760.4 1118.3 817.3 1119.0 817.3 1119.0 766.9 1119.9 768.9 1119.9 817.3 1120.4 817.3 1120.4 770.0 1121.3 761.2 1121.3 817.3 1121.8 817.3 1121.8 766.5 1122.5 767.1 1122.5 817.3 1123.2 817.3 1123.2 756.6 1124.0 721.7 1124.0 817.3 1124.6 817.3 1124.6 744.0 1125.5 753.6 1125.5 817.3 1126.0 817.3 1126.0 756.6 1126.7 755.1 1126.7 817.3 1127.0 817.3 1127.0 748.9 1127.4 759.3 1127.4 817.3 1128.1 817.3 1128.1 773.2 1129.0 780.2 1129.0 817.3 1129.5 817.3 1129.5 786.6 1130.2 792.4 1130.2 817.3 1130.5 817.3 1130.5 794.0 1130.9 795.0 1130.9 817.3 1131.6 817.3 1131.6 794.2 1132.4 793.0 1132.4 817.3 1133.0 817.3 1133.0 795.2 1133.7 796.7 1133.7 817.3 1134.2 817.3 1134.2 796.8 1135.4 808.1 1135.4 817.3 1135.8 817.3 1135.8 808.0 1136.5 805.4 1136.5 817.3 1137.2 817.3 1137.2 797.7 1137.9 805.0 1137.9 817.3 1138.8 817.3 1138.8 806.7 1139.3 806.7 1139.3 817.3 1140.3 817.3 1140.3 802.4 1140.7 806.1 1140.7 817.3 1141.4 817.3 1141.4 808.5 1142.3 810.0 1142.3 817.3 1142.8 817.3 1142.8 810.0 1143.7 808.9 1143.7 817.3"/>
<rect x="654.5" y="705.5" width="513.0" height="118.0" fill="none" stroke="#000" stroke-width="0.9"/>
<path d="M677.5 823.5v4.3M788.5 823.5v4.3M899.5 823.5v4.3M1010.5 823.5v4.3M1121.5 823.5v4.3M654.5 817.5h-4.3M654.5 771.5h-4.3M654.5 725.5h-4.3" stroke="#000" stroke-width="0.9" fill="none"/>
<rect x="660.50" y="711.50" width="163.00" height="19" rx="2.2" fill="#fff" fill-opacity="0.8" stroke="#ccc" stroke-opacity="0.8" stroke-width="1.1"/>
<path d="M664.94 719.10h22.22" stroke="#808080" stroke-width="1.67" stroke-linecap="square" fill="none"/>
</g>
<g>
<path class="d" stroke="#808000" d="M83.3 1036.6 83.3 1030.1 84.3 1027.3 84.3 1044.0 84.7 1041.5 84.7 1027.3 85.4 1022.5 85.4 1038.1 85.8 1037.7 85.8 1019.5 86.1 1021.1 86.1 1036.5 86.8 1035.1 86.8 1020.2 87.5 1020.6 87.5 1033.2 88.1 1032.6 88.1 1018.9 88.9 1020.2 88.9 1032.7 89.6 1032.4 89.6 1019.5 90.0 1017.4 90.0 1032.9 91.1 1037.9 91.1 1022.7 91.7 1021.5 91.7 1033.9 92.4 1031.7 92.4 1018.4 93.1 1008.6 93.1 1031.0 93.8 1029.5 93.8 1016.8 94.5 1017.5 94.5 1029.1 95.2 1030.6 95.2 1015.9 95.7 1012.1 95.7 1034.0 96.6 1027.1 96.6 1011.9 97.3 1005.3 97.3 1026.8 98.0 1026.2 98.0 998.2 98.7 999.2 98.7 1024.9 99.4 1024.1 99.4 998.2 100.1 1000.2 100.1 1024.0 100.7 1025.7 100.7 996.0 101.5 1001.0 101.5 1022.6 102.2 1021.4 102.2 999.1 102.9 996.7 102.9 1021.9 103.3 1022.8 103.3 991.8 103.6 994.8 103.6 1021.2 104.3 1020.8 104.3 991.7 105.0 989.2 105.0 1019.4 105.7 1017.4 105.7 986.2 106.3 973.2 106.3 1020.9 107.1 1020.7 107.1 988.7 107.8 991.1 107.8 1020.3 108.3 1023.3 108.3 987.4 109.2 984.7 109.2 1018.9 110.1 1020.1 110.1 978.9 110.6 985.0 110.6 1014.7 111.3 1014.4 111.3 980.0 112.0 971.4 112.0 1012.0 112.4 1012.5 112.4 961.6 113.4 973.6 113.4 1009.5 114.1 1007.1 114.1 975.0 114.7 972.2 114.7 1010.2 115.5 1008.9 115.5 975.6 116.2 977.2 116.2 1008.5 116.9 1007.4 116.9 977.7 117.7 978.7 117.7 1009.6 118.3 1008.2 118.3 979.0 119.0 977.3 119.0 1006.1 120.0 1007.3 120.0 964.7 120.4 970.8 120.4 1006.9 121.1 1008.0 121.1 976.8 121.8 980.2 121.8 1012.0 122.6 1014.6 122.6 977.6 123.2 989.2 123.2 1014.2 123.9 1013.2 123.9 987.0 124.6 986.1 124.6 1013.0 125.3 1013.6 125.3 983.4 126.0 986.5 126.0 1013.9 126.7 1014.7 126.7 988.2 127.4 988.6 127.4 1013.9 127.9 1017.4 127.9 979.3 128.8 1000.0 128.8 1019.7 129.5 1025.2 129.5 1002.6 129.9 997.4 129.9 1029.3 130.9 1021.1 130.9 1000.1 131.6 1000.2 131.6 1021.8 132.3 1022.2 132.3 1003.0 132.9 1001.7 132.9 1022.6 133.7 1021.0 133.7 1004.2 134.4 1003.8 134.4 1020.2 134.8 1021.6 134.8 999.6 135.1 1004.4 135.1 1021.1 135.8 1023.5 135.8 1008.6 136.5 1010.4 136.5 1023.9 137.5 1028.1 137.5 1009.7 137.9 1014.6 137.9 1028.8 138.6 1032.8 138.6 1014.6 139.3 1014.4 139.3 1037.9 139.8 1042.2 139.8 1013.7 140.7 1015.6 140.7 1038.5 141.4 1039.3 141.4 1016.7 142.1 1017.5 142.1 1040.4 142.8 1039.7 142.8 1021.6 143.5 1022.3 143.5 1040.1 143.9 1040.7 143.9 1021.6 144.9 1023.1 144.9 1040.3 145.9 1042.0 145.9 1021.0 146.3 1022.8 146.3 1040.5 147.0 1039.9 147.0 1024.3 147.7 1023.4 147.7 1039.6 148.4 1039.4 148.4 1022.4 148.9 1020.9 148.9 1040.1 149.8 1035.7 149.8 1018.4 150.4 1012.8 150.4 1034.0 151.2 1033.9 151.2 1018.2 151.9 1017.9 151.9 1035.9 152.4 1038.9 152.4 1016.8 153.3 1012.5 153.3 1032.7 154.3 1031.7 154.3 1001.8 154.7 1004.7 154.7 1030.2 155.4 1031.6 155.4 1006.1 156.1 1005.4 156.1 1031.8 156.5 1033.9 156.5 1002.9 157.5 1008.1 157.5 1030.7 158.2 1030.7 158.2 1009.2 158.8 1007.6 158.8 1031.0 159.6 1028.9 159.6 1007.7 160.3 1003.2 160.3 1028.3 160.6 1029.1 160.6 997.6 161.0 999.8 161.0 1026.8 161.7 1023.9 161.7 1003.9 162.4 1002.4 162.4 1023.8 163.4 1023.9 163.4 999.5 163.8 999.9 163.8 1020.2 164.5 1017.4 164.5 993.2 165.2 980.1 165.2 1018.5 165.9 1011.1 165.9 984.0 166.6 982.3 166.6 1013.4 167.3 1012.6 167.3 976.1 167.6 969.3 167.6 1015.2 168.0 1014.2 168.0 975.0 168.7 977.5 168.7 1011.2 169.4 1012.7 169.4 984.2 169.8 977.5 169.8 1019.3 170.1 1012.2 170.1 979.3 170.8 977.2 170.8 1006.8 171.5 1007.5 171.5 974.7 172.5 959.6 172.5 1005.6 172.9 1005.5 172.9 972.1 173.6 971.8 173.6 1003.6 174.3 1005.0 174.3 971.4 174.8 967.3 174.8 1005.7 175.6 1018.2 175.6 972.5 176.4 976.7 176.4 1007.6 177.1 1008.7 177.1 979.2 177.8 982.4 177.8 1007.6 178.6 1007.6 178.6 966.0 179.2 980.5 179.2 1008.1 179.9 1009.8 179.9 986.1 180.9 987.5 180.9 1015.3 181.3 1014.2 181.3 988.6 182.0 988.9 182.0 1012.9 182.7 1014.6 182.7 987.2 183.4 987.4 183.4 1014.3 183.9 1016.7 183.9 986.2 184.8 988.0 184.8 1017.2 185.5 1018.7 185.5 989.7 186.2 991.6 186.2 1020.3 187.0 1023.9 187.0 991.4 187.6 1003.2 187.6 1022.8 188.3 1024.2 188.3 1008.3 189.2 1008.2 189.2 1027.3 189.7 1026.7 189.7 1012.9 190.4 1008.3 190.4 1026.2 191.1 1025.5 191.1 1003.7 191.5 997.3 191.5 1026.8 192.5 1026.2 192.5 1005.3 193.2 1006.6 193.2 1026.0 193.8 1027.3 193.8 1003.9 194.6 1015.7 194.6 1033.1 195.3 1041.0 195.3 1020.5 196.0 1022.6 196.0 1037.5 196.7 1038.3 196.7 1022.1 197.6 1023.0 197.6 1039.6 198.1 1038.8 198.1 1024.5 198.8 1024.8 198.8 1038.2 199.5 1039.3 199.5 1024.1 199.9 1022.1 199.9 1041.0 200.2 1039.0 200.2 1022.6 200.9 1020.8 200.9 1034.9 201.6 1033.0 201.6 1018.3 202.2 1004.2 202.2 1032.5 203.0 1030.4 203.0 1017.0 203.7 1019.5 203.7 1031.9 204.5 1036.5 204.5 1017.4 205.1 1020.2 205.1 1031.7 205.8 1029.4 205.8 1017.4 206.7 1009.4 206.7 1030.8 207.2 1033.6 207.2 1016.3 207.9 1022.0 207.9 1038.3 208.3 1040.4 208.3 1019.1 208.6 1021.6 208.6 1039.8 209.3 1038.9 209.3 1022.3 210.0 1019.8 210.0 1038.9 210.5 1040.9 210.5 1016.2 211.4 1014.2 211.4 1034.1 212.4 1031.8 212.4 1007.7 212.8 1008.0 212.8 1031.0 213.5 1029.9 213.5 1007.6 214.2 1005.4 214.2 1029.5 214.9 1028.9 214.9 1006.9 215.9 993.9 215.9 1029.1 216.3 1027.4 216.3 999.9 217.0 1006.8 217.0 1026.7 217.7 1024.5 217.7 1002.4 218.2 1000.4 218.2 1026.3 219.1 1026.4 219.1 992.6 220.0 983.7 220.0 1031.4 220.5 1028.4 220.5 984.1 221.2 983.6 221.2 1026.9 221.9 1026.3 221.9 982.9 222.6 982.6 222.6 1025.7 223.5 1026.8 223.5 976.0 224.0 983.0 224.0 1024.2 224.7 1020.7 224.7 981.5 225.4 978.0 225.4 1016.7 225.8 1015.7 225.8 973.0 226.1 974.4 226.1 1010.8 226.8 1011.6 226.8 978.0 227.5 974.9 227.5 1009.6 228.2 1009.6 228.2 977.4 228.9 980.4 228.9 1010.2 229.6 1011.7 229.6 962.5 230.3 976.9 230.3 1008.3 231.0 1009.8 231.0 977.3 231.7 978.7 231.7 1010.0 232.6 1014.5 232.6 978.4 233.1 978.7 233.1 1010.3 233.8 1007.5 233.8 978.5 234.5 971.9 234.5 1007.1 234.9 1010.3 234.9 968.9 235.2 969.3 235.2 1007.1 236.0 1011.1 236.0 962.2 236.6 974.1 236.6 1010.4 237.3 1011.6 237.3 965.1 237.8 956.2 237.8 1015.3 238.7 1012.7 238.7 964.5 239.4 970.3 239.4 1013.6 240.1 1014.8 240.1 969.4 240.6 969.0 240.6 1016.1 241.5 1013.2 241.5 981.6 242.2 982.0 242.2 1013.1 242.9 1016.6 242.9 987.3 243.6 982.0 243.6 1018.1 244.3 1019.0 244.3 993.3 245.0 996.4 245.0 1023.1 245.7 1026.5 245.7 998.9 246.3 995.1 246.3 1029.7 247.1 1028.5 247.1 1001.7 247.8 1000.0 247.8 1027.5 248.5 1027.3 248.5 999.6 248.9 998.6 248.9 1029.6 249.9 1028.8 249.9 1005.4 250.6 1007.9 250.6 1029.7 251.3 1030.1 251.3 1011.0 252.0 1011.2 252.0 1031.4 252.7 1030.7 252.7 1011.4 253.4 1012.0 253.4 1030.4 254.1 1031.3 254.1 1013.8 255.0 1009.5 255.0 1031.8 255.5 1030.9 255.5 1013.4 256.2 1011.9 256.2 1030.5 256.9 1030.4 256.9 1013.1 257.3 1012.1 257.3 1031.8 257.6 1030.4 257.6 1014.6 258.3 1013.9 258.3 1028.7 259.1 1027.3 259.1 1005.7 259.7 1013.4 259.7 1027.1 260.4 1029.6 260.4 1014.6 261.1 1014.7 261.1 1033.4 261.8 1034.1 261.8 1020.3 262.5 1023.8 262.5 1036.5 263.2 1037.9 263.2 1024.3 264.1 1024.0 264.1 1043.5 264.6 1040.7 264.6 1022.5 265.3 1018.2 265.3 1040.1 265.7 1040.4 265.7 1016.1 266.0 1014.3 266.0 1038.2 266.7 1033.9 266.7 1008.4 267.2 1001.8 267.2 1031.8 268.1 1030.9 268.1 1004.1 268.8 1003.0 268.8 1031.5 269.5 1031.8 269.5 1001.4 270.2 1003.2 270.2 1031.5 270.9 1031.5 270.9 1004.5 271.8 999.1 271.8 1032.9 272.3 1032.3 272.3 1006.3 273.0 1009.1 273.0 1032.0 273.7 1032.7 273.7 1007.8 274.0 1007.5 274.0 1034.6 274.4 1032.9 274.4 1005.8 275.1 1002.0 275.1 1032.3 275.8 1032.1 275.8 998.9 276.3 990.3 276.3 1032.1 277.2 1025.3 277.2 993.6 277.9 991.2 277.9 1019.8 278.6 1015.8 278.6 979.0 279.3 984.0 279.3 1015.6 280.0 1018.3 280.0 982.0 280.9 977.4 280.9 1027.1 281.4 1019.6 281.4 979.4 282.1 980.4 282.1 1017.3 282.8 1015.3 282.8 982.8 283.2 980.3 283.2 1019.4 283.5 1014.1 283.5 981.9 284.2 976.8 284.2 1012.8 284.9 1010.8 284.9 971.8 285.5 965.5 285.5 1009.1 286.3 1000.6 286.3 968.4 287.0 969.6 287.0 998.9 287.7 1003.8 287.7 973.0 288.5 954.8 288.5 1006.6 289.1 1002.3 289.1 968.0 289.8 971.0 289.8 1003.4 290.8 1007.5 290.8 967.1 291.2 971.2 291.2 1006.1 291.9 1007.8 291.9 966.3 292.6 968.7 292.6 1007.2 293.1 1009.4 293.1 964.0 294.0 970.7 294.0 1007.7 294.7 1005.1 294.7 974.0 295.6 954.3 295.6 1009.5 296.1 1008.4 296.1 965.8 296.8 971.9 296.8 1009.7 297.5 1010.8 297.5 975.6 298.4 975.5 298.4 1012.8 298.9 1009.6 298.9 984.6 299.6 984.7 299.6 1012.4 300.3 1015.3 300.3 982.6 301.0 984.6 301.0 1016.9 301.4 1019.6 301.4 984.6 302.4 990.4 302.4 1018.3 303.1 1020.5 303.1 992.8 303.7 991.2 303.7 1022.8 304.5 1020.9 304.5 994.7 305.2 991.3 305.2 1019.6 305.7 1022.6 305.7 981.9 306.8 999.5 306.8 1032.1 307.3 1027.4 307.3 1005.0 308.0 1003.8 308.0 1025.1 308.7 1026.6 308.7 1006.1 309.4 1004.2 309.4 1025.6 309.8 1028.1 309.8 1002.7 310.1 1006.4 310.1 1026.5 310.8 1027.8 310.8 1006.7 311.5 1010.9 311.5 1029.4 312.2 1032.2 312.2 1013.7 312.8 1011.3 312.8 1038.9 313.6 1030.9 313.6 1013.6 314.3 1011.0 314.3 1030.1 315.0 1029.6 315.0 1007.8 315.4 1001.5 315.4 1030.1 316.4 1029.9 316.4 1009.3 317.1 1009.1 317.1 1031.6 317.8 1033.2 317.8 1009.4 318.5 1010.0 318.5 1034.9 318.9 1037.4 318.9 1006.7 319.9 1012.0 319.9 1035.4 320.6 1035.0 320.6 1011.4 321.5 1002.5 321.5 1036.8 322.0 1035.5 322.0 1010.3 322.7 1015.2 322.7 1034.4 323.4 1034.9 323.4 1018.3 324.3 1017.6 324.3 1037.1 324.8 1034.0 324.8 1019.2 325.8 1014.6 325.8 1031.0 326.2 1032.0 326.2 1018.2 326.9 1017.3 326.9 1034.9 327.6 1036.9 327.6 1013.3 328.1 1007.5 328.1 1039.1 329.0 1037.8 329.0 1018.7 330.0 1021.6 330.0 1040.4 330.4 1038.7 330.4 1022.1 331.1 1021.4 331.1 1037.3 331.8 1036.7 331.8 1018.9 332.2 1014.6 332.2 1036.5 332.5 1033.7 332.5 1014.6 333.2 1006.3 333.2 1030.8 334.1 1026.2 334.1 991.2 334.6 993.8 334.6 1024.7 335.3 1022.0 335.3 993.5 336.0 988.4 336.0 1020.5 336.7 1019.8 336.7 986.2 337.2 982.0 337.2 1020.9 338.1 1019.4 338.1 983.4 338.8 983.9 338.8 1018.9 339.5 1018.3 339.5 985.1 340.2 983.3 340.2 1020.3 340.9 1018.5 340.9 983.8 341.6 986.4 341.6 1016.0 342.5 1018.2 342.5 980.5 343.0 978.2 343.0 1013.4 344.0 1007.5 344.0 937.9 344.4 956.8 344.4 1005.9 345.1 1001.1 345.1 977.7 345.8 981.0 345.8 1004.9 346.3 1012.6 346.3 980.3 347.2 974.6 347.2 1005.3 347.9 1003.4 347.9 972.6 348.6 968.2 348.6 1001.6 349.4 1005.5 349.4 949.1 350.0 952.8 350.0 1000.0 350.7 992.2 350.7 948.9 351.6 946.0 351.6 997.3 352.1 998.9 352.1 955.4 352.8 968.2 352.8 999.3 353.5 1005.1 353.5 971.4 354.4 977.2 354.4 1011.1 354.9 1009.1 354.9 982.1 355.6 982.4 355.6 1010.5 356.3 1010.0 356.3 979.6 357.0 979.1 357.0 1009.6 357.7 1014.4 357.7 977.0 358.4 983.0 358.4 1012.8 359.1 1015.6 359.1 988.5 359.8 992.6 359.8 1017.3 360.8 1027.1 360.8 991.7 361.2 997.0 361.2 1022.7 361.9 1021.0 361.9 996.2 362.6 996.3 362.6 1022.8 363.3 1023.4 363.3 994.7 364.0 993.0 364.0 1023.7 364.6 1026.1 364.6 987.4 365.4 997.5 365.4 1023.8 366.1 1025.2 366.1 997.7 366.9 996.4 366.9 1026.2 367.5 1026.2 367.5 1005.4 368.2 1007.3 368.2 1027.0 368.9 1027.5 368.9 1010.8 369.6 1012.9 369.6 1032.6 370.3 1029.6 370.3 1014.7 371.0 1014.0 371.0 1029.2 371.7 1028.1 371.7 1012.7 372.2 1008.7 372.2 1029.7 373.1 1029.4 373.1 1010.6 373.8 1010.1 373.8 1028.7 374.5 1029.6 374.5 1010.4 375.2 1009.6 375.2 1029.4 376.0 1031.0 376.0 1007.5 376.6 1012.2 376.6 1030.6 377.3 1030.4 377.3 1015.0 378.0 1019.6 378.0 1030.1 379.0 1037.4 379.0 1016.1 379.4 1016.7 379.4 1033.9 380.1 1031.0 380.1 1016.7 380.8 1016.5 380.8 1029.5 381.3 1030.5 381.3 1012.9 382.2 1014.7 382.2 1028.7 382.9 1028.1 382.9 1014.9 383.6 1011.8 383.6 1027.9 384.4 1028.7 384.4 1009.5 385.0 1011.3 385.0 1026.9 385.7 1027.0 385.7 1008.6 386.4 1006.8 386.4 1026.3 387.1 1027.1 387.1 1006.7 387.8 1005.3 387.8 1026.0 388.2 1027.7 388.2 1000.6 388.5 1002.2 388.5 1025.9 389.2 1024.6 389.2 1003.0 389.9 1000.7 389.9 1025.3 390.4 1027.3 390.4 997.3 391.3 1000.2 391.3 1027.8 392.0 1032.2 392.0 996.5 392.7 997.8 392.7 1027.1 393.4 1025.6 393.4 998.2 394.2 989.1 394.2 1025.1 394.8 1022.1 394.8 988.0 395.5 986.3 395.5 1019.9 396.2 1019.8 396.2 983.9 396.9 981.8 396.9 1018.3 397.3 1019.6 397.3 971.6 397.6 976.2 397.6 1016.2 398.3 1016.6 398.3 976.9 399.0 975.9 399.0 1015.1 399.7 1013.7 399.7 976.9 400.4 976.8 400.4 1013.5 401.1 1015.0 401.1 955.0 401.8 972.1 401.8 1011.4 402.5 1011.9 402.5 976.6 403.4 975.8 403.4 1013.0 403.9 1009.5 403.9 976.8 404.9 967.9 404.9 1016.7 405.3 1009.6 405.3 970.8 406.0 964.0 406.0 999.6 406.7 998.3 406.7 968.4 407.4 966.3 407.4 996.0 408.1 994.7 408.1 966.3 409.0 958.3 409.0 999.1 409.5 997.8 409.5 968.9 410.2 972.2 410.2 1001.0 410.9 1002.0 410.9 972.5 411.6 975.0 411.6 1008.1 412.1 1016.7 412.1 972.2 413.0 972.2 413.0 1005.8 413.7 1004.5 413.7 971.2 414.4 968.8 414.4 1004.5 414.8 1005.7 414.8 954.5 415.8 974.1 415.8 1008.5 416.5 1009.3 416.5 972.7 417.4 969.7 417.4 1015.1 417.9 1010.2 417.9 981.0 418.6 978.0 418.6 1012.3 419.3 1014.8 419.3 977.3 420.0 983.2 420.0 1013.6 420.5 1014.4 420.5 980.3 421.4 988.9 421.4 1016.2 422.1 1017.5 422.1 988.9 422.8 993.6 422.8 1021.3 423.5 1024.6 423.5 992.6 424.2 1001.4 424.2 1023.8 424.9 1023.2 424.9 1000.4 425.6 1003.7 425.6 1020.9 426.5 1023.8 426.5 1001.8 427.0 1005.8 427.0 1021.0 427.7 1023.8 427.7 1008.4 428.4 1008.4 428.4 1025.3 429.1 1028.1 429.1 1010.8 429.6 1009.4 429.6 1031.4 430.5 1026.8 430.5 1007.7 431.1 999.4 431.1 1028.2 431.9 1028.4 431.9 1007.6 432.6 1009.7 432.6 1032.6 433.1 1037.1 433.1 1007.6 434.0 1009.1 434.0 1030.4 434.9 1030.1 434.9 998.3 435.4 1010.3 435.4 1029.0 436.1 1029.2 436.1 1015.9 436.8 1019.4 436.8 1029.7 437.2 1031.6 437.2 1020.2 437.5 1021.6 437.5 1030.3 438.2 1030.2 438.2 1020.5 438.9 1020.4 438.9 1031.6 439.5 1034.2 439.5 1019.6 440.3 1018.2 440.3 1031.2 441.0 1031.2 441.0 1016.4 441.7 1013.8 441.7 1031.1 442.5 1031.7 442.5 1009.5 443.1 1012.5 443.1 1029.9 443.8 1027.5 443.8 1012.7 444.8 1006.9 444.8 1027.2 445.2 1025.4 445.2 1009.5 445.9 1009.9 445.9 1026.9 446.6 1028.1 446.6 1012.5 447.3 1010.3 447.3 1028.0 447.8 1032.2 447.8 1007.7 448.7 1009.3 448.7 1029.1 449.4 1028.1 449.4 1006.7 450.1 1008.3 450.1 1028.9 450.9 1029.7 450.9 1004.7 451.5 999.7 451.5 1028.6 452.4 1028.0 452.4 985.9 452.9 990.2 452.9 1025.1 453.6 1024.3 453.6 991.1 454.3 988.3 454.3 1024.0 455.0 1023.8 455.0 990.4 455.5 983.4 455.5 1023.4 456.4 1019.3 456.4 983.2 457.1 978.7 457.1 1017.5 457.8 1014.9 457.8 970.3 458.5 963.8 458.5 1016.1 459.2 1013.2 459.2 968.4 459.9 968.2 459.9 1012.3 460.6 1013.0 460.6 967.7 461.5 965.5 461.5 1014.4 462.0 1011.6 462.0 967.9 462.7 972.3 462.7 1013.3 463.4 1012.2 463.4 969.1 464.1 964.8 464.1 1009.5 464.6 1013.6 464.6 956.6 465.5 967.3 465.5 1008.1 466.2 1008.9 466.2 969.6 466.9 964.4 466.9 1015.3 467.6 1003.6 467.6 970.9 468.3 964.6 468.3 999.6 469.1 994.8 469.1 960.3 469.7 964.9 469.7 996.2 470.4 998.8 470.4 967.8 471.1 970.8 471.1 1000.9 471.8 1003.0 471.8 961.2 472.2 956.7 472.2 1007.5 472.5 1005.2 472.5 962.8 473.2 973.5 473.2 1006.8 473.9 1008.2 473.9 980.7 474.5 977.1 474.5 1012.8 475.3 1012.9 475.3 979.2 476.0 982.9 476.0 1016.6 476.7 1018.6 476.7 982.4 477.5 982.2 477.5 1023.3 478.1 1022.7 478.1 995.7 479.0 994.5 479.0 1029.2 479.5 1025.7 479.5 1002.2 480.2 1000.8 480.2 1024.1 480.9 1023.5 480.9 1002.3 481.6 999.8 481.6 1023.3 482.3 1023.2 482.3 995.3 482.8 986.1 482.8 1024.9 483.7 1024.0 483.7 997.3 484.4 1000.3 484.4 1025.2 485.1 1026.2 485.1 1000.8 485.9 999.7 485.9 1030.0 486.5 1027.6 486.5 1000.7 487.2 1002.8 487.2 1027.1 487.9 1026.9 487.9 1001.1 488.9 1000.6 488.9 1027.2 489.3 1026.6 489.3 1005.2 490.0 1006.8 490.0 1028.3 490.7 1030.8 490.7 1007.3 491.2 1007.7 491.2 1033.7 492.1 1032.9 492.1 1012.8 492.8 1015.9 492.8 1032.2 493.5 1034.0 493.5 1014.6 494.2 1017.8 494.2 1033.0 495.0 1040.0 495.0 1017.4 495.6 1016.9 495.6 1035.0 496.3 1032.2 496.3 1016.6 497.3 1001.9 497.3 1030.1 497.7 1029.7 497.7 1011.8 498.4 1013.8 498.4 1030.0 499.1 1030.7 499.1 1011.3 499.6 1006.9 499.6 1032.2 500.5 1030.3 500.5 1013.5 501.2 1014.7 501.2 1030.0 501.9 1030.1 501.9 1017.3 502.6 1016.3 502.6 1030.9 503.3 1028.1 503.3 1019.0 504.0 1016.4 504.0 1028.6 504.7 1027.2 504.7 1014.6 505.7 1008.8 505.7 1027.1 506.1 1025.2 506.1 1008.2 506.8 1002.6 506.8 1025.3 507.2 1026.3 507.2 993.5 507.5 998.1 507.5 1025.9 508.2 1025.3 508.2 1004.2 508.9 1003.5 508.9 1024.8 509.6 1026.0 509.6 1002.3 510.2 1000.6 510.2 1029.9 511.0 1022.3 511.0 1002.7 511.7 1000.6 511.7 1022.8 512.5 1022.8 512.5 995.1 513.1 993.3 513.1 1021.8 513.8 1023.7 513.8 985.7 514.3 969.7 514.3 1026.2 515.2 1020.0 515.2 985.9 515.9 985.3 515.9 1017.2 516.6 1014.8 516.6 978.7 517.1 973.0 517.1 1016.5 518.0 1012.4 518.0 975.7 518.7 974.4 518.7 1011.1 519.4 1007.2 519.4 973.9 519.8 960.1 519.8 1007.6 520.8 1002.4 520.8 973.1 521.5 976.5 521.5 1002.9 522.4 1010.2 522.4 971.0 522.9 970.8 522.9 1006.3 523.6 1003.4 523.6 968.2 524.3 964.7 524.3 1003.7 524.7 1005.3 524.7 956.0 525.0 961.9 525.0 1001.6 525.7 1004.8 525.7 972.4 526.4 969.9 526.4 1007.6 527.1 1009.5 527.1 971.5 527.7 970.5 527.7 1016.6 528.5 1009.0 528.5 978.2 529.2 974.8 529.2 1009.5 529.9 1011.0 529.9 978.7 530.8 974.1 530.8 1012.9 531.3 1010.9 531.3 975.0 532.0 975.6 532.0 1009.2 532.7 1006.3 532.7 980.7 533.4 976.5 533.4 1006.2 533.8 1005.7 533.8 972.5 534.8 982.3 534.8 1006.7 535.5 1011.2 535.5 985.9 536.1 985.0 536.1 1018.8 536.9 1012.2 536.9 992.7 537.6 992.0 537.6 1014.9 538.3 1015.4 538.3 993.6 539.1 993.8 539.1 1017.6 539.7 1019.8 539.7 999.4 540.4 1003.0 540.4 1023.1 541.4 1028.1 541.4 1007.7 541.8 1011.3 541.8 1027.8 542.5 1029.9 542.5 1010.2 543.2 1013.6 543.2 1032.3 543.7 1033.9 543.7 1007.8 544.6 1011.9 544.6 1033.9 545.3 1034.9 545.3 1012.4 545.7 1011.4 545.7 1035.8 546.0 1034.9 546.0 1015.6 546.7 1012.1 546.7 1034.0 547.4 1034.0 547.4 1012.6 548.3 1011.3 548.3 1034.1 548.8 1034.5 548.8 1015.0 549.7 1016.9 549.7 1035.7"/>
<rect x="60.5" y="932.5" width="513.0" height="118.0" fill="none" stroke="#000" stroke-width="0.9"/>
<path d="M83.5 1050.5v4.3M194.5 1050.5v4.3M305.5 1050.5v4.3M416.5 1050.5v4.3M527.5 1050.5v4.3M60.5 1047.5h-4.3M60.5 1017.5h-4.3M60.5 987.5h-4.3M60.5 956.5h-4.3" stroke="#000" stroke-width="0.9" fill="none"/>
<rect x="66.50" y="938.50" width="137.00" height="19" rx="2.2" fill="#fff" fill-opacity="0.8" stroke="#ccc" stroke-opacity="0.8" stroke-width="1.1"/>
<path d="M70.94 946.10h22.22" stroke="#808000" stroke-width="1.67" stroke-linecap="square" fill="none"/>
</g>
<g>
<path class="d" stroke="#00ffff" d="M677.3 1036.6 677.3 1030.0 678.3 1027.1 678.3 1044.0 678.7 1041.5 678.7 1027.1 679.4 1022.4 679.4 1038.0 679.8 1037.6 679.8 1019.3 680.1 1020.9 680.1 1036.5 680.8 1035.0 680.8 1020.0 681.5 1020.4 681.5 1033.1 682.1 1032.5 682.1 1018.7 682.9 1020.0 682.9 1032.6 683.6 1032.3 683.6 1019.3 684.0 1017.2 684.0 1032.8 685.1 1037.8 685.1 1022.6 685.7 1021.3 685.7 1033.8 686.4 1031.6 686.4 1018.3 687.1 1008.4 687.1 1030.9 687.8 1029.3 687.8 1016.6 688.5 1017.3 688.5 1028.9 689.2 1030.5 689.2 1015.7 689.7 1011.9 689.7 1033.9 690.6 1027.0 690.6 1011.6 691.3 1005.1 691.3 1026.7 692.0 1026.1 692.0 997.9 692.7 999.0 692.7 1024.7 693.4 1023.9 693.4 998.0 694.1 1000.0 694.1 1023.9 694.7 1025.5 694.7 995.8 695.5 1000.8 695.5 1022.5 696.2 1021.2 696.2 998.8 696.9 996.5 696.9 1021.8 697.3 1022.6 697.3 991.5 697.6 994.6 697.6 1021.0 698.3 1020.7 698.3 991.5 699.0 988.9 699.0 1019.2 699.7 1017.2 699.7 986.0 700.3 973.0 700.3 1020.7 701.1 1020.5 701.1 988.4 701.8 990.8 701.8 1020.1 702.3 1023.1 702.3 987.1 703.2 984.5 703.2 1018.7 704.1 1019.9 704.1 978.6 704.6 984.8 704.6 1014.5 705.3 1014.1 705.3 979.7 706.0 971.2 706.0 1011.8 706.4 1012.3 706.4 961.5 707.4 973.4 707.4 1009.2 708.1 1006.9 708.1 974.8 708.7 972.0 708.7 1010.0 709.5 1008.7 709.5 975.4 710.2 976.9 710.2 1008.2 710.9 1007.2 710.9 977.5 711.7 978.4 711.7 1009.3 712.3 1008.0 712.3 978.8 713.0 977.0 713.0 1005.9 714.0 1007.0 714.0 964.6 714.4 970.6 714.4 1006.6 715.1 1007.8 715.1 976.5 715.8 980.0 715.8 1011.7 716.6 1014.4 716.6 977.4 717.2 989.0 717.2 1014.0 717.9 1013.0 717.9 986.7 718.6 985.9 718.6 1012.8 719.3 1013.4 719.3 983.2 720.0 986.3 720.0 1013.6 720.7 1014.5 720.7 987.9 721.4 988.3 721.4 1013.7 721.9 1017.2 721.9 979.1 722.8 999.8 722.8 1019.5 723.5 1025.1 723.5 1002.3 723.9 997.1 723.9 1029.1 724.9 1021.0 724.9 999.8 725.6 999.9 725.6 1021.6 726.3 1022.0 726.3 1002.8 726.9 1001.5 726.9 1022.4 727.7 1020.8 727.7 1004.0 728.4 1003.6 728.4 1020.0 728.8 1021.4 728.8 999.3 729.1 1004.2 729.1 1020.9 729.8 1023.3 729.8 1008.4 730.5 1010.2 730.5 1023.7 731.5 1028.0 731.5 1009.4 731.9 1014.4 731.9 1028.7 732.6 1032.7 732.6 1014.4 733.3 1014.2 733.3 1037.8 733.8 1042.1 733.8 1013.5 734.7 1015.4 734.7 1038.4 735.4 1039.3 735.4 1016.5 736.1 1017.3 736.1 1040.3 736.8 1039.7 736.8 1021.4 737.5 1022.1 737.5 1040.1 737.9 1040.7 737.9 1021.5 738.9 1022.9 738.9 1040.3 739.9 1042.0 739.9 1020.8 740.3 1022.6 740.3 1040.5 741.0 1039.8 741.0 1024.1 741.7 1023.2 741.7 1039.5 742.4 1039.3 742.4 1022.2 742.9 1020.7 742.9 1040.1 743.8 1035.6 743.8 1018.2 744.4 1012.6 744.4 1033.9 745.2 1033.8 745.2 1018.0 745.9 1017.7 745.9 1035.8 746.4 1038.9 746.4 1016.6 747.3 1012.3 747.3 1032.6 748.3 1031.6 748.3 1001.5 748.7 1004.4 748.7 1030.1 749.4 1031.5 749.4 1005.9 750.1 1005.1 750.1 1031.7 750.5 1033.8 750.5 1002.6 751.5 1007.8 751.5 1030.6 752.2 1030.5 752.2 1008.9 752.8 1007.4 752.8 1030.9 753.6 1028.8 753.6 1007.5 754.3 1002.9 754.3 1028.2 754.6 1029.0 754.6 997.3 755.0 999.6 755.0 1026.6 755.7 1023.8 755.7 1003.6 756.4 1002.2 756.4 1023.6 757.4 1023.7 757.4 999.3 757.8 999.7 757.8 1020.0 758.5 1017.2 758.5 992.9 759.2 979.9 759.2 1018.4 759.9 1010.9 759.9 983.8 760.6 982.0 760.6 1013.2 761.3 1012.3 761.3 975.9 761.6 969.1 761.6 1015.0 762.0 1013.9 762.0 974.8 762.7 977.3 762.7 1011.0 763.4 1012.5 763.4 984.0 763.8 977.3 763.8 1019.1 764.1 1012.0 764.1 979.1 764.8 977.0 764.8 1006.6 765.5 1007.2 765.5 974.5 766.5 959.5 766.5 1005.4 766.9 1005.2 766.9 971.9 767.6 971.6 767.6 1003.4 768.3 1004.8 768.3 971.2 768.8 967.1 768.8 1005.4 769.6 1018.0 769.6 972.3 770.4 976.5 770.4 1007.3 771.1 1008.4 771.1 979.0 771.8 982.2 771.8 1007.3 772.6 1007.3 772.6 965.8 773.2 980.3 773.2 1007.8 773.9 1009.5 773.9 985.9 774.9 987.3 774.9 1015.1 775.3 1014.0 775.3 988.3 776.0 988.6 776.0 1012.6 776.7 1014.4 776.7 986.9 777.4 987.2 777.4 1014.1 777.9 1016.5 777.9 986.0 778.8 987.7 778.8 1017.0 779.5 1018.5 779.5 989.5 780.2 991.4 780.2 1020.1 781.0 1023.7 781.0 991.2 781.6 1002.9 781.6 1022.6 782.3 1024.0 782.3 1008.1 783.2 1007.9 783.2 1027.2 783.7 1026.5 783.7 1012.7 784.4 1008.1 784.4 1026.0 785.1 1025.3 785.1 1003.5 785.5 997.1 785.5 1026.6 786.5 1026.1 786.5 1005.1 787.2 1006.4 787.2 1025.8 787.8 1027.1 787.8 1003.6 788.6 1015.5 788.6 1033.0 789.3 1041.0 789.3 1020.3 790.0 1022.4 790.0 1037.4 790.7 1038.2 790.7 1021.9 791.6 1022.8 791.6 1039.5 792.1 1038.8 792.1 1024.3 792.8 1024.7 792.8 1038.1 793.5 1039.3 793.5 1023.9 793.9 1021.9 793.9 1040.9 794.2 1038.9 794.2 1022.4 794.9 1020.6 794.9 1034.8 795.6 1032.9 795.6 1018.1 796.2 1003.9 796.2 1032.4 797.0 1030.3 797.0 1016.8 797.7 1019.3 797.7 1031.7 798.5 1036.4 798.5 1017.2 799.1 1020.0 799.1 1031.5 799.8 1029.3 799.8 1017.2 800.7 1009.2 800.7 1030.7 801.2 1033.5 801.2 1016.1 801.9 1021.8 801.9 1038.2 802.3 1040.4 802.3 1018.9 802.6 1021.4 802.6 1039.8 803.3 1038.8 803.3 1022.1 804.0 1019.6 804.0 1038.8 804.5 1040.9 804.5 1016.0 805.4 1014.0 805.4 1034.0 806.4 1031.7 806.4 1007.5 806.8 1007.7 806.8 1030.8 807.5 1029.8 807.5 1007.4 808.2 1005.2 808.2 1029.4 808.9 1028.8 808.9 1006.7 809.9 993.7 809.9 1029.0 810.3 1027.3 810.3 999.6 811.0 1006.6 811.0 1026.6 811.7 1024.3 811.7 1002.2 812.2 1000.2 812.2 1026.1 813.1 1026.3 813.1 992.3 814.0 983.5 814.0 1031.3 814.5 1028.2 814.5 983.9 815.2 983.4 815.2 1026.8 815.9 1026.1 815.9 982.7 816.6 982.4 816.6 1025.5 817.5 1026.6 817.5 975.8 818.0 982.8 818.0 1024.1 818.7 1020.5 818.7 981.2 819.4 977.8 819.4 1016.5 819.8 1015.5 819.8 972.8 820.1 974.2 820.1 1010.6 820.8 1011.3 820.8 977.8 821.5 974.7 821.5 1009.4 822.2 1009.3 822.2 977.1 822.9 980.1 822.9 1010.0 823.6 1011.5 823.6 962.4 824.3 976.7 824.3 1008.1 825.0 1009.6 825.0 977.1 825.7 978.5 825.7 1009.7 826.6 1014.3 826.6 978.2 827.1 978.5 827.1 1010.1 827.8 1007.3 827.8 978.2 828.5 971.7 828.5 1006.8 828.9 1010.0 828.9 968.7 829.2 969.1 829.2 1006.9 830.0 1010.9 830.0 962.0 830.6 973.9 830.6 1010.1 831.3 1011.4 831.3 964.9 831.8 956.1 831.8 1015.1 832.7 1012.5 832.7 964.3 833.4 970.1 833.4 1013.3 834.1 1014.6 834.1 969.2 834.6 968.8 834.6 1015.8 835.5 1013.0 835.5 981.3 836.2 981.7 836.2 1012.9 836.9 1016.4 836.9 987.1 837.6 981.8 837.6 1017.9 838.3 1018.8 838.3 993.1 839.0 996.2 839.0 1022.9 839.7 1026.4 839.7 998.7 840.3 994.8 840.3 1029.6 841.1 1028.4 841.1 1001.5 841.8 999.7 841.8 1027.3 842.5 1027.2 842.5 999.3 842.9 998.3 842.9 1029.4 843.9 1028.7 843.9 1005.1 844.6 1007.6 844.6 1029.6 845.3 1030.0 845.3 1010.8 846.0 1010.9 846.0 1031.3 846.7 1030.6 846.7 1011.2 847.4 1011.8 847.4 1030.3 848.1 1031.2 848.1 1013.6 849.0 1009.3 849.0 1031.7 849.5 1030.8 849.5 1013.2 850.2 1011.7 850.2 1030.3 850.9 1030.2 850.9 1012.9 851.3 1011.8 851.3 1031.6 851.6 1030.2 851.6 1014.4 852.3 1013.6 852.3 1028.6 853.1 1027.1 853.1 1005.4 853.7 1013.2 853.7 1027.0 854.4 1029.5 854.4 1014.4 855.1 1014.5 855.1 1033.3 855.8 1034.0 855.8 1020.1 856.5 1023.7 856.5 1036.4 857.2 1037.8 857.2 1024.1 858.1 1023.8 858.1 1043.4 858.6 1040.6 858.6 1022.3 859.3 1018.0 859.3 1040.1 859.7 1040.4 859.7 1015.9 860.0 1014.1 860.0 1038.1 860.7 1033.8 860.7 1008.2 861.2 1001.6 861.2 1031.6 862.1 1030.8 862.1 1003.8 862.8 1002.8 862.8 1031.4 863.5 1031.6 863.5 1001.2 864.2 1002.9 864.2 1031.4 864.9 1031.4 864.9 1004.3 865.8 998.9 865.8 1032.7 866.3 1032.2 866.3 1006.1 867.0 1008.9 867.0 1031.9 867.7 1032.6 867.7 1007.6 868.0 1007.3 868.0 1034.5 868.4 1032.8 868.4 1005.6 869.1 1001.7 869.1 1032.2 869.8 1031.9 869.8 998.7 870.3 990.1 870.3 1032.0 871.2 1025.2 871.2 993.3 871.9 990.9 871.9 1019.6 872.6 1015.6 872.6 978.8 873.3 983.8 873.3 1015.4 874.0 1018.1 874.0 981.8 874.9 977.1 874.9 1026.9 875.4 1019.4 875.4 979.1 876.1 980.2 876.1 1017.1 876.8 1015.1 876.8 982.5 877.2 980.1 877.2 1019.2 877.5 1013.9 877.5 981.6 878.2 976.6 878.2 1012.6 878.9 1010.6 878.9 971.6 879.5 965.4 879.5 1008.9 880.3 1000.4 880.3 968.2 881.0 969.4 881.0 998.7 881.7 1003.6 881.7 972.8 882.5 954.7 882.5 1006.3 883.1 1002.1 883.1 967.9 883.8 970.8 883.8 1003.2 884.8 1007.3 884.8 966.9 885.2 971.0 885.2 1005.8 885.9 1007.6 885.9 966.1 886.6 968.5 886.6 1007.0 887.1 1009.1 887.1 963.8 888.0 970.5 888.0 1007.5 888.7 1004.9 888.7 973.8 889.6 954.2 889.6 1009.2 890.1 1008.2 890.1 965.7 890.8 971.7 890.8 1009.4 891.5 1010.5 891.5 975.4 892.4 975.3 892.4 1012.6 892.9 1009.4 892.9 984.4 893.6 984.5 893.6 1012.2 894.3 1015.1 894.3 982.3 895.0 984.4 895.0 1016.7 895.4 1019.4 895.4 984.4 896.4 990.1 896.4 1018.1 897.1 1020.3 897.1 992.6 897.7 990.9 897.7 1022.6 898.5 1020.7 898.5 994.4 899.2 991.1 899.2 1019.4 899.7 1022.4 899.7 981.7 900.8 999.3 900.8 1031.9 901.3 1027.2 901.3 1004.7 902.0 1003.6 902.0 1024.9 902.7 1026.4 902.7 1005.8 903.4 1004.0 903.4 1025.5 903.8 1028.0 903.8 1002.4 904.1 1006.1 904.1 1026.3 904.8 1027.6 904.8 1006.5 905.5 1010.7 905.5 1029.3 906.2 1032.1 906.2 1013.5 906.8 1011.1 906.8 1038.8 907.6 1030.7 907.6 1013.4 908.3 1010.8 908.3 1030.0 909.0 1029.4 909.0 1007.5 909.4 1001.3 909.4 1030.0 910.4 1029.7 910.4 1009.1 911.1 1008.9 911.1 1031.5 911.8 1033.1 911.8 1009.2 912.5 1009.8 912.5 1034.8 912.9 1037.3 912.9 1006.5 913.9 1011.8 913.9 1035.3 914.6 1034.9 914.6 1011.1 915.5 1002.3 915.5 1036.8 916.0 1035.5 916.0 1010.1 916.7 1015.0 916.7 1034.3 917.4 1034.8 917.4 1018.1 918.3 1017.4 918.3 1037.0 918.8 1033.9 918.8 1019.0 919.8 1014.4 919.8 1030.8 920.2 1031.9 920.2 1018.0 920.9 1017.1 920.9 1034.8 921.6 1036.8 921.6 1013.1 922.1 1007.2 922.1 1039.1 923.0 1037.7 923.0 1018.5 924.0 1021.4 924.0 1040.3 924.4 1038.6 924.4 1021.9 925.1 1021.2 925.1 1037.2 925.8 1036.6 925.8 1018.7 926.2 1014.4 926.2 1036.4 926.5 1033.6 926.5 1014.4 927.2 1006.0 927.2 1030.6 928.1 1026.0 928.1 991.0 928.6 993.6 928.6 1024.5 929.3 1021.8 929.3 993.3 930.0 988.1 930.0 1020.3 930.7 1019.6 930.7 985.9 931.2 981.8 931.2 1020.7 932.1 1019.2 932.1 983.1 932.8 983.7 932.8 1018.7 933.5 1018.1 933.5 984.9 934.2 983.0 934.2 1020.1 934.9 1018.3 934.9 983.6 935.6 986.2 935.6 1015.8 936.5 1018.0 936.5 980.2 937.0 977.9 937.0 1013.2 938.0 1007.3 938.0 938.0 938.4 956.7 938.4 1005.7 939.1 1000.9 939.1 977.4 939.8 980.8 939.8 1004.6 940.3 1012.3 940.3 980.0 941.2 974.4 941.2 1005.0 941.9 1003.2 941.9 972.4 942.6 968.1 942.6 1001.4 943.4 1005.2 943.4 949.1 944.0 952.7 944.0 999.7 944.7 991.9 944.7 948.9 945.6 946.0 945.6 997.1 946.1 998.6 946.1 955.3 946.8 968.0 946.8 999.1 947.5 1004.9 947.5 971.2 948.4 977.0 948.4 1010.9 948.9 1008.9 948.9 981.9 949.6 982.1 949.6 1010.2 950.3 1009.7 950.3 979.4 951.0 978.9 951.0 1009.4 951.7 1014.1 951.7 976.8 952.4 982.7 952.4 1012.6 953.1 1015.4 953.1 988.2 953.8 992.4 953.8 1017.1 954.8 1026.9 954.8 991.5 955.2 996.8 955.2 1022.5 955.9 1020.8 955.9 995.9 956.6 996.0 956.6 1022.6 957.3 1023.2 957.3 994.4 958.0 992.8 958.0 1023.5 958.6 1025.9 958.6 987.2 959.4 997.2 959.4 1023.6 960.1 1025.0 960.1 997.4 960.9 996.1 960.9 1026.0 961.5 1026.0 961.5 1005.2 962.2 1007.1 962.2 1026.8 962.9 1027.4 962.9 1010.5 963.6 1012.7 963.6 1032.5 964.3 1029.4 964.3 1014.5 965.0 1013.8 965.0 1029.0 965.7 1028.0 965.7 1012.5 966.2 1008.4 966.2 1029.5 967.1 1029.3 967.1 1010.3 967.8 1009.9 967.8 1028.5 968.5 1029.5 968.5 1010.2 969.2 1009.4 969.2 1029.3 970.0 1030.9 970.0 1007.3 970.6 1011.9 970.6 1030.5 971.3 1030.2 971.3 1014.8 972.0 1019.4 972.0 1030.0 973.0 1037.3 973.0 1015.9 973.4 1016.5 973.4 1033.8 974.1 1030.8 974.1 1016.5 974.8 1016.3 974.8 1029.3 975.3 1030.4 975.3 1012.7 976.2 1014.5 976.2 1028.5 976.9 1028.0 976.9 1014.7 977.6 1011.6 977.6 1027.7 978.4 1028.6 978.4 1009.2 979.0 1011.1 979.0 1026.8 979.7 1026.9 979.7 1008.4 980.4 1006.6 980.4 1026.1 981.1 1027.0 981.1 1006.4 981.8 1005.1 981.8 1025.8 982.2 1027.5 982.2 1000.3 982.5 1002.0 982.5 1025.8 983.2 1024.5 983.2 1002.7 983.9 1000.5 983.9 1025.2 984.4 1027.1 984.4 997.1 985.3 1000.0 985.3 1027.7 986.0 1032.1 986.0 996.2 986.7 997.6 986.7 1026.9 987.4 1025.5 987.4 997.9 988.2 988.8 988.2 1024.9 988.8 1021.9 988.8 987.7 989.5 986.1 989.5 1019.7 990.2 1019.6 990.2 983.7 990.9 981.5 990.9 1018.1 991.3 1019.4 991.3 971.4 991.6 976.0 991.6 1016.0 992.3 1016.4 992.3 976.7 993.0 975.6 993.0 1014.9 993.7 1013.5 993.7 976.7 994.4 976.6 994.4 1013.3 995.1 1014.8 995.1 954.9 995.8 971.9 995.8 1011.1 996.5 1011.7 996.5 976.4 997.4 975.6 997.4 1012.8 997.9 1009.3 997.9 976.5 998.9 967.7 998.9 1016.5 999.3 1009.3 999.3 970.6 1000.0 963.9 1000.0 999.3 1000.7 998.0 1000.7 968.2 1001.4 966.1 1001.4 995.7 1002.1 994.5 1002.1 966.1 1003.0 958.1 1003.0 998.9 1003.5 997.5 1003.5 968.7 1004.2 972.0 1004.2 1000.8 1004.9 1001.8 1004.9 972.3 1005.6 974.8 1005.6 1007.8 1006.1 1016.5 1006.1 972.0 1007.0 972.0 1007.0 1005.5 1007.7 1004.3 1007.7 971.0 1008.4 968.6 1008.4 1004.2 1008.8 1005.5 1008.8 954.4 1009.8 973.9 1009.8 1008.3 1010.5 1009.1 1010.5 972.4 1011.4 969.5 1011.4 1014.9 1011.9 1009.9 1011.9 980.8 1012.6 977.7 1012.6 1012.1 1013.3 1014.6 1013.3 977.0 1014.0 982.9 1014.0 1013.4 1014.5 1014.2 1014.5 980.0 1015.4 988.6 1015.4 1016.0 1016.1 1017.3 1016.1 988.6 1016.8 993.3 1016.8 1021.1 1017.5 1024.5 1017.5 992.4 1018.2 1001.2 1018.2 1023.6 1018.9 1023.0 1018.9 1000.1 1019.6 1003.4 1019.6 1020.7 1020.5 1023.6 1020.5 1001.5 1021.0 1005.6 1021.0 1020.8 1021.7 1023.6 1021.7 1008.1 1022.4 1008.1 1022.4 1025.1 1023.1 1028.0 1023.1 1010.6 1023.6 1009.2 1023.6 1031.3 1024.5 1026.6 1024.5 1007.4 1025.1 999.2 1025.1 1028.1 1025.9 1028.3 1025.9 1007.3 1026.6 1009.5 1026.6 1032.5 1027.1 1037.1 1027.1 1007.4 1028.0 1008.9 1028.0 1030.3 1028.9 1029.9 1028.9 998.0 1029.4 1010.0 1029.4 1028.8 1030.1 1029.1 1030.1 1015.7 1030.8 1019.2 1030.8 1029.5 1031.2 1031.5 1031.2 1020.0 1031.5 1021.4 1031.5 1030.1 1032.2 1030.0 1032.2 1020.3 1032.9 1020.2 1032.9 1031.5 1033.5 1034.1 1033.5 1019.4 1034.3 1018.0 1034.3 1031.1 1035.0 1031.1 1035.0 1016.2 1035.7 1013.5 1035.7 1031.0 1036.5 1031.6 1036.5 1009.3 1037.1 1012.3 1037.1 1029.8 1037.8 1027.4 1037.8 1012.5 1038.8 1006.7 1038.8 1027.0 1039.2 1025.3 1039.2 1009.3 1039.9 1009.6 1039.9 1026.8 1040.6 1028.0 1040.6 1012.3 1041.3 1010.0 1041.3 1027.8 1041.8 1032.1 1041.8 1007.5 1042.7 1009.0 1042.7 1029.0 1043.4 1027.9 1043.4 1006.4 1044.1 1008.0 1044.1 1028.7 1044.9 1029.6 1044.9 1004.4 1045.5 999.5 1045.5 1028.5 1046.4 1027.9 1046.4 985.7 1046.9 990.0 1046.9 1024.9 1047.6 1024.1 1047.6 990.8 1048.3 988.1 1048.3 1023.8 1049.0 1023.6 1049.0 990.1 1049.5 983.2 1049.5 1023.2 1050.4 1019.1 1050.4 982.9 1051.1 978.5 1051.1 1017.3 1051.8 1014.7 1051.8 970.1 1052.5 963.7 1052.5 1015.9 1053.2 1013.0 1053.2 968.2 1053.9 968.0 1053.9 1012.1 1054.6 1012.8 1054.6 967.5 1055.5 965.3 1055.5 1014.2 1056.0 1011.4 1056.0 967.7 1056.7 972.1 1056.7 1013.1 1057.4 1011.9 1057.4 968.9 1058.1 964.6 1058.1 1009.2 1058.6 1013.3 1058.6 956.5 1059.5 967.1 1059.5 1007.9 1060.2 1008.7 1060.2 969.4 1060.9 964.2 1060.9 1015.1 1061.6 1003.3 1061.6 970.7 1062.3 964.4 1062.3 999.3 1063.1 994.5 1063.1 960.2 1063.7 964.7 1063.7 995.9 1064.4 998.6 1064.4 967.6 1065.1 970.6 1065.1 1000.6 1065.8 1002.8 1065.8 961.1 1066.2 956.6 1066.2 1007.3 1066.5 1005.0 1066.5 962.6 1067.2 973.3 1067.2 1006.6 1067.9 1008.0 1067.9 980.5 1068.5 976.8 1068.5 1012.5 1069.3 1012.7 1069.3 979.0 1070.0 982.7 1070.0 1016.4 1070.7 1018.4 1070.7 982.2 1071.5 981.9 1071.5 1023.1 1072.1 1022.5 1072.1 995.4 1073.0 994.3 1073.0 1029.1 1073.5 1025.6 1073.5 1001.9 1074.2 1000.6 1074.2 1023.9 1074.9 1023.3 1074.9 1002.1 1075.6 999.6 1075.6 1023.1 1076.3 1023.0 1076.3 995.1 1076.8 985.8 1076.8 1024.8 1077.7 1023.9 1077.7 997.1 1078.4 1000.1 1078.4 1025.1 1079.1 1026.0 1079.1 1000.5 1079.9 999.4 1079.9 1029.9 1080.5 1027.4 1080.5 1000.4 1081.2 1002.5 1081.2 1026.9 1081.9 1026.8 1081.9 1000.9 1082.9 1000.4 1082.9 1027.1 1083.3 1026.5 1083.3 1004.9 1084.0 1006.6 1084.0 1028.2 1084.7 1030.7 1084.7 1007.0 1085.2 1007.4 1085.2 1033.6 1086.1 1032.8 1086.1 1012.6 1086.8 1015.7 1086.8 1032.1 1087.5 1033.9 1087.5 1014.4 1088.2 1017.6 1088.2 1032.9 1089.0 1039.9 1089.0 1017.2 1089.6 1016.7 1089.6 1034.9 1090.3 1032.1 1090.3 1016.4 1091.3 1001.7 1091.3 1030.0 1091.7 1029.5 1091.7 1011.6 1092.4 1013.6 1092.4 1029.9 1093.1 1030.6 1093.1 1011.1 1093.6 1006.7 1093.6 1032.1 1094.5 1030.2 1094.5 1013.3 1095.2 1014.5 1095.2 1029.9 1095.9 1030.0 1095.9 1017.1 1096.6 1016.1 1096.6 1030.8 1097.3 1028.0 1097.3 1018.8 1098.0 1016.1 1098.0 1028.5 1098.7 1027.1 1098.7 1014.3 1099.7 1008.6 1099.7 1027.0 1100.1 1025.0 1100.1 1007.9 1100.8 1002.3 1100.8 1025.2 1101.2 1026.1 1101.2 993.2 1101.5 997.9 1101.5 1025.7 1102.2 1025.1 1102.2 1003.9 1102.9 1003.3 1102.9 1024.7 1103.6 1025.9 1103.6 1002.1 1104.2 1000.4 1104.2 1029.8 1105.0 1022.2 1105.0 1002.5 1105.7 1000.3 1105.7 1022.6 1106.5 1022.7 1106.5 994.9 1107.1 993.0 1107.1 1021.6 1107.8 1023.5 1107.8 985.4 1108.3 969.5 1108.3 1026.0 1109.2 1019.8 1109.2 985.6 1109.9 985.0 1109.9 1017.0 1110.6 1014.6 1110.6 978.5 1111.1 972.8 1111.1 1016.3 1112.0 1012.2 1112.0 975.5 1112.7 974.2 1112.7 1010.9 1113.4 1006.9 1113.4 973.7 1113.8 960.0 1113.8 1007.3 1114.8 1002.1 1114.8 972.9 1115.5 976.3 1115.5 1002.6 1116.4 1009.9 1116.4 970.8 1116.9 970.6 1116.9 1006.1 1117.6 1003.1 1117.6 968.0 1118.3 964.5 1118.3 1003.5 1118.7 1005.1 1118.7 955.9 1119.0 961.7 1119.0 1001.3 1119.7 1004.5 1119.7 972.2 1120.4 969.7 1120.4 1007.4 1121.1 1009.2 1121.1 971.3 1121.7 970.3 1121.7 1016.4 1122.5 1008.8 1122.5 978.0 1123.2 974.6 1123.2 1009.3 1123.9 1010.8 1123.9 978.5 1124.8 973.9 1124.8 1012.7 1125.3 1010.7 1125.3 974.8 1126.0 975.4 1126.0 1009.0 1126.7 1006.0 1126.7 980.5 1127.4 976.3 1127.4 1006.0 1127.8 1005.5 1127.8 972.3 1128.8 982.1 1128.8 1006.4 1129.5 1011.0 1129.5 985.6 1130.1 984.7 1130.1 1018.6 1130.9 1012.0 1130.9 992.5 1131.6 991.7 1131.6 1014.7 1132.3 1015.2 1132.3 993.4 1133.1 993.5 1133.1 1017.4 1133.7 1019.6 1133.7 999.2 1134.4 1002.8 1134.4 1022.9 1135.4 1028.0 1135.4 1007.5 1135.8 1011.0 1135.8 1027.7 1136.5 1029.8 1136.5 1010.0 1137.2 1013.4 1137.2 1032.2 1137.7 1033.8 1137.7 1007.6 1138.6 1011.6 1138.6 1033.8 1139.3 1034.8 1139.3 1012.2 1139.7 1011.1 1139.7 1035.7 1140.0 1034.8 1140.0 1015.4 1140.7 1011.9 1140.7 1033.9 1141.4 1033.9 1141.4 1012.3 1142.3 1011.1 1142.3 1034.0 1142.8 1034.4 1142.8 1014.8 1143.7 1016.7 1143.7 1035.6"/>
<rect x="654.5" y="932.5" width="513.0" height="118.0" fill="none" stroke="#000" stroke-width="0.9"/>
<path d="M677.5 1050.5v4.3M788.5 1050.5v4.3M899.5 1050.5v4.3M1010.5 1050.5v4.3M1121.5 1050.5v4.3M654.5 1047.5h-4.3M654.5 1009.5h-4.3M654.5 971.5h-4.3M654.5 933.5h-4.3" stroke="#000" stroke-width="0.9" fill="none"/>
<rect x="660.50" y="938.50" width="190.00" height="19" rx="2.2" fill="#fff" fill-opacity="0.8" stroke="#ccc" stroke-opacity="0.8" stroke-width="1.1"/>
<path d="M664.94 946.10h22.22" stroke="#00ffff" stroke-width="1.67" stroke-linecap="square" fill="none"/>
</g>
<g>
<path class="d" stroke="#0000ff" d="M83.3 1198.3 83.3 1189.2 84.0 1167.8 84.0 1207.3 84.7 1214.4 84.7 1188.4 85.5 1192.5 85.5 1224.1 86.1 1224.2 86.1 1195.5 87.1 1198.3 87.1 1232.5 87.5 1227.3 87.5 1199.4 88.2 1201.1 88.2 1224.8 89.0 1228.3 89.0 1200.0 89.6 1201.2 89.6 1221.6 90.3 1219.0 90.3 1198.9 91.2 1186.2 91.2 1215.1 91.7 1215.6 91.7 1196.2 92.4 1206.2 92.4 1216.9 93.1 1229.9 93.1 1204.7 93.8 1205.4 93.8 1221.6 94.5 1220.7 94.5 1204.0 95.2 1202.4 95.2 1222.1 95.9 1224.2 95.9 1195.6 96.6 1200.8 96.6 1228.8 97.3 1235.2 97.3 1203.4 97.7 1200.1 97.7 1239.4 98.7 1236.3 98.7 1207.0 99.4 1209.0 99.4 1235.7 100.3 1242.2 100.3 1209.1 100.8 1210.6 100.8 1239.1 101.5 1240.6 101.5 1211.4 102.2 1211.8 102.2 1241.2 102.7 1244.0 102.7 1206.2 103.6 1215.5 103.6 1239.0 104.3 1238.3 104.3 1217.3 104.9 1216.5 104.9 1243.8 105.7 1242.9 105.7 1217.5 106.4 1214.7 106.4 1243.8 106.8 1246.9 106.8 1211.3 107.8 1216.9 107.8 1240.2 108.5 1239.7 108.5 1215.7 109.2 1217.3 109.2 1241.4 109.9 1241.7 109.9 1215.1 110.6 1220.8 110.6 1242.3 111.3 1243.9 111.3 1222.5 112.0 1225.0 112.0 1244.9 112.5 1247.0 112.5 1222.7 113.4 1224.3 113.4 1243.8 114.1 1245.3 114.1 1225.6 114.8 1224.9 114.8 1245.7 115.5 1243.5 115.5 1221.7 116.0 1219.9 116.0 1247.7 116.9 1243.7 116.9 1220.5 117.6 1220.1 117.6 1245.0 118.3 1248.5 118.3 1219.6 119.0 1220.1 119.0 1247.0 119.7 1246.5 119.7 1221.7 120.4 1220.5 120.4 1246.5 121.3 1250.9 121.3 1214.6 121.8 1221.8 121.8 1248.3 122.5 1244.9 122.5 1220.3 123.2 1217.7 123.2 1243.8 123.6 1245.5 123.6 1217.4 123.9 1220.0 123.9 1243.1 124.6 1239.4 124.6 1220.4 125.3 1217.4 125.3 1239.9 125.9 1240.1 125.9 1210.6 126.7 1215.4 126.7 1237.7 127.4 1239.7 127.4 1217.0 128.1 1213.8 128.1 1240.9 128.8 1234.1 128.8 1212.3 129.5 1206.9 129.5 1231.1 130.1 1228.8 130.1 1202.2 130.9 1203.6 130.9 1225.3 131.6 1229.8 131.6 1203.7 132.3 1200.2 132.3 1233.1 133.0 1226.7 133.0 1207.5 133.7 1210.2 133.7 1227.2 134.2 1228.7 134.2 1209.0 135.1 1207.8 135.1 1225.6 135.8 1227.3 135.8 1208.2 136.5 1205.9 136.5 1228.8 137.2 1224.3 137.2 1206.6 138.0 1203.2 138.0 1227.1 138.6 1224.8 138.6 1204.1 139.6 1183.3 139.6 1229.6 140.0 1225.1 140.0 1192.0 140.7 1194.4 140.7 1221.6 141.4 1220.7 141.4 1192.1 141.8 1189.2 141.8 1221.1 142.8 1212.3 142.8 1189.2 143.8 1185.5 143.8 1211.8 144.2 1211.7 144.2 1187.3 144.9 1186.3 144.9 1216.0 145.6 1220.1 145.6 1177.4 145.9 1169.9 145.9 1222.1 146.3 1221.4 146.3 1181.5 147.0 1195.1 147.0 1219.1 147.9 1221.2 147.9 1195.5 148.4 1197.7 148.4 1221.6 149.1 1223.3 149.1 1194.7 149.4 1190.8 149.4 1226.3 149.8 1224.0 149.8 1193.9 150.5 1197.8 150.5 1230.1 151.0 1237.6 151.0 1198.3 151.9 1193.5 151.9 1222.0 152.5 1221.1 152.5 1184.6 153.3 1199.3 153.3 1223.5 154.0 1227.8 154.0 1201.4 154.8 1201.5 154.8 1243.3 155.4 1232.7 155.4 1204.6 156.1 1204.4 156.1 1233.6 157.1 1234.9 157.1 1202.8 157.5 1206.7 157.5 1232.9 158.2 1232.0 158.2 1205.9 158.9 1204.6 158.9 1233.9 159.6 1234.7 159.6 1205.3 160.1 1202.8 160.1 1241.6 161.0 1233.9 161.0 1206.3 161.7 1210.1 161.7 1233.9 162.4 1234.4 162.4 1209.1 163.1 1209.7 163.1 1236.4 163.8 1237.3 163.8 1212.1 164.5 1213.2 164.5 1238.6 165.2 1241.2 165.2 1215.6 166.2 1216.3 166.2 1251.0 166.6 1246.0 166.6 1221.0 167.3 1220.8 167.3 1242.8 168.0 1243.6 168.0 1217.5 168.7 1216.5 168.7 1244.5 169.2 1247.7 169.2 1212.9 170.1 1218.9 170.1 1249.2 170.8 1250.4 170.8 1219.7 171.5 1219.9 171.5 1252.9 172.2 1248.8 172.2 1224.8 172.9 1220.6 172.9 1253.1 173.3 1256.0 173.3 1218.3 174.3 1221.8 174.3 1245.9 175.0 1243.9 175.0 1224.0 175.7 1222.8 175.7 1242.4 176.1 1241.9 176.1 1221.4 176.4 1223.6 176.4 1240.9 177.1 1239.7 177.1 1222.5 177.8 1222.7 177.8 1239.8 178.8 1248.6 178.8 1218.2 179.2 1219.5 179.2 1242.8 179.9 1238.7 179.9 1218.2 180.6 1215.8 180.6 1237.0 181.4 1236.4 181.4 1210.6 182.0 1213.6 182.0 1235.9 182.7 1236.5 182.7 1216.1 183.4 1215.7 183.4 1235.6 184.1 1240.1 184.1 1213.9 184.4 1212.8 184.4 1244.1 184.8 1239.5 184.8 1214.3 185.5 1211.8 185.5 1236.1 186.2 1234.6 186.2 1210.0 186.7 1204.9 186.7 1236.2 187.6 1230.6 187.6 1209.3 188.3 1206.2 188.3 1231.4 189.0 1233.4 189.0 1202.9 189.7 1206.3 189.7 1232.7 190.5 1233.3 190.5 1203.2 191.1 1207.9 191.1 1230.8 191.8 1229.0 191.8 1211.1 192.8 1207.7 192.8 1238.0 193.2 1229.9 193.2 1207.0 193.9 1199.4 193.9 1220.4 194.6 1214.9 194.6 1181.7 195.3 1195.5 195.3 1213.5 196.0 1213.5 196.0 1195.0 196.6 1192.5 196.6 1215.0 197.4 1213.7 197.4 1190.9 198.1 1187.0 198.1 1221.2 198.8 1214.4 198.8 1186.3 199.7 1178.3 199.7 1212.0 200.2 1214.9 200.2 1186.7 201.2 1191.3 201.2 1226.3 201.6 1219.6 201.6 1193.6 202.3 1193.3 202.3 1221.9 203.0 1222.5 203.0 1194.8 203.5 1193.9 203.5 1225.7 204.4 1217.4 204.4 1193.7 205.0 1189.5 205.0 1215.0 205.8 1213.0 205.8 1192.8 206.5 1191.9 206.5 1212.6 207.3 1226.3 207.3 1191.7 207.9 1194.2 207.9 1214.0 208.8 1213.5 208.8 1179.7 209.3 1187.2 209.3 1212.8 210.0 1216.5 210.0 1189.3 210.7 1190.8 210.7 1224.1 211.1 1231.8 211.1 1187.3 211.4 1190.6 211.4 1227.1 212.1 1224.3 212.1 1192.8 212.8 1194.2 212.8 1225.8 213.4 1230.2 213.4 1194.6 214.2 1201.1 214.2 1232.1 214.9 1235.7 214.9 1205.2 215.3 1204.4 215.3 1241.8 216.3 1235.1 216.3 1205.7 217.2 1206.0 217.2 1237.2 217.7 1236.4 217.7 1209.5 218.4 1206.8 218.4 1236.2 219.1 1234.8 219.1 1208.1 219.4 1204.4 219.4 1239.1 219.8 1236.0 219.8 1208.3 220.5 1208.3 220.5 1238.3 221.2 1239.9 221.2 1209.9 221.9 1210.3 221.9 1238.6 222.5 1242.3 222.5 1209.2 223.3 1214.8 223.3 1243.5 224.0 1248.0 224.0 1216.4 224.8 1216.9 224.8 1270.5 225.4 1251.9 225.4 1222.3 226.3 1220.0 226.3 1245.3 226.8 1241.9 226.8 1222.2 227.5 1222.1 227.5 1240.8 228.2 1244.5 228.2 1221.6 228.6 1217.5 228.6 1247.0 228.9 1244.3 228.9 1223.5 229.6 1222.4 229.6 1243.6 230.3 1244.5 230.3 1222.6 230.8 1222.6 230.8 1248.4 231.7 1241.9 231.7 1224.3 232.4 1223.3 232.4 1243.1 233.1 1241.8 233.1 1223.2 233.9 1219.7 233.9 1242.2 234.5 1244.6 234.5 1220.1 235.0 1218.2 235.0 1248.4 235.9 1246.4 235.9 1218.9 236.6 1219.3 236.6 1247.0 237.3 1249.7 237.3 1220.1 237.7 1216.7 237.7 1255.5 238.7 1246.2 238.7 1218.3 239.4 1216.1 239.4 1245.3 240.3 1248.6 240.3 1214.0 240.8 1215.7 240.8 1246.1 241.5 1242.8 241.5 1214.0 242.2 1213.2 242.2 1241.6 242.9 1238.2 242.9 1213.2 243.4 1212.1 243.4 1240.0 244.3 1237.0 244.3 1211.6 245.0 1210.7 245.0 1236.7 245.7 1231.7 245.7 1207.9 246.4 1196.8 246.4 1234.4 247.1 1230.9 247.1 1206.1 247.8 1207.4 247.8 1232.2 248.7 1233.4 248.7 1205.9 249.2 1205.2 249.2 1229.2 249.9 1225.5 249.9 1202.5 250.7 1193.0 250.7 1222.7 251.3 1222.3 251.3 1198.8 252.0 1200.4 252.0 1223.6 252.7 1225.8 252.7 1200.1 253.3 1198.4 253.3 1228.7 254.1 1227.5 254.1 1202.5 254.8 1204.4 254.8 1227.2 255.5 1231.6 255.5 1204.2 256.0 1203.0 256.0 1238.4 256.9 1226.5 256.9 1206.3 257.6 1207.9 257.6 1224.4 258.6 1227.8 258.6 1206.2 259.0 1205.0 259.0 1225.8 259.7 1224.0 259.7 1203.2 260.4 1199.1 260.4 1221.9 261.2 1220.5 261.2 1193.2 261.8 1189.1 261.8 1218.1 262.7 1220.3 262.7 1174.5 263.2 1176.0 263.2 1212.2 264.2 1203.0 264.2 1164.8 264.6 1171.2 264.6 1206.6 265.4 1218.0 265.4 1175.7 266.0 1184.9 266.0 1216.6 266.7 1218.5 266.7 1193.0 267.3 1196.0 267.3 1222.6 268.1 1223.6 268.1 1197.7 268.8 1198.4 268.8 1227.0 269.5 1230.4 269.5 1198.0 270.0 1196.3 270.0 1236.2 270.9 1235.4 270.9 1200.6 271.6 1202.3 271.6 1233.7 272.3 1234.8 272.3 1204.0 273.0 1203.3 273.0 1238.5 273.7 1236.9 273.7 1206.1 274.4 1207.9 274.4 1237.8 275.3 1241.0 275.3 1203.6 275.8 1210.4 275.8 1239.9 276.5 1242.1 276.5 1214.1 277.2 1218.9 277.2 1245.0 277.6 1250.0 277.6 1216.8 278.6 1219.6 278.6 1242.9 279.3 1241.9 279.3 1215.2 279.9 1204.7 279.9 1246.9 280.7 1244.7 280.7 1216.0 281.4 1217.5 281.4 1243.8 282.2 1249.2 282.2 1216.9 282.8 1219.2 282.8 1243.7 283.5 1244.5 283.5 1217.3 284.5 1214.5 284.5 1245.5 284.9 1245.1 284.9 1218.2 285.6 1218.5 285.6 1247.4 286.3 1249.9 286.3 1218.0 287.0 1220.0 287.0 1250.5 287.5 1253.3 287.5 1218.1 288.4 1219.7 288.4 1250.6 289.1 1249.1 289.1 1220.0 289.8 1219.8 289.8 1249.6 290.5 1250.1 290.5 1218.1 291.0 1213.8 291.0 1253.7 291.9 1250.9 291.9 1220.4 292.6 1220.8 292.6 1251.4 293.6 1253.0 293.6 1218.1 294.0 1220.2 294.0 1250.6 294.7 1247.3 294.7 1219.4 295.4 1223.1 295.4 1252.7 295.9 1255.7 295.9 1219.7 296.8 1219.0 296.8 1246.7 297.5 1247.8 297.5 1217.9 298.1 1213.7 298.1 1247.2 298.9 1242.5 298.9 1214.9 299.6 1213.7 299.6 1243.4 300.3 1243.4 300.3 1213.7 301.2 1210.4 301.2 1245.5 301.7 1243.7 301.7 1214.1 302.4 1212.1 302.4 1243.2 303.1 1242.3 303.1 1211.1 303.8 1212.9 303.8 1242.8 304.5 1241.7 304.5 1210.8 305.0 1209.9 305.0 1242.9 305.9 1235.7 305.9 1207.0 306.6 1202.5 306.6 1231.9 307.3 1232.9 307.3 1197.7 308.0 1200.6 308.0 1228.2 308.7 1227.1 308.7 1201.0 309.6 1197.1 309.6 1228.6 310.1 1225.9 310.1 1200.6 310.8 1202.0 310.8 1224.0 311.5 1226.1 311.5 1203.7 311.8 1201.6 311.8 1227.9 312.2 1224.9 312.2 1202.0 312.9 1194.6 312.9 1222.6 313.4 1222.6 313.4 1187.3 314.3 1200.8 314.3 1220.4 315.0 1224.5 315.0 1202.4 315.6 1201.5 315.6 1233.4 316.4 1219.1 316.4 1200.3 317.1 1198.5 317.1 1216.9 317.8 1216.0 317.8 1196.2 318.4 1194.5 318.4 1216.4 319.2 1213.3 319.2 1197.1 319.9 1194.4 319.9 1213.6 320.6 1221.9 320.6 1193.6 321.0 1193.0 321.0 1231.5 321.3 1221.6 321.3 1194.4 322.0 1194.4 322.0 1213.3 322.7 1211.7 322.7 1194.2 323.4 1195.1 323.4 1212.1 324.0 1212.1 324.0 1193.7 324.8 1196.4 324.8 1209.4 325.5 1210.7 325.5 1199.6 326.3 1199.8 326.3 1210.7 326.9 1222.5 326.9 1196.5 327.4 1190.2 327.4 1233.2 328.3 1217.2 328.3 1191.0 329.0 1191.9 329.0 1214.4 329.6 1217.7 329.6 1189.7 330.4 1195.2 330.4 1219.2 331.1 1224.2 331.1 1197.1 331.8 1200.7 331.8 1229.4 332.4 1236.2 332.4 1202.9 333.2 1207.7 333.2 1235.3 333.9 1237.7 333.9 1210.2 334.7 1210.8 334.7 1243.1 335.3 1240.1 335.3 1214.1 336.0 1214.4 336.0 1240.8 336.7 1242.3 336.7 1215.7 337.7 1212.3 337.7 1247.6 338.1 1242.7 338.1 1217.0 338.8 1216.3 338.8 1240.6 339.5 1241.0 339.5 1216.7 340.2 1217.1 340.2 1241.8 340.7 1243.9 340.7 1215.2 341.6 1219.2 341.6 1243.6 342.3 1244.2 342.3 1221.5 343.0 1222.1 343.0 1245.9 343.8 1255.4 343.8 1219.7 344.4 1220.8 344.4 1247.1 345.1 1241.4 345.1 1222.5 346.1 1216.0 346.1 1243.9 346.5 1241.6 346.5 1220.3 347.2 1221.6 347.2 1242.9 347.9 1244.5 347.9 1222.1 348.6 1223.3 348.6 1244.3 349.3 1248.0 349.3 1224.4 349.9 1222.9 349.9 1257.8 350.7 1246.5 350.7 1226.6 351.4 1224.0 351.4 1245.2 352.1 1242.8 352.1 1224.2 352.9 1215.9 352.9 1244.0 353.5 1242.6 353.5 1220.4 354.2 1221.2 354.2 1241.3 354.9 1240.5 354.9 1222.6 355.6 1223.0 355.6 1240.4 356.3 1243.5 356.3 1223.9 356.7 1221.3 356.7 1247.1 357.7 1237.2 357.7 1217.1 358.4 1214.6 358.4 1233.5 359.0 1234.7 359.0 1209.0 359.8 1208.4 359.8 1231.7 360.5 1231.2 360.5 1205.5 361.0 1203.4 361.0 1233.3 361.9 1231.5 361.9 1204.7 362.6 1204.4 362.6 1232.0 363.3 1230.8 363.3 1203.2 364.3 1201.0 364.3 1242.3 364.7 1236.4 364.7 1202.7 365.4 1202.5 365.4 1230.7 366.1 1231.6 366.1 1201.0 366.8 1200.0 366.8 1229.4 367.4 1230.3 367.4 1199.8 368.2 1200.4 368.2 1225.3 368.9 1218.9 368.9 1200.1 369.7 1191.3 369.7 1218.8 370.3 1215.9 370.3 1198.6 371.0 1200.3 371.0 1216.8 371.9 1219.5 371.9 1199.9 372.4 1203.5 372.4 1218.4 373.1 1220.9 373.1 1201.8 373.8 1203.8 373.8 1227.3 374.2 1231.2 374.2 1199.8 375.2 1200.6 375.2 1225.9 375.9 1227.8 375.9 1201.0 376.5 1199.9 376.5 1228.9 377.3 1222.8 377.3 1200.6 378.0 1200.2 378.0 1223.3 378.8 1224.0 378.8 1192.2 379.4 1201.4 379.4 1223.4 380.1 1223.8 380.1 1203.4 381.1 1204.4 381.1 1233.3 381.5 1230.2 381.5 1206.2 382.2 1204.0 382.2 1227.3 382.9 1226.6 382.9 1203.7 383.4 1201.6 383.4 1228.7 384.3 1229.2 384.3 1204.8 385.0 1206.6 385.0 1228.6 385.7 1229.6 385.7 1205.2 386.1 1199.6 386.1 1231.8 386.4 1230.8 386.4 1207.2 387.1 1208.1 387.1 1230.4 387.8 1233.2 387.8 1207.2 388.5 1207.1 388.5 1235.2 389.4 1242.5 389.4 1204.5 389.9 1207.1 389.9 1236.5 390.6 1234.1 390.6 1205.1 391.3 1204.2 391.3 1232.9 392.2 1237.2 392.2 1199.6 392.7 1202.9 392.7 1236.0 393.4 1236.9 393.4 1206.2 394.1 1207.6 394.1 1237.2 394.8 1239.3 394.8 1204.6 395.5 1208.7 395.5 1239.0 396.2 1239.5 396.2 1211.1 396.9 1210.8 396.9 1242.8 397.8 1248.2 397.8 1211.7 398.3 1216.6 398.3 1244.9 399.0 1245.3 399.0 1217.9 399.7 1215.5 399.7 1244.9 400.4 1246.6 400.4 1217.0 400.8 1215.9 400.8 1251.3 401.8 1243.8 401.8 1219.2 402.5 1219.4 402.5 1242.9 403.2 1244.6 403.2 1219.5 403.9 1217.3 403.9 1245.6 404.6 1248.5 404.6 1218.7 405.0 1217.4 405.0 1251.6 405.3 1250.6 405.3 1220.1 406.0 1220.8 406.0 1249.5 406.7 1251.1 406.7 1223.8 407.3 1222.8 407.3 1254.5 408.1 1248.7 408.1 1224.5 408.8 1225.9 408.8 1249.3 409.5 1249.2 409.5 1225.7 410.3 1222.9 410.3 1250.2 410.9 1245.5 410.9 1226.7 411.6 1224.2 411.6 1241.7 412.6 1236.9 412.6 1216.9 413.0 1222.6 413.0 1234.2 413.7 1235.3 413.7 1223.5 414.4 1222.8 414.4 1234.4 414.9 1243.7 414.9 1219.7 415.8 1219.3 415.8 1238.8 416.5 1240.2 416.5 1219.4 417.2 1217.3 417.2 1240.0 417.9 1241.6 417.9 1212.8 418.6 1215.3 418.6 1240.6 419.3 1241.9 419.3 1215.7 420.2 1214.2 420.2 1242.4 420.7 1239.0 420.7 1215.7 421.4 1212.6 421.4 1237.8 422.1 1237.7 422.1 1211.4 422.8 1209.5 422.8 1234.5 423.3 1237.2 423.3 1206.0 424.2 1212.9 424.2 1233.1 424.9 1231.0 424.9 1211.8 425.5 1208.3 425.5 1231.8 426.3 1228.9 426.3 1208.6 427.0 1206.4 427.0 1227.3 427.8 1225.7 427.8 1200.7 428.4 1200.7 428.4 1222.1 429.1 1219.9 429.1 1198.5 430.1 1195.7 430.1 1227.0 430.5 1222.8 430.5 1197.0 431.2 1197.6 431.2 1219.4 431.9 1220.8 431.9 1197.1 432.7 1192.0 432.7 1221.2 433.3 1222.2 433.3 1199.3 434.0 1201.5 434.0 1225.5 434.7 1234.1 434.7 1200.7 435.4 1203.7 435.4 1225.3 436.1 1225.1 436.1 1202.5 437.0 1199.9 437.0 1226.5 437.5 1223.3 437.5 1201.1 438.2 1199.1 438.2 1222.9 438.9 1221.7 438.9 1196.0 439.2 1191.8 439.2 1224.7 439.6 1221.3 439.6 1195.4 440.3 1198.0 440.3 1221.3 441.0 1223.6 441.0 1199.4 441.7 1199.7 441.7 1225.0 442.3 1225.7 442.3 1197.2 443.1 1198.4 443.1 1225.0 443.8 1224.1 443.8 1199.8 444.5 1202.8 444.5 1224.4 445.3 1226.4 445.3 1199.5 445.9 1200.9 445.9 1228.4 446.8 1236.5 446.8 1200.7 447.3 1201.3 447.3 1235.9 448.0 1236.8 448.0 1202.2 448.7 1201.0 448.7 1236.7 449.1 1237.9 449.1 1196.3 450.1 1202.1 450.1 1236.9 450.8 1237.8 450.8 1203.8 451.4 1202.9 451.4 1240.7 452.2 1239.4 452.2 1206.4 452.9 1206.5 452.9 1241.6 453.7 1246.2 453.7 1206.2 454.3 1208.3 454.3 1240.1 455.0 1238.9 455.0 1211.8 456.0 1208.0 456.0 1242.5 456.4 1240.5 456.4 1213.5 457.1 1212.8 457.1 1240.3 457.8 1241.3 457.8 1212.3 458.5 1215.3 458.5 1244.0 459.0 1250.1 459.0 1212.9 459.9 1216.5 459.9 1243.9 460.6 1243.4 460.6 1219.6 461.3 1219.0 461.3 1242.5 462.1 1245.5 462.1 1216.7 462.7 1219.6 462.7 1251.5 463.1 1257.3 463.1 1217.3 464.1 1220.2 464.1 1251.7 464.8 1251.5 464.8 1221.0 465.5 1221.0 465.5 1251.6 465.9 1254.6 465.9 1219.7 466.2 1220.8 466.2 1250.2 466.9 1251.9 466.9 1221.6 467.6 1220.2 467.6 1251.9 468.1 1255.0 468.1 1219.5 469.0 1221.8 469.0 1251.2 469.7 1250.4 469.7 1221.4 470.4 1222.6 470.4 1250.0 471.2 1253.0 471.2 1218.4 471.8 1221.2 471.8 1249.5 472.5 1247.1 472.5 1218.9 473.5 1214.3 473.5 1245.2 473.9 1240.9 473.9 1216.1 474.6 1215.9 474.6 1239.3 475.3 1237.8 475.3 1216.2 475.8 1214.5 475.8 1236.3 476.7 1234.0 476.7 1209.6 477.3 1203.1 477.3 1237.4 478.1 1229.2 478.1 1206.1 478.8 1204.3 478.8 1228.3 479.6 1227.2 479.6 1201.4 480.2 1201.6 480.2 1223.7 480.9 1226.0 480.9 1201.0 481.6 1200.8 481.6 1227.5 482.6 1229.8 482.6 1199.9 483.0 1203.2 483.0 1226.1 483.7 1225.5 483.7 1202.5 484.4 1202.7 484.4 1228.5 484.9 1233.0 484.9 1199.8 485.8 1202.1 485.8 1227.7 486.5 1227.1 486.5 1202.9 487.2 1200.5 487.2 1225.6 487.9 1225.7 487.9 1194.8 488.6 1199.8 488.6 1223.5 489.3 1223.3 489.3 1201.1 490.0 1200.5 490.0 1222.5 491.0 1224.7 491.0 1199.9 491.4 1199.0 491.4 1222.1 492.1 1221.1 492.1 1198.3 492.8 1196.1 492.8 1224.4 493.3 1226.5 493.3 1192.4 494.2 1193.9 494.2 1223.8 495.1 1225.8 495.1 1178.6 495.6 1192.5 495.6 1226.2 496.3 1226.9 496.3 1200.3 497.1 1204.5 497.1 1228.8 497.7 1227.2 497.7 1204.4 498.4 1203.0 498.4 1228.3 499.3 1229.5 499.3 1196.3 499.8 1202.7 499.8 1227.6 500.5 1226.4 500.5 1200.2 501.2 1199.0 501.2 1227.1 501.9 1226.4 501.9 1200.3 502.4 1197.7 502.4 1228.1 503.3 1226.2 503.3 1200.5 504.0 1200.5 504.0 1223.9 504.7 1224.2 504.7 1199.1 505.4 1202.2 505.4 1223.9 506.1 1228.7 506.1 1204.2 506.6 1202.9 506.6 1239.4 507.5 1230.1 507.5 1205.8 508.2 1206.2 508.2 1227.8 509.2 1232.0 509.2 1203.8 509.6 1207.5 509.6 1231.7 510.3 1231.3 510.3 1207.3 511.0 1206.7 511.0 1237.4 511.5 1239.5 511.5 1206.1 512.4 1209.9 512.4 1239.7 513.1 1239.5 513.1 1212.1 513.8 1215.3 513.8 1244.3 514.2 1251.3 514.2 1214.4 515.2 1221.1 515.2 1243.1 515.9 1242.8 515.9 1223.7 516.8 1221.6 516.8 1243.9 517.3 1241.0 517.3 1225.4 518.0 1223.8 518.0 1241.1 518.7 1242.8 518.7 1221.6 519.4 1221.2 519.4 1253.8 520.1 1249.0 520.1 1223.7 520.8 1221.3 520.8 1248.4 521.5 1249.1 521.5 1218.2 521.9 1215.8 521.9 1250.2 522.2 1247.9 522.2 1218.5 522.9 1220.9 522.9 1248.6 523.6 1247.7 523.6 1220.9 524.4 1221.2 524.4 1249.2 525.0 1247.0 525.0 1221.6 525.7 1220.4 525.7 1246.5 526.4 1244.8 526.4 1218.3 527.2 1212.8 527.2 1245.6 527.8 1245.0 527.8 1216.8 528.5 1218.2 528.5 1244.9 529.2 1247.6 529.2 1216.7 529.8 1215.7 529.8 1253.9 530.6 1246.0 530.6 1217.2 531.3 1217.3 531.3 1245.2 532.0 1246.2 532.0 1217.0 532.8 1215.0 532.8 1249.0 533.4 1244.4 533.4 1216.2 534.1 1215.4 534.1 1242.0 534.8 1240.8 534.8 1215.4 535.5 1213.3 535.5 1238.8 535.9 1240.8 535.9 1207.7 536.2 1212.9 536.2 1236.6 536.9 1234.2 536.9 1213.6 537.6 1212.6 537.6 1231.8 538.1 1233.3 538.1 1210.5 539.0 1210.1 539.0 1229.1 539.7 1228.7 539.7 1209.7 540.4 1206.7 540.4 1228.7 541.1 1226.3 541.1 1203.0 541.9 1190.5 541.9 1224.2 542.5 1226.5 542.5 1191.5 543.2 1190.6 543.2 1233.3 543.9 1224.5 543.9 1191.0 544.6 1191.3 544.6 1223.0 545.3 1222.0 545.3 1190.8 545.7 1187.2 545.7 1222.6 546.7 1219.8 546.7 1193.4 547.4 1196.6 547.4 1220.3 548.0 1221.0 548.0 1191.0 548.8 1193.5 548.8 1217.7 549.5 1220.4 549.5 1190.8 549.7 1190.7 549.7 1207.4"/>
<rect x="60.5" y="1159.5" width="513.0" height="117.0" fill="none" stroke="#000" stroke-width="0.9"/>
<path d="M83.5 1276.5v4.3M194.5 1276.5v4.3M305.5 1276.5v4.3M416.5 1276.5v4.3M527.5 1276.5v4.3M60.5 1258.5h-4.3M60.5 1226.5h-4.3M60.5 1194.5h-4.3M60.5 1162.5h-4.3" stroke="#000" stroke-width="0.9" fill="none"/>
<rect x="66.50" y="1252.50" width="82.00" height="19" rx="2.2" fill="#fff" fill-opacity="0.8" stroke="#ccc" stroke-opacity="0.8" stroke-width="1.1"/>
<path d="M70.94 1260.10h22.22" stroke="#0000ff" stroke-width="1.67" stroke-linecap="square" fill="none"/>
</g>
<g>
<path d="M676.5 1164.30H1144.5" stroke="#ffa500" stroke-width="1.67" fill="none"/><path d="M1058.42 1164.30V1271.23" stroke="#ffa500" stroke-width="2.4" fill="none"/><path d="M677.0 1164.30H685.4M729.2 1164.30H737.9M740.6 1164.30H748.9M784.7 1164.30H785.7M1057.9 1164.30H1062.6M1080.1 1164.30H1132.3" stroke="#ffa500" stroke-width="2.8" fill="none" stroke-dasharray="2.6 0.4"/>
<rect x="654.5" y="1159.5" width="513.0" height="117.0" fill="none" stroke="#000" stroke-width="0.9"/>
<path d="M677.5 1276.5v4.3M788.5 1276.5v4.3M899.5 1276.5v4.3M1010.5 1276.5v4.3M1121.5 1276.5v4.3M654.5 1271.5h-4.3M654.5 1244.5h-4.3M654.5 1218.5h-4.3M654.5 1191.5h-4.3M654.5 1165.5h-4.3" stroke="#000" stroke-width="0.9" fill="none"/>
<rect x="660.50" y="1252.50" width="106.00" height="19" rx="2.2" fill="#fff" fill-opacity="0.8" stroke="#ccc" stroke-opacity="0.8" stroke-width="1.1"/>
<path d="M664.94 1260.10h22.22" stroke="#ffa500" stroke-width="1.67" stroke-linecap="square" fill="none"/>
</g>
<g>
<path d="M82.5 1391.60H550.5" stroke="#008000" stroke-width="1.67" fill="none"/><path d="M464.42 1391.60V1498.07" stroke="#008000" stroke-width="2.4" fill="none"/><path d="M83.3 1391.60H90.8M95.7 1391.60H97.8M103.5 1391.60H109.9M122.5 1391.60H124.0M134.6 1391.60H137.3M140.1 1391.60H161.6M167.3 1391.60H173.3M179.0 1391.60H212.4M218.3 1391.60H220.8M227.2 1391.60H249.3M252.5 1391.60H261.0M286.3 1391.60H323.5M329.8 1391.60H333.6M364.7 1391.60H378.4M380.9 1391.60H387.9M390.7 1391.60H395.3M421.7 1391.60H423.2M429.1 1391.60H444.3M446.0 1391.60H454.5M464.0 1391.60H506.3M509.8 1391.60H513.6M522.5 1391.60H524.2M527.0 1391.60H549.7" stroke="#008000" stroke-width="3.2" fill="none" stroke-dasharray="2.6 0.4"/>
<rect x="60.5" y="1386.5" width="513.0" height="117.0" fill="none" stroke="#000" stroke-width="0.9"/>
<path d="M83.5 1503.5v4.3M194.5 1503.5v4.3M305.5 1503.5v4.3M416.5 1503.5v4.3M527.5 1503.5v4.3M60.5 1498.5h-4.3M60.5 1471.5h-4.3M60.5 1445.5h-4.3M60.5 1418.5h-4.3M60.5 1391.5h-4.3" stroke="#000" stroke-width="0.9" fill="none"/>
<rect x="66.50" y="1479.50" width="163.00" height="19" rx="2.2" fill="#fff" fill-opacity="0.8" stroke="#ccc" stroke-opacity="0.8" stroke-width="1.1"/>
<path d="M70.94 1487.10h22.22" stroke="#008000" stroke-width="1.67" stroke-linecap="square" fill="none"/>
</g>
<g>
<path class="d" stroke="#ff0000" d="M677.3 1497.3 677.3 1391.4 678.0 1391.9 678.0 1497.4 678.7 1497.2 678.7 1391.9 679.4 1393.4 679.4 1497.5 680.1 1497.7 680.1 1392.8 680.8 1392.5 680.8 1497.3 681.5 1497.6 681.5 1391.3 682.2 1392.4 682.2 1497.5 682.9 1497.7 682.9 1392.6 683.6 1392.0 683.6 1497.5 684.3 1497.7 684.3 1391.5 685.0 1391.6 685.0 1497.7 685.7 1496.6 685.7 1392.5 686.4 1391.8 686.4 1497.7 687.1 1497.3 687.1 1391.2 687.8 1391.4 687.8 1497.8 688.5 1496.8 688.5 1393.1 689.2 1392.1 689.2 1497.6 689.9 1497.6 689.9 1391.2 690.6 1392.5 690.6 1497.4 691.3 1497.7 691.3 1392.6 692.0 1391.5 692.0 1497.8 692.7 1497.4 692.7 1391.9 693.4 1391.2 693.4 1496.9 694.1 1497.6 694.1 1393.4 694.8 1393.0 694.8 1496.8 695.5 1497.7 695.5 1391.8 696.2 1391.7 696.2 1497.5 696.9 1497.1 696.9 1391.6 697.6 1391.4 697.6 1497.6 698.3 1497.0 698.3 1391.8 699.0 1391.9 699.0 1497.4 699.7 1497.4 699.7 1391.2 700.4 1391.1 700.4 1496.8 701.1 1496.8 701.1 1392.0 701.8 1391.2 701.8 1495.7 702.5 1497.2 702.5 1391.3 703.2 1391.7 703.2 1497.4 703.9 1497.4 703.9 1391.3 704.6 1391.7 704.6 1497.4 705.3 1497.4 705.3 1392.1 706.0 1391.3 706.0 1497.7 706.7 1497.1 706.7 1392.2 707.4 1391.4 707.4 1497.7 708.1 1497.7 708.1 1391.5 708.8 1392.3 708.8 1497.6 709.5 1497.5 709.5 1391.1 710.2 1391.5 710.2 1497.6 710.9 1497.6 710.9 1392.7 711.6 1392.3 711.6 1497.5 712.3 1497.6 712.3 1391.3 713.0 1392.2 713.0 1497.3 713.7 1497.5 713.7 1392.6 714.4 1391.6 714.4 1497.2 715.1 1497.2 715.1 1391.8 715.8 1391.4 715.8 1497.1 716.5 1497.4 716.5 1391.5 717.2 1392.7 717.2 1497.8 717.9 1497.5 717.9 1391.2 718.6 1392.1 718.6 1497.7 719.3 1497.6 719.3 1392.1 720.0 1391.2 720.0 1497.7 720.7 1497.7 720.7 1392.4 721.4 1391.6 721.4 1497.0 722.1 1497.6 722.1 1393.1 722.8 1391.8 722.8 1497.4 723.5 1497.1 723.5 1392.9 724.2 1391.2 724.2 1497.7 724.9 1497.6 724.9 1392.4 725.6 1391.4 725.6 1497.5 726.3 1497.3 726.3 1391.7 727.0 1392.8 727.0 1497.2 727.7 1493.3 727.7 1393.9 728.4 1391.7 728.4 1493.3 729.1 1493.3 729.1 1392.1 729.8 1391.4 729.8 1493.3 730.5 1497.2 730.5 1391.3 731.2 1392.3 731.2 1497.7 731.9 1497.2 731.9 1391.7 732.6 1391.9 732.6 1497.0 733.3 1497.6 733.3 1392.2 734.0 1392.0 734.0 1497.2 734.7 1497.6 734.7 1392.1 735.4 1392.0 735.4 1497.7 736.1 1496.9 736.1 1391.5 736.8 1391.6 736.8 1497.3 737.5 1497.6 737.5 1391.2 738.2 1391.3 738.2 1497.1 738.9 1497.6 738.9 1391.6 739.6 1391.3 739.6 1497.2 740.3 1496.9 740.3 1391.3 741.0 1392.0 741.0 1497.4 741.7 1497.6 741.7 1391.6 742.4 1392.0 742.4 1497.7 743.1 1497.7 743.1 1391.5 743.8 1391.4 743.8 1497.6 744.5 1497.4 744.5 1391.7 745.2 1391.3 745.2 1496.6 745.9 1497.7 745.9 1391.5 746.6 1391.3 746.6 1497.8 747.3 1495.4 747.3 1392.4 748.0 1392.2 748.0 1497.7 748.7 1497.0 748.7 1391.9 749.4 1391.9 749.4 1497.6 750.1 1497.3 750.1 1392.6 750.8 1391.4 750.8 1497.1 751.5 1497.6 751.5 1391.3 752.2 1391.3 752.2 1497.8 752.9 1497.5 752.9 1391.2 753.6 1391.4 753.6 1496.9 754.3 1497.6 754.3 1392.7 755.0 1391.3 755.0 1497.7 755.7 1497.4 755.7 1391.9 756.4 1392.3 756.4 1497.1 757.1 1497.4 757.1 1392.5 757.8 1391.6 757.8 1497.7 758.5 1497.8 758.5 1392.7 759.2 1391.7 759.2 1496.7 759.9 1497.3 759.9 1391.5 760.6 1392.0 760.6 1497.2 761.3 1497.5 761.3 1391.7 762.0 1392.8 762.0 1497.7 762.7 1497.2 762.7 1391.3 763.4 1392.8 763.4 1497.3 764.1 1497.4 764.1 1391.4 764.8 1392.6 764.8 1497.0 765.5 1497.3 765.5 1391.4 766.2 1392.1 766.2 1496.9 766.9 1497.5 766.9 1391.5 767.6 1391.5 767.6 1497.5 768.3 1497.5 768.3 1393.4 769.0 1391.7 769.0 1497.5 769.7 1497.4 769.7 1391.2 770.4 1392.0 770.4 1497.7 771.1 1497.6 771.1 1393.5 771.8 1391.3 771.8 1497.8 772.5 1497.5 772.5 1395.5 773.2 1392.3 773.2 1497.2 773.9 1497.2 773.9 1391.3 774.6 1391.9 774.6 1497.3 775.3 1497.6 775.3 1392.0 776.0 1391.7 776.0 1497.0 776.7 1497.2 776.7 1391.5 777.4 1391.1 777.4 1497.4 778.1 1497.6 778.1 1392.0 778.8 1391.4 778.8 1497.5 779.5 1496.9 779.5 1392.4 780.2 1392.1 780.2 1497.7 780.9 1497.7 780.9 1391.9 781.6 1392.1 781.6 1497.4 782.3 1497.5 782.3 1391.7 783.0 1392.4 783.0 1497.7 783.7 1497.6 783.7 1391.4 784.4 1391.7 784.4 1497.1 785.1 1497.6 785.1 1392.1 785.8 1393.4 785.8 1497.7 786.5 1497.6 786.5 1392.3 787.2 1391.9 787.2 1497.7 787.9 1497.7 787.9 1391.7 788.6 1391.7 788.6 1497.7 789.3 1497.5 789.3 1391.5 790.0 1391.9 790.0 1497.5 790.7 1496.9 790.7 1391.8 791.4 1391.2 791.4 1497.6 792.1 1496.5 792.1 1392.0 792.8 1391.3 792.8 1497.1 793.5 1497.7 793.5 1391.3 794.2 1391.7 794.2 1497.5 794.9 1497.4 794.9 1391.5 795.6 1392.4 795.6 1497.7 796.3 1497.4 796.3 1391.7 797.0 1391.2 797.0 1497.6 797.7 1497.7 797.7 1391.9 798.4 1392.1 798.4 1497.5 799.1 1497.3 799.1 1391.9 799.8 1391.7 799.8 1497.5 800.5 1497.7 800.5 1391.8 801.2 1391.8 801.2 1497.6 801.9 1497.4 801.9 1391.3 802.6 1392.2 802.6 1497.5 803.3 1497.5 803.3 1391.4 804.0 1391.4 804.0 1497.4 804.7 1497.5 804.7 1391.9 805.4 1391.6 805.4 1497.6 806.1 1497.7 806.1 1393.6 806.8 1392.3 806.8 1497.5 807.5 1497.2 807.5 1392.3 808.2 1392.2 808.2 1497.0 808.9 1497.6 808.9 1391.7 809.6 1391.4 809.6 1497.7 810.3 1497.5 810.3 1391.2 811.0 1392.5 811.0 1497.7 811.7 1496.9 811.7 1392.8 812.4 1392.0 812.4 1497.4 813.1 1497.6 813.1 1394.2 813.8 1392.8 813.8 1497.3 814.5 1496.5 814.5 1391.7 815.2 1392.2 815.2 1497.3 815.9 1497.7 815.9 1391.6 816.6 1391.2 816.6 1496.9 817.3 1497.5 817.3 1391.9 818.0 1392.3 818.0 1497.6 818.7 1497.5 818.7 1391.2 819.4 1391.2 819.4 1497.3 820.1 1497.5 820.1 1393.1 820.8 1391.4 820.8 1497.4 821.5 1497.7 821.5 1391.9 822.2 1391.8 822.2 1497.7 822.9 1497.3 822.9 1392.1 823.6 1391.6 823.6 1497.4 824.3 1496.9 824.3 1391.8 825.0 1392.7 825.0 1496.7 825.7 1497.5 825.7 1391.7 826.4 1391.9 826.4 1497.0 827.1 1497.4 827.1 1391.4 827.8 1392.1 827.8 1497.3 828.5 1497.4 828.5 1392.7 829.2 1391.8 829.2 1497.7 829.9 1497.6 829.9 1392.0 830.6 1392.2 830.6 1497.6 831.3 1497.4 831.3 1392.2 832.0 1391.4 832.0 1497.7 832.7 1497.6 832.7 1392.4 833.4 1391.7 833.4 1497.7 834.1 1497.4 834.1 1391.8 834.8 1392.1 834.8 1497.4 835.5 1497.6 835.5 1391.3 836.2 1391.2 836.2 1497.7 836.9 1497.2 836.9 1391.6 837.6 1391.9 837.6 1496.9 838.3 1497.7 838.3 1391.4 839.0 1391.2 839.0 1497.2 839.7 1496.7 839.7 1391.1 840.4 1391.7 840.4 1497.3 841.1 1497.7 841.1 1391.1 841.8 1392.3 841.8 1497.8 842.5 1497.7 842.5 1391.5 843.2 1391.3 843.2 1497.4 843.9 1497.1 843.9 1391.7 844.6 1391.9 844.6 1495.7 845.3 1497.6 845.3 1392.2 846.0 1391.8 846.0 1497.6 846.7 1497.4 846.7 1391.2 847.4 1391.6 847.4 1497.8 848.1 1497.5 848.1 1391.3 848.8 1391.2 848.8 1493.8 849.5 1493.8 849.5 1391.9 850.2 1392.6 850.2 1493.8 850.9 1493.8 850.9 1391.2 851.6 1391.8 851.6 1497.1 852.3 1497.7 852.3 1391.3 853.0 1392.0 853.0 1497.0 853.7 1496.8 853.7 1392.9 854.4 1392.1 854.4 1497.4 855.1 1497.1 855.1 1391.3 855.8 1393.2 855.8 1497.1 856.5 1497.3 856.5 1391.5 857.2 1391.5 857.2 1496.7 857.9 1497.6 857.9 1391.7 858.6 1391.8 858.6 1492.8 859.3 1492.8 859.3 1391.4 860.0 1391.8 860.0 1492.8 860.7 1492.8 860.7 1392.1 861.4 1392.3 861.4 1492.8 862.1 1497.7 862.1 1391.2 862.8 1391.5 862.8 1496.7 863.5 1497.5 863.5 1392.3 864.2 1392.8 864.2 1497.8 864.9 1497.1 864.9 1391.9 865.6 1391.5 865.6 1497.4 866.3 1497.1 866.3 1391.7 867.0 1392.2 867.0 1497.5 867.7 1497.3 867.7 1392.1 868.4 1391.7 868.4 1497.1 869.1 1497.7 869.1 1391.9 869.8 1391.3 869.8 1497.2 870.5 1497.7 870.5 1392.3 871.2 1391.2 871.2 1497.2 871.9 1497.5 871.9 1392.7 872.6 1391.4 872.6 1497.3 873.3 1497.4 873.3 1391.3 874.0 1391.2 874.0 1497.6 874.7 1497.6 874.7 1391.3 875.4 1393.5 875.4 1497.2 876.1 1497.7 876.1 1391.4 876.8 1391.6 876.8 1497.2 877.5 1497.7 877.5 1391.4 878.2 1392.0 878.2 1497.2 878.9 1496.9 878.9 1392.0 879.6 1391.5 879.6 1497.5 880.3 1497.1 880.3 1392.0 881.0 1391.2 881.0 1497.4 881.7 1497.6 881.7 1391.5 882.4 1391.4 882.4 1497.4 883.1 1497.7 883.1 1391.5 883.8 1392.1 883.8 1497.6 884.5 1497.2 884.5 1391.5 885.2 1391.5 885.2 1497.7 885.9 1497.5 885.9 1391.2 886.6 1392.7 886.6 1497.3 887.3 1497.7 887.3 1391.6 888.0 1391.7 888.0 1497.5 888.7 1497.7 888.7 1392.4 889.4 1392.9 889.4 1497.8 890.1 1497.6 890.1 1392.5 890.8 1391.7 890.8 1497.3 891.5 1497.6 891.5 1391.2 892.2 1393.1 892.2 1497.4 892.9 1497.4 892.9 1391.3 893.6 1392.0 893.6 1497.3 894.3 1497.7 894.3 1391.8 895.0 1391.5 895.0 1497.7 895.7 1496.8 895.7 1391.3 896.4 1392.1 896.4 1497.5 897.1 1497.3 897.1 1392.3 897.8 1391.2 897.8 1497.6 898.5 1497.6 898.5 1391.6 899.2 1392.0 899.2 1497.5 899.9 1497.1 899.9 1391.7 900.6 1392.7 900.6 1497.4 901.3 1497.2 901.3 1391.3 902.0 1391.5 902.0 1497.2 902.7 1495.6 902.7 1392.2 903.4 1391.5 903.4 1497.0 904.1 1497.1 904.1 1391.8 904.8 1391.2 904.8 1497.6 905.5 1497.6 905.5 1392.8 906.2 1391.9 906.2 1497.2 906.9 1497.4 906.9 1391.2 907.6 1391.3 907.6 1496.9 908.3 1497.4 908.3 1391.2 909.0 1392.4 909.0 1497.4 909.7 1497.0 909.7 1391.8 910.4 1392.6 910.4 1497.7 911.1 1497.7 911.1 1391.5 911.8 1391.4 911.8 1497.4 912.5 1497.0 912.5 1391.1 913.2 1391.6 913.2 1497.4 913.9 1497.5 913.9 1393.7 914.6 1392.2 914.6 1497.7 915.3 1497.5 915.3 1392.7 916.0 1391.4 916.0 1497.2 916.7 1497.7 916.7 1391.6 917.4 1391.7 917.4 1497.6 918.1 1497.7 918.1 1391.9 918.8 1391.2 918.8 1497.4 919.5 1497.7 919.5 1391.4 920.2 1391.8 920.2 1496.3 920.9 1497.7 920.9 1392.3 921.6 1393.4 921.6 1497.5 922.3 1497.5 922.3 1393.0 923.0 1391.5 923.0 1497.1 923.7 1497.1 923.7 1391.2 924.4 1391.2 924.4 1497.2 925.1 1497.4 925.1 1391.2 925.8 1391.5 925.8 1497.4 926.5 1497.6 926.5 1392.4 927.2 1391.9 927.2 1497.1 927.9 1497.7 927.9 1391.7 928.6 1391.7 928.6 1497.2 929.3 1497.1 929.3 1391.4 930.0 1391.2 930.0 1497.7 930.7 1497.7 930.7 1391.6 931.4 1391.2 931.4 1497.7 932.1 1497.2 932.1 1391.2 932.8 1393.9 932.8 1497.5 933.5 1497.5 933.5 1392.0 934.2 1392.6 934.2 1497.2 934.9 1496.9 934.9 1393.9 935.6 1392.2 935.6 1497.6 936.3 1497.2 936.3 1391.6 937.0 1391.6 937.0 1497.8 937.7 1497.6 937.7 1391.2 938.4 1391.4 938.4 1497.5 939.1 1497.4 939.1 1391.6 939.8 1391.1 939.8 1497.3 940.5 1497.2 940.5 1391.3 941.2 1391.8 941.2 1497.4 941.9 1497.1 941.9 1392.4 942.6 1391.3 942.6 1497.7 943.3 1497.5 943.3 1391.4 944.0 1391.5 944.0 1497.2 944.7 1497.7 944.7 1391.3 945.4 1391.9 945.4 1495.3 946.1 1497.2 946.1 1391.8 946.8 1391.7 946.8 1496.7 947.5 1497.1 947.5 1391.9 948.2 1391.3 948.2 1497.8 948.9 1497.8 948.9 1392.2 949.6 1391.6 949.6 1497.5 950.3 1497.1 950.3 1391.2 951.0 1392.2 951.0 1497.7 951.7 1497.7 951.7 1392.6 952.4 1391.6 952.4 1497.4 953.1 1497.3 953.1 1391.5 953.8 1393.1 953.8 1497.7 954.5 1497.7 954.5 1391.2 955.2 1392.4 955.2 1497.4 955.9 1497.3 955.9 1393.0 956.6 1392.7 956.6 1497.6 957.3 1497.5 957.3 1391.6 958.0 1391.3 958.0 1497.6 958.7 1497.8 958.7 1399.1 959.4 1399.1 959.4 1497.7 960.1 1497.6 960.1 1399.1 960.8 1399.1 960.8 1497.3 961.5 1497.6 961.5 1391.3 962.2 1391.8 962.2 1497.5 962.9 1497.2 962.9 1391.6 963.6 1392.0 963.6 1497.6 964.3 1497.5 964.3 1391.5 965.0 1392.2 965.0 1497.3 965.7 1497.8 965.7 1391.2 966.4 1391.5 966.4 1497.6 967.1 1497.2 967.1 1392.3 967.8 1395.1 967.8 1497.7 968.5 1497.4 968.5 1395.1 969.2 1395.1 969.2 1497.7 969.9 1497.0 969.9 1395.1 970.6 1391.4 970.6 1497.5 971.3 1497.8 971.3 1391.6 972.0 1396.1 972.0 1497.5 972.7 1497.0 972.7 1396.1 973.4 1396.1 973.4 1497.7 974.1 1492.8 974.1 1396.1 974.8 1391.3 974.8 1492.8 975.5 1492.8 975.5 1391.2 976.2 1391.9 976.2 1492.8 976.9 1492.8 976.9 1391.8 977.6 1391.8 977.6 1497.4 978.3 1497.1 978.3 1391.3 979.0 1391.4 979.0 1497.6 979.7 1496.9 979.7 1392.6 980.4 1393.8 980.4 1497.2 981.1 1497.7 981.1 1392.4 981.8 1391.2 981.8 1496.3 982.5 1497.0 982.5 1391.7 983.2 1391.6 983.2 1497.0 983.9 1497.7 983.9 1392.1 984.6 1393.2 984.6 1497.6 985.3 1497.7 985.3 1391.8 986.0 1392.0 986.0 1497.3 986.7 1497.4 986.7 1391.3 987.4 1391.3 987.4 1497.6 988.1 1497.6 988.1 1391.2 988.8 1391.4 988.8 1497.4 989.5 1497.5 989.5 1392.7 990.2 1391.7 990.2 1497.2 990.9 1497.7 990.9 1391.2 991.6 1391.3 991.6 1496.5 992.3 1497.0 992.3 1391.7 993.0 1391.6 993.0 1497.6 993.7 1497.1 993.7 1392.3 994.4 1391.7 994.4 1497.6 995.1 1496.4 995.1 1391.6 995.8 1392.2 995.8 1497.7 996.5 1497.2 996.5 1392.7 997.2 1391.4 997.2 1497.7 997.9 1497.6 997.9 1392.9 998.6 1391.5 998.6 1497.5 999.3 1497.7 999.3 1391.4 1000.0 1391.9 1000.0 1497.7 1000.7 1497.2 1000.7 1391.7 1001.4 1392.7 1001.4 1497.3 1002.1 1496.7 1002.1 1391.9 1002.8 1391.5 1002.8 1497.1 1003.5 1497.4 1003.5 1391.3 1004.2 1391.6 1004.2 1497.6 1004.9 1497.6 1004.9 1391.6 1005.6 1391.2 1005.6 1497.4 1006.3 1497.2 1006.3 1391.5 1007.0 1391.1 1007.0 1497.0 1007.7 1497.7 1007.7 1392.8 1008.4 1391.4 1008.4 1497.2 1009.1 1497.4 1009.1 1391.8 1009.8 1391.7 1009.8 1497.4 1010.5 1497.6 1010.5 1392.6 1011.2 1391.4 1011.2 1497.6 1011.9 1497.6 1011.9 1391.5 1012.6 1392.4 1012.6 1497.6 1013.3 1497.6 1013.3 1392.3 1014.0 1391.2 1014.0 1497.5 1014.7 1497.6 1014.7 1391.6 1015.4 1392.1 1015.4 1496.8 1016.1 1497.6 1016.1 1391.4 1016.8 1391.5 1016.8 1497.5 1017.5 1497.1 1017.5 1392.9 1018.2 1391.2 1018.2 1497.5 1018.9 1497.6 1018.9 1391.3 1019.6 1391.4 1019.6 1497.7 1020.3 1497.5 1020.3 1391.5 1021.0 1392.5 1021.0 1497.8 1021.7 1497.3 1021.7 1391.7 1022.4 1391.3 1022.4 1496.5 1023.1 1497.6 1023.1 1391.8 1023.8 1392.3 1023.8 1497.0 1024.5 1497.1 1024.5 1391.8 1025.2 1391.6 1025.2 1497.7 1025.9 1497.4 1025.9 1391.5 1026.6 1392.4 1026.6 1497.8 1027.3 1497.6 1027.3 1391.4 1028.0 1393.9 1028.0 1497.7 1028.7 1497.4 1028.7 1392.1 1029.4 1391.9 1029.4 1497.1 1030.1 1497.2 1030.1 1391.9 1030.8 1391.7 1030.8 1497.0 1031.5 1496.9 1031.5 1393.0 1032.2 1391.5 1032.2 1497.1 1032.9 1496.9 1032.9 1391.4 1033.6 1391.6 1033.6 1497.7 1034.3 1497.7 1034.3 1392.0 1035.0 1393.5 1035.0 1497.6 1035.7 1497.5 1035.7 1392.7 1036.4 1391.9 1036.4 1497.6 1037.1 1497.7 1037.1 1392.1 1037.8 1391.6 1037.8 1497.8 1038.5 1496.6 1038.5 1391.3 1039.2 1391.6 1039.2 1497.0 1039.9 1497.0 1039.9 1392.3 1040.6 1391.7 1040.6 1497.5 1041.3 1497.7 1041.3 1391.7 1042.0 1391.5 1042.0 1497.6 1042.7 1497.5 1042.7 1392.8 1043.4 1392.7 1043.4 1496.5 1044.1 1497.6 1044.1 1392.0 1044.8 1391.3 1044.8 1497.2 1045.5 1497.2 1045.5 1391.6 1046.2 1391.6 1046.2 1497.4 1046.9 1496.9 1046.9 1391.6 1047.6 1391.6 1047.6 1497.5 1048.3 1497.0 1048.3 1392.7 1049.0 1391.9 1049.0 1497.2 1049.7 1497.2 1049.7 1392.1 1050.4 1391.5 1050.4 1497.4 1051.1 1496.8 1051.1 1391.5 1051.8 1391.3 1051.8 1497.4 1052.5 1494.7 1052.5 1391.2 1053.2 1391.8 1053.2 1497.2 1053.9 1497.7 1053.9 1392.7 1054.6 1393.1 1054.6 1497.3 1055.3 1497.4 1055.3 1392.4 1056.0 1392.6 1056.0 1497.7 1056.7 1497.0 1056.7 1391.9 1057.4 1392.8 1057.4 1497.5 1058.1 1497.0 1058.1 1391.9 1058.8 1391.4 1058.8 1497.4 1059.5 1497.2 1059.5 1392.0 1060.2 1391.6 1060.2 1497.6 1060.9 1497.2 1060.9 1391.9 1061.6 1392.5 1061.6 1496.3 1062.3 1496.9 1062.3 1391.5 1063.0 1391.6 1063.0 1497.6 1063.7 1497.3 1063.7 1391.9 1064.4 1391.8 1064.4 1497.5 1065.1 1497.5 1065.1 1392.4 1065.8 1391.6 1065.8 1497.3 1066.5 1497.0 1066.5 1391.5 1067.2 1392.0 1067.2 1497.2 1067.9 1497.5 1067.9 1392.3 1068.6 1392.6 1068.6 1497.3 1069.3 1497.3 1069.3 1392.8 1070.0 1391.8 1070.0 1497.6 1070.7 1497.6 1070.7 1392.1 1071.4 1391.3 1071.4 1497.1 1072.1 1497.2 1072.1 1391.7 1072.8 1391.1 1072.8 1497.6 1073.5 1497.0 1073.5 1391.8 1074.2 1391.5 1074.2 1497.5 1074.9 1497.3 1074.9 1391.7 1075.6 1393.1 1075.6 1497.6 1076.3 1497.6 1076.3 1391.8 1077.0 1391.3 1077.0 1497.6 1077.7 1497.6 1077.7 1394.1 1078.4 1391.2 1078.4 1497.5 1079.1 1497.3 1079.1 1391.1 1079.8 1391.2 1079.8 1497.6 1080.5 1497.4 1080.5 1392.2 1081.2 1391.2 1081.2 1497.2 1081.9 1497.2 1081.9 1391.4 1082.6 1391.4 1082.6 1497.7 1083.3 1497.4 1083.3 1391.2 1084.0 1394.6 1084.0 1497.6 1084.7 1497.6 1084.7 1394.6 1085.4 1394.6 1085.4 1497.5 1086.1 1497.7 1086.1 1394.6 1086.8 1392.6 1086.8 1497.6 1087.5 1497.2 1087.5 1391.6 1088.2 1391.8 1088.2 1497.1 1088.9 1497.0 1088.9 1391.5 1089.6 1392.3 1089.6 1497.0 1090.3 1497.5 1090.3 1392.1 1091.0 1391.7 1091.0 1497.4 1091.7 1497.6 1091.7 1391.2 1092.4 1391.8 1092.4 1497.6 1093.1 1497.2 1093.1 1391.4 1093.8 1392.2 1093.8 1497.3 1094.5 1497.0 1094.5 1391.4 1095.2 1391.5 1095.2 1497.2 1095.9 1497.4 1095.9 1391.2 1096.6 1391.9 1096.6 1497.3 1097.3 1497.6 1097.3 1392.3 1098.0 1391.7 1098.0 1497.8 1098.7 1497.2 1098.7 1391.8 1099.4 1392.6 1099.4 1497.2 1100.1 1497.6 1100.1 1393.4 1100.8 1391.3 1100.8 1497.4 1101.5 1496.9 1101.5 1391.9 1102.2 1391.1 1102.2 1497.5 1102.9 1496.6 1102.9 1391.4 1103.6 1392.4 1103.6 1497.4 1104.3 1497.4 1104.3 1391.2 1105.0 1392.6 1105.0 1497.1 1105.7 1497.4 1105.7 1392.4 1106.4 1391.2 1106.4 1497.8 1107.1 1497.5 1107.1 1391.6 1107.8 1392.0 1107.8 1497.5 1108.5 1497.5 1108.5 1392.2 1109.2 1391.8 1109.2 1497.5 1109.9 1497.3 1109.9 1391.9 1110.6 1391.3 1110.6 1497.5 1111.3 1497.6 1111.3 1391.3 1112.0 1392.7 1112.0 1497.3 1112.7 1497.7 1112.7 1391.5 1113.4 1391.4 1113.4 1497.5 1114.1 1497.3 1114.1 1392.4 1114.8 1391.2 1114.8 1496.9 1115.5 1496.9 1115.5 1391.6 1116.2 1391.7 1116.2 1497.2 1116.9 1497.2 1116.9 1392.2 1117.6 1391.4 1117.6 1497.5 1118.3 1497.0 1118.3 1392.4 1119.0 1391.5 1119.0 1497.7 1119.7 1497.3 1119.7 1391.5 1120.4 1392.1 1120.4 1497.3 1121.1 1497.6 1121.1 1391.2 1121.8 1391.4 1121.8 1497.5 1122.5 1497.4 1122.5 1391.6 1123.2 1392.4 1123.2 1497.3 1123.9 1497.2 1123.9 1393.4 1124.6 1392.6 1124.6 1497.0 1125.3 1497.4 1125.3 1392.3 1126.0 1391.9 1126.0 1496.7 1126.7 1497.6 1126.7 1391.4 1127.4 1391.4 1127.4 1497.4 1128.1 1497.4 1128.1 1393.2 1128.8 1391.4 1128.8 1497.7 1129.5 1497.4 1129.5 1392.6 1130.2 1391.6 1130.2 1497.4 1130.9 1497.4 1130.9 1393.7 1131.6 1391.8 1131.6 1497.7 1132.3 1497.1 1132.3 1391.4 1133.0 1393.0 1133.0 1497.6 1133.7 1496.6 1133.7 1391.3 1134.4 1391.6 1134.4 1497.5 1135.1 1497.5 1135.1 1392.2 1135.8 1391.7 1135.8 1497.6 1136.5 1497.5 1136.5 1394.1 1137.2 1391.4 1137.2 1497.3 1137.9 1497.1 1137.9 1392.0 1138.6 1392.4 1138.6 1497.6 1139.3 1497.5 1139.3 1392.1 1140.0 1392.8 1140.0 1497.6 1140.7 1497.5 1140.7 1392.1 1141.4 1391.8 1141.4 1497.7 1142.1 1497.7 1142.1 1395.1 1142.8 1392.3 1142.8 1497.4 1143.5 1497.2 1143.5 1391.6 1143.7 1391.7 1143.7 1496.9"/>
<rect x="654.5" y="1386.5" width="513.0" height="117.0" fill="none" stroke="#000" stroke-width="0.9"/>
<path d="M677.5 1503.5v4.3M788.5 1503.5v4.3M899.5 1503.5v4.3M1010.5 1503.5v4.3M1121.5 1503.5v4.3M654.5 1498.5h-4.3M654.5 1468.5h-4.3M654.5 1439.5h-4.3M654.5 1409.5h-4.3" stroke="#000" stroke-width="0.9" fill="none"/>
<rect x="660.50" y="1392.50" width="184.00" height="19" rx="2.2" fill="#fff" fill-opacity="0.8" stroke="#ccc" stroke-opacity="0.8" stroke-width="1.1"/>
<path d="M664.94 1400.10h22.22" stroke="#ff0000" stroke-width="1.67" stroke-linecap="square" fill="none"/>
</g>
<g style="filter:grayscale(1)">
<text transform="translate(82.00 178.50) rotate(-25)" x="0" y="4.1" font-size="11.4" text-anchor="middle" textLength="117.04" lengthAdjust="spacingAndGlyphs">01.01.2009 00:10:00</text>
<text transform="translate(193.00 178.50) rotate(-25)" x="0" y="4.1" font-size="11.4" text-anchor="middle" textLength="117.04" lengthAdjust="spacingAndGlyphs">25.11.2010 11:10:00</text>
<text transform="translate(304.00 178.50) rotate(-25)" x="0" y="4.1" font-size="11.4" text-anchor="middle" textLength="117.04" lengthAdjust="spacingAndGlyphs">19.10.2012 21:50:00</text>
<text transform="translate(415.00 178.50) rotate(-25)" x="0" y="4.1" font-size="11.4" text-anchor="middle" textLength="117.04" lengthAdjust="spacingAndGlyphs">13.09.2014 02:20:00</text>
<text transform="translate(526.00 178.50) rotate(-25)" x="0" y="4.1" font-size="11.4" text-anchor="middle" textLength="117.04" lengthAdjust="spacingAndGlyphs">08.08.2016 04:50:00</text>
<text x="52.20" y="129.10" font-size="11.40" text-anchor="end" textLength="21.21" lengthAdjust="spacingAndGlyphs">925</text>
<text x="52.20" y="103.10" font-size="11.40" text-anchor="end" textLength="21.21" lengthAdjust="spacingAndGlyphs">950</text>
<text x="52.20" y="76.10" font-size="11.40" text-anchor="end" textLength="21.21" lengthAdjust="spacingAndGlyphs">975</text>
<text x="52.20" y="50.10" font-size="11.40" text-anchor="end" textLength="28.27" lengthAdjust="spacingAndGlyphs">1000</text>
<text x="317.00" y="17.90" font-size="13.20" text-anchor="middle" textLength="129.74" lengthAdjust="spacingAndGlyphs">Pressure - p (mbar)</text>
<text x="317.00" y="221.10" font-size="11.40" text-anchor="middle" textLength="57.85" lengthAdjust="spacingAndGlyphs">Date Time</text>
<text x="102.05" y="129.90" font-size="11.40" text-anchor="start" textLength="48.32" lengthAdjust="spacingAndGlyphs">Pressure</text>
<text transform="translate(676.00 178.50) rotate(-25)" x="0" y="4.1" font-size="11.4" text-anchor="middle" textLength="117.04" lengthAdjust="spacingAndGlyphs">01.01.2009 00:10:00</text>
<text transform="translate(787.00 178.50) rotate(-25)" x="0" y="4.1" font-size="11.4" text-anchor="middle" textLength="117.04" lengthAdjust="spacingAndGlyphs">25.11.2010 11:10:00</text>
<text transform="translate(898.00 178.50) rotate(-25)" x="0" y="4.1" font-size="11.4" text-anchor="middle" textLength="117.04" lengthAdjust="spacingAndGlyphs">19.10.2012 21:50:00</text>
<text transform="translate(1009.00 178.50) rotate(-25)" x="0" y="4.1" font-size="11.4" text-anchor="middle" textLength="117.04" lengthAdjust="spacingAndGlyphs">13.09.2014 02:20:00</text>
<text transform="translate(1120.00 178.50) rotate(-25)" x="0" y="4.1" font-size="11.4" text-anchor="middle" textLength="117.04" lengthAdjust="spacingAndGlyphs">08.08.2016 04:50:00</text>
<text x="646.20" y="136.10" font-size="11.40" text-anchor="end" textLength="23.45" lengthAdjust="spacingAndGlyphs">−20</text>
<text x="646.20" y="100.10" font-size="11.40" text-anchor="end" textLength="7.07" lengthAdjust="spacingAndGlyphs">0</text>
<text x="646.20" y="65.10" font-size="11.40" text-anchor="end" textLength="14.14" lengthAdjust="spacingAndGlyphs">20</text>
<text x="646.20" y="29.10" font-size="11.40" text-anchor="end" textLength="14.14" lengthAdjust="spacingAndGlyphs">40</text>
<text x="911.00" y="17.90" font-size="13.20" text-anchor="middle" textLength="158.13" lengthAdjust="spacingAndGlyphs">Temperature - T (degC)</text>
<text x="911.00" y="221.10" font-size="11.40" text-anchor="middle" textLength="57.85" lengthAdjust="spacingAndGlyphs">Date Time</text>
<text x="1085.05" y="129.90" font-size="11.40" text-anchor="start" textLength="72.80" lengthAdjust="spacingAndGlyphs">Temperature</text>
<text transform="translate(82.00 405.50) rotate(-25)" x="0" y="4.1" font-size="11.4" text-anchor="middle" textLength="117.04" lengthAdjust="spacingAndGlyphs">01.01.2009 00:10:00</text>
<text transform="translate(193.00 405.50) rotate(-25)" x="0" y="4.1" font-size="11.4" text-anchor="middle" textLength="117.04" lengthAdjust="spacingAndGlyphs">25.11.2010 11:10:00</text>
<text transform="translate(304.00 405.50) rotate(-25)" x="0" y="4.1" font-size="11.4" text-anchor="middle" textLength="117.04" lengthAdjust="spacingAndGlyphs">19.10.2012 21:50:00</text>
<text transform="translate(415.00 405.50) rotate(-25)" x="0" y="4.1" font-size="11.4" text-anchor="middle" textLength="117.04" lengthAdjust="spacingAndGlyphs">13.09.2014 02:20:00</text>
<text transform="translate(526.00 405.50) rotate(-25)" x="0" y="4.1" font-size="11.4" text-anchor="middle" textLength="117.04" lengthAdjust="spacingAndGlyphs">08.08.2016 04:50:00</text>
<text x="52.20" y="351.10" font-size="11.40" text-anchor="end" textLength="21.21" lengthAdjust="spacingAndGlyphs">260</text>
<text x="52.20" y="316.10" font-size="11.40" text-anchor="end" textLength="21.21" lengthAdjust="spacingAndGlyphs">280</text>
<text x="52.20" y="281.10" font-size="11.40" text-anchor="end" textLength="21.21" lengthAdjust="spacingAndGlyphs">300</text>
<text x="317.00" y="244.90" font-size="13.20" text-anchor="middle" textLength="215.82" lengthAdjust="spacingAndGlyphs">Temperature in Kelvin - Tpot (K)</text>
<text x="317.00" y="448.10" font-size="11.40" text-anchor="middle" textLength="57.85" lengthAdjust="spacingAndGlyphs">Date Time</text>
<text x="439.05" y="356.90" font-size="11.40" text-anchor="start" textLength="124.11" lengthAdjust="spacingAndGlyphs">Temperature in Kelvin</text>
<text transform="translate(676.00 405.50) rotate(-25)" x="0" y="4.1" font-size="11.4" text-anchor="middle" textLength="117.04" lengthAdjust="spacingAndGlyphs">01.01.2009 00:10:00</text>
<text transform="translate(787.00 405.50) rotate(-25)" x="0" y="4.1" font-size="11.4" text-anchor="middle" textLength="117.04" lengthAdjust="spacingAndGlyphs">25.11.2010 11:10:00</text>
<text transform="translate(898.00 405.50) rotate(-25)" x="0" y="4.1" font-size="11.4" text-anchor="middle" textLength="117.04" lengthAdjust="spacingAndGlyphs">19.10.2012 21:50:00</text>
<text transform="translate(1009.00 405.50) rotate(-25)" x="0" y="4.1" font-size="11.4" text-anchor="middle" textLength="117.04" lengthAdjust="spacingAndGlyphs">13.09.2014 02:20:00</text>
<text transform="translate(1120.00 405.50) rotate(-25)" x="0" y="4.1" font-size="11.4" text-anchor="middle" textLength="117.04" lengthAdjust="spacingAndGlyphs">08.08.2016 04:50:00</text>
<text x="646.20" y="357.10" font-size="11.40" text-anchor="end" textLength="23.45" lengthAdjust="spacingAndGlyphs">−20</text>
<text x="646.20" y="312.10" font-size="11.40" text-anchor="end" textLength="7.07" lengthAdjust="spacingAndGlyphs">0</text>
<text x="646.20" y="268.10" font-size="11.40" text-anchor="end" textLength="14.14" lengthAdjust="spacingAndGlyphs">20</text>
<text x="911.00" y="244.90" font-size="13.20" text-anchor="middle" textLength="266.56" lengthAdjust="spacingAndGlyphs">Temperature (dew point) - Tdew (degC)</text>
<text x="911.00" y="448.10" font-size="11.40" text-anchor="middle" textLength="57.85" lengthAdjust="spacingAndGlyphs">Date Time</text>
<text x="1016.05" y="356.90" font-size="11.40" text-anchor="start" textLength="140.11" lengthAdjust="spacingAndGlyphs">Temperature (dew point)</text>
<text transform="translate(82.00 632.50) rotate(-25)" x="0" y="4.1" font-size="11.4" text-anchor="middle" textLength="117.04" lengthAdjust="spacingAndGlyphs">01.01.2009 00:10:00</text>
<text transform="translate(193.00 632.50) rotate(-25)" x="0" y="4.1" font-size="11.4" text-anchor="middle" textLength="117.04" lengthAdjust="spacingAndGlyphs">25.11.2010 11:10:00</text>
<text transform="translate(304.00 632.50) rotate(-25)" x="0" y="4.1" font-size="11.4" text-anchor="middle" textLength="117.04" lengthAdjust="spacingAndGlyphs">19.10.2012 21:50:00</text>
<text transform="translate(415.00 632.50) rotate(-25)" x="0" y="4.1" font-size="11.4" text-anchor="middle" textLength="117.04" lengthAdjust="spacingAndGlyphs">13.09.2014 02:20:00</text>
<text transform="translate(526.00 632.50) rotate(-25)" x="0" y="4.1" font-size="11.4" text-anchor="middle" textLength="117.04" lengthAdjust="spacingAndGlyphs">08.08.2016 04:50:00</text>
<text x="52.20" y="586.10" font-size="11.40" text-anchor="end" textLength="14.14" lengthAdjust="spacingAndGlyphs">20</text>
<text x="52.20" y="561.10" font-size="11.40" text-anchor="end" textLength="14.14" lengthAdjust="spacingAndGlyphs">40</text>
<text x="52.20" y="537.10" font-size="11.40" text-anchor="end" textLength="14.14" lengthAdjust="spacingAndGlyphs">60</text>
<text x="52.20" y="512.10" font-size="11.40" text-anchor="end" textLength="14.14" lengthAdjust="spacingAndGlyphs">80</text>
<text x="52.20" y="488.10" font-size="11.40" text-anchor="end" textLength="21.21" lengthAdjust="spacingAndGlyphs">100</text>
<text x="317.00" y="470.90" font-size="13.20" text-anchor="middle" textLength="174.25" lengthAdjust="spacingAndGlyphs">Relative Humidity - rh (%)</text>
<text x="317.00" y="675.10" font-size="11.40" text-anchor="middle" textLength="57.85" lengthAdjust="spacingAndGlyphs">Date Time</text>
<text x="102.05" y="583.90" font-size="11.40" text-anchor="start" textLength="99.61" lengthAdjust="spacingAndGlyphs">Relative Humidity</text>
<text transform="translate(676.00 632.50) rotate(-25)" x="0" y="4.1" font-size="11.4" text-anchor="middle" textLength="117.04" lengthAdjust="spacingAndGlyphs">01.01.2009 00:10:00</text>
<text transform="translate(787.00 632.50) rotate(-25)" x="0" y="4.1" font-size="11.4" text-anchor="middle" textLength="117.04" lengthAdjust="spacingAndGlyphs">25.11.2010 11:10:00</text>
<text transform="translate(898.00 632.50) rotate(-25)" x="0" y="4.1" font-size="11.4" text-anchor="middle" textLength="117.04" lengthAdjust="spacingAndGlyphs">19.10.2012 21:50:00</text>
<text transform="translate(1009.00 632.50) rotate(-25)" x="0" y="4.1" font-size="11.4" text-anchor="middle" textLength="117.04" lengthAdjust="spacingAndGlyphs">13.09.2014 02:20:00</text>
<text transform="translate(1120.00 632.50) rotate(-25)" x="0" y="4.1" font-size="11.4" text-anchor="middle" textLength="117.04" lengthAdjust="spacingAndGlyphs">08.08.2016 04:50:00</text>
<text x="646.20" y="596.10" font-size="11.40" text-anchor="end" textLength="7.07" lengthAdjust="spacingAndGlyphs">0</text>
<text x="646.20" y="562.10" font-size="11.40" text-anchor="end" textLength="14.14" lengthAdjust="spacingAndGlyphs">20</text>
<text x="646.20" y="528.10" font-size="11.40" text-anchor="end" textLength="14.14" lengthAdjust="spacingAndGlyphs">40</text>
<text x="646.20" y="494.10" font-size="11.40" text-anchor="end" textLength="14.14" lengthAdjust="spacingAndGlyphs">60</text>
<text x="911.00" y="470.90" font-size="13.20" text-anchor="middle" textLength="284.64" lengthAdjust="spacingAndGlyphs">Saturation vapor pressure - VPmax (mbar)</text>
<text x="911.00" y="675.10" font-size="11.40" text-anchor="middle" textLength="57.85" lengthAdjust="spacingAndGlyphs">Date Time</text>
<text x="696.05" y="495.90" font-size="11.40" text-anchor="start" textLength="145.84" lengthAdjust="spacingAndGlyphs">Saturation vapor pressure</text>
<text transform="translate(82.00 859.50) rotate(-25)" x="0" y="4.1" font-size="11.4" text-anchor="middle" textLength="117.04" lengthAdjust="spacingAndGlyphs">01.01.2009 00:10:00</text>
<text transform="translate(193.00 859.50) rotate(-25)" x="0" y="4.1" font-size="11.4" text-anchor="middle" textLength="117.04" lengthAdjust="spacingAndGlyphs">25.11.2010 11:10:00</text>
<text transform="translate(304.00 859.50) rotate(-25)" x="0" y="4.1" font-size="11.4" text-anchor="middle" textLength="117.04" lengthAdjust="spacingAndGlyphs">19.10.2012 21:50:00</text>
<text transform="translate(415.00 859.50) rotate(-25)" x="0" y="4.1" font-size="11.4" text-anchor="middle" textLength="117.04" lengthAdjust="spacingAndGlyphs">13.09.2014 02:20:00</text>
<text transform="translate(526.00 859.50) rotate(-25)" x="0" y="4.1" font-size="11.4" text-anchor="middle" textLength="117.04" lengthAdjust="spacingAndGlyphs">08.08.2016 04:50:00</text>
<text x="52.20" y="825.10" font-size="11.40" text-anchor="end" textLength="7.07" lengthAdjust="spacingAndGlyphs">0</text>
<text x="52.20" y="786.10" font-size="11.40" text-anchor="end" textLength="14.14" lengthAdjust="spacingAndGlyphs">10</text>
<text x="52.20" y="747.10" font-size="11.40" text-anchor="end" textLength="14.14" lengthAdjust="spacingAndGlyphs">20</text>
<text x="317.00" y="697.90" font-size="13.20" text-anchor="middle" textLength="203.50" lengthAdjust="spacingAndGlyphs">Vapor pressure - VPact (mbar)</text>
<text x="317.00" y="902.10" font-size="11.40" text-anchor="middle" textLength="57.85" lengthAdjust="spacingAndGlyphs">Date Time</text>
<text x="102.05" y="722.90" font-size="11.40" text-anchor="start" textLength="85.17" lengthAdjust="spacingAndGlyphs">Vapor pressure</text>
<text transform="translate(676.00 859.50) rotate(-25)" x="0" y="4.1" font-size="11.4" text-anchor="middle" textLength="117.04" lengthAdjust="spacingAndGlyphs">01.01.2009 00:10:00</text>
<text transform="translate(787.00 859.50) rotate(-25)" x="0" y="4.1" font-size="11.4" text-anchor="middle" textLength="117.04" lengthAdjust="spacingAndGlyphs">25.11.2010 11:10:00</text>
<text transform="translate(898.00 859.50) rotate(-25)" x="0" y="4.1" font-size="11.4" text-anchor="middle" textLength="117.04" lengthAdjust="spacingAndGlyphs">19.10.2012 21:50:00</text>
<text transform="translate(1009.00 859.50) rotate(-25)" x="0" y="4.1" font-size="11.4" text-anchor="middle" textLength="117.04" lengthAdjust="spacingAndGlyphs">13.09.2014 02:20:00</text>
<text transform="translate(1120.00 859.50) rotate(-25)" x="0" y="4.1" font-size="11.4" text-anchor="middle" textLength="117.04" lengthAdjust="spacingAndGlyphs">08.08.2016 04:50:00</text>
<text x="646.20" y="821.10" font-size="11.40" text-anchor="end" textLength="7.07" lengthAdjust="spacingAndGlyphs">0</text>
<text x="646.20" y="775.10" font-size="11.40" text-anchor="end" textLength="14.14" lengthAdjust="spacingAndGlyphs">20</text>
<text x="646.20" y="729.10" font-size="11.40" text-anchor="end" textLength="14.14" lengthAdjust="spacingAndGlyphs">40</text>
<text x="911.00" y="697.90" font-size="13.20" text-anchor="middle" textLength="249.87" lengthAdjust="spacingAndGlyphs">Vapor pressure deficit - VPdef (mbar)</text>
<text x="911.00" y="902.10" font-size="11.40" text-anchor="middle" textLength="57.85" lengthAdjust="spacingAndGlyphs">Date Time</text>
<text x="696.05" y="722.90" font-size="11.40" text-anchor="start" textLength="123.29" lengthAdjust="spacingAndGlyphs">Vapor pressure deficit</text>
<text transform="translate(82.00 1086.50) rotate(-25)" x="0" y="4.1" font-size="11.4" text-anchor="middle" textLength="117.04" lengthAdjust="spacingAndGlyphs">01.01.2009 00:10:00</text>
<text transform="translate(193.00 1086.50) rotate(-25)" x="0" y="4.1" font-size="11.4" text-anchor="middle" textLength="117.04" lengthAdjust="spacingAndGlyphs">25.11.2010 11:10:00</text>
<text transform="translate(304.00 1086.50) rotate(-25)" x="0" y="4.1" font-size="11.4" text-anchor="middle" textLength="117.04" lengthAdjust="spacingAndGlyphs">19.10.2012 21:50:00</text>
<text transform="translate(415.00 1086.50) rotate(-25)" x="0" y="4.1" font-size="11.4" text-anchor="middle" textLength="117.04" lengthAdjust="spacingAndGlyphs">13.09.2014 02:20:00</text>
<text transform="translate(526.00 1086.50) rotate(-25)" x="0" y="4.1" font-size="11.4" text-anchor="middle" textLength="117.04" lengthAdjust="spacingAndGlyphs">08.08.2016 04:50:00</text>
<text x="52.20" y="1051.10" font-size="11.40" text-anchor="end" textLength="7.07" lengthAdjust="spacingAndGlyphs">0</text>
<text x="52.20" y="1021.10" font-size="11.40" text-anchor="end" textLength="7.07" lengthAdjust="spacingAndGlyphs">5</text>
<text x="52.20" y="991.10" font-size="11.40" text-anchor="end" textLength="14.14" lengthAdjust="spacingAndGlyphs">10</text>
<text x="52.20" y="960.10" font-size="11.40" text-anchor="end" textLength="14.14" lengthAdjust="spacingAndGlyphs">15</text>
<text x="317.00" y="924.90" font-size="13.20" text-anchor="middle" textLength="188.19" lengthAdjust="spacingAndGlyphs">Specific humidity - sh (g/kg)</text>
<text x="317.00" y="1129.10" font-size="11.40" text-anchor="middle" textLength="57.85" lengthAdjust="spacingAndGlyphs">Date Time</text>
<text x="102.05" y="949.90" font-size="11.40" text-anchor="start" textLength="96.22" lengthAdjust="spacingAndGlyphs">Specific humidity</text>
<text transform="translate(676.00 1086.50) rotate(-25)" x="0" y="4.1" font-size="11.4" text-anchor="middle" textLength="117.04" lengthAdjust="spacingAndGlyphs">01.01.2009 00:10:00</text>
<text transform="translate(787.00 1086.50) rotate(-25)" x="0" y="4.1" font-size="11.4" text-anchor="middle" textLength="117.04" lengthAdjust="spacingAndGlyphs">25.11.2010 11:10:00</text>
<text transform="translate(898.00 1086.50) rotate(-25)" x="0" y="4.1" font-size="11.4" text-anchor="middle" textLength="117.04" lengthAdjust="spacingAndGlyphs">19.10.2012 21:50:00</text>
<text transform="translate(1009.00 1086.50) rotate(-25)" x="0" y="4.1" font-size="11.4" text-anchor="middle" textLength="117.04" lengthAdjust="spacingAndGlyphs">13.09.2014 02:20:00</text>
<text transform="translate(1120.00 1086.50) rotate(-25)" x="0" y="4.1" font-size="11.4" text-anchor="middle" textLength="117.04" lengthAdjust="spacingAndGlyphs">08.08.2016 04:50:00</text>
<text x="646.20" y="1051.10" font-size="11.40" text-anchor="end" textLength="7.07" lengthAdjust="spacingAndGlyphs">0</text>
<text x="646.20" y="1013.10" font-size="11.40" text-anchor="end" textLength="14.14" lengthAdjust="spacingAndGlyphs">10</text>
<text x="646.20" y="975.10" font-size="11.40" text-anchor="end" textLength="14.14" lengthAdjust="spacingAndGlyphs">20</text>
<text x="646.20" y="937.10" font-size="11.40" text-anchor="end" textLength="14.14" lengthAdjust="spacingAndGlyphs">30</text>
<text x="911.00" y="924.90" font-size="13.20" text-anchor="middle" textLength="313.86" lengthAdjust="spacingAndGlyphs">Water vapor concentration - H2OC (mmol/mol)</text>
<text x="911.00" y="1129.10" font-size="11.40" text-anchor="middle" textLength="57.85" lengthAdjust="spacingAndGlyphs">Date Time</text>
<text x="696.05" y="949.90" font-size="11.40" text-anchor="start" textLength="149.96" lengthAdjust="spacingAndGlyphs">Water vapor concentration</text>
<text transform="translate(82.00 1312.50) rotate(-25)" x="0" y="4.1" font-size="11.4" text-anchor="middle" textLength="117.04" lengthAdjust="spacingAndGlyphs">01.01.2009 00:10:00</text>
<text transform="translate(193.00 1312.50) rotate(-25)" x="0" y="4.1" font-size="11.4" text-anchor="middle" textLength="117.04" lengthAdjust="spacingAndGlyphs">25.11.2010 11:10:00</text>
<text transform="translate(304.00 1312.50) rotate(-25)" x="0" y="4.1" font-size="11.4" text-anchor="middle" textLength="117.04" lengthAdjust="spacingAndGlyphs">19.10.2012 21:50:00</text>
<text transform="translate(415.00 1312.50) rotate(-25)" x="0" y="4.1" font-size="11.4" text-anchor="middle" textLength="117.04" lengthAdjust="spacingAndGlyphs">13.09.2014 02:20:00</text>
<text transform="translate(526.00 1312.50) rotate(-25)" x="0" y="4.1" font-size="11.4" text-anchor="middle" textLength="117.04" lengthAdjust="spacingAndGlyphs">08.08.2016 04:50:00</text>
<text x="52.20" y="1262.10" font-size="11.40" text-anchor="end" textLength="28.27" lengthAdjust="spacingAndGlyphs">1100</text>
<text x="52.20" y="1230.10" font-size="11.40" text-anchor="end" textLength="28.27" lengthAdjust="spacingAndGlyphs">1200</text>
<text x="52.20" y="1198.10" font-size="11.40" text-anchor="end" textLength="28.27" lengthAdjust="spacingAndGlyphs">1300</text>
<text x="52.20" y="1166.10" font-size="11.40" text-anchor="end" textLength="28.27" lengthAdjust="spacingAndGlyphs">1400</text>
<text x="317.00" y="1151.90" font-size="13.20" text-anchor="middle" textLength="147.72" lengthAdjust="spacingAndGlyphs">Airtight - rho (g/m**3)</text>
<text x="317.00" y="1355.10" font-size="11.40" text-anchor="middle" textLength="57.85" lengthAdjust="spacingAndGlyphs">Date Time</text>
<text x="102.05" y="1263.90" font-size="11.40" text-anchor="start" textLength="41.31" lengthAdjust="spacingAndGlyphs">Airtight</text>
<text transform="translate(676.00 1312.50) rotate(-25)" x="0" y="4.1" font-size="11.4" text-anchor="middle" textLength="117.04" lengthAdjust="spacingAndGlyphs">01.01.2009 00:10:00</text>
<text transform="translate(787.00 1312.50) rotate(-25)" x="0" y="4.1" font-size="11.4" text-anchor="middle" textLength="117.04" lengthAdjust="spacingAndGlyphs">25.11.2010 11:10:00</text>
<text transform="translate(898.00 1312.50) rotate(-25)" x="0" y="4.1" font-size="11.4" text-anchor="middle" textLength="117.04" lengthAdjust="spacingAndGlyphs">19.10.2012 21:50:00</text>
<text transform="translate(1009.00 1312.50) rotate(-25)" x="0" y="4.1" font-size="11.4" text-anchor="middle" textLength="117.04" lengthAdjust="spacingAndGlyphs">13.09.2014 02:20:00</text>
<text transform="translate(1120.00 1312.50) rotate(-25)" x="0" y="4.1" font-size="11.4" text-anchor="middle" textLength="117.04" lengthAdjust="spacingAndGlyphs">08.08.2016 04:50:00</text>
<text x="646.20" y="1275.10" font-size="11.40" text-anchor="end" textLength="44.65" lengthAdjust="spacingAndGlyphs">−10000</text>
<text x="646.20" y="1248.10" font-size="11.40" text-anchor="end" textLength="37.58" lengthAdjust="spacingAndGlyphs">−7500</text>
<text x="646.20" y="1222.10" font-size="11.40" text-anchor="end" textLength="37.58" lengthAdjust="spacingAndGlyphs">−5000</text>
<text x="646.20" y="1195.10" font-size="11.40" text-anchor="end" textLength="37.58" lengthAdjust="spacingAndGlyphs">−2500</text>
<text x="646.20" y="1169.10" font-size="11.40" text-anchor="end" textLength="7.07" lengthAdjust="spacingAndGlyphs">0</text>
<text x="911.00" y="1151.90" font-size="13.20" text-anchor="middle" textLength="150.04" lengthAdjust="spacingAndGlyphs">Wind speed - wv (m/s)</text>
<text x="911.00" y="1355.10" font-size="11.40" text-anchor="middle" textLength="57.85" lengthAdjust="spacingAndGlyphs">Date Time</text>
<text x="696.05" y="1263.90" font-size="11.40" text-anchor="start" textLength="65.52" lengthAdjust="spacingAndGlyphs">Wind speed</text>
<text transform="translate(82.00 1539.50) rotate(-25)" x="0" y="4.1" font-size="11.4" text-anchor="middle" textLength="117.04" lengthAdjust="spacingAndGlyphs">01.01.2009 00:10:00</text>
<text transform="translate(193.00 1539.50) rotate(-25)" x="0" y="4.1" font-size="11.4" text-anchor="middle" textLength="117.04" lengthAdjust="spacingAndGlyphs">25.11.2010 11:10:00</text>
<text transform="translate(304.00 1539.50) rotate(-25)" x="0" y="4.1" font-size="11.4" text-anchor="middle" textLength="117.04" lengthAdjust="spacingAndGlyphs">19.10.2012 21:50:00</text>
<text transform="translate(415.00 1539.50) rotate(-25)" x="0" y="4.1" font-size="11.4" text-anchor="middle" textLength="117.04" lengthAdjust="spacingAndGlyphs">13.09.2014 02:20:00</text>
<text transform="translate(526.00 1539.50) rotate(-25)" x="0" y="4.1" font-size="11.4" text-anchor="middle" textLength="117.04" lengthAdjust="spacingAndGlyphs">08.08.2016 04:50:00</text>
<text x="52.20" y="1502.10" font-size="11.40" text-anchor="end" textLength="44.65" lengthAdjust="spacingAndGlyphs">−10000</text>
<text x="52.20" y="1475.10" font-size="11.40" text-anchor="end" textLength="37.58" lengthAdjust="spacingAndGlyphs">−7500</text>
<text x="52.20" y="1449.10" font-size="11.40" text-anchor="end" textLength="37.58" lengthAdjust="spacingAndGlyphs">−5000</text>
<text x="52.20" y="1422.10" font-size="11.40" text-anchor="end" textLength="37.58" lengthAdjust="spacingAndGlyphs">−2500</text>
<text x="52.20" y="1395.10" font-size="11.40" text-anchor="end" textLength="7.07" lengthAdjust="spacingAndGlyphs">0</text>
<text x="317.00" y="1378.90" font-size="13.20" text-anchor="middle" textLength="255.62" lengthAdjust="spacingAndGlyphs">Maximum wind speed - max. wv (m/s)</text>
<text x="317.00" y="1582.10" font-size="11.40" text-anchor="middle" textLength="57.85" lengthAdjust="spacingAndGlyphs">Date Time</text>
<text x="102.05" y="1490.90" font-size="11.40" text-anchor="start" textLength="122.12" lengthAdjust="spacingAndGlyphs">Maximum wind speed</text>
<text transform="translate(676.00 1539.50) rotate(-25)" x="0" y="4.1" font-size="11.4" text-anchor="middle" textLength="117.04" lengthAdjust="spacingAndGlyphs">01.01.2009 00:10:00</text>
<text transform="translate(787.00 1539.50) rotate(-25)" x="0" y="4.1" font-size="11.4" text-anchor="middle" textLength="117.04" lengthAdjust="spacingAndGlyphs">25.11.2010 11:10:00</text>
<text transform="translate(898.00 1539.50) rotate(-25)" x="0" y="4.1" font-size="11.4" text-anchor="middle" textLength="117.04" lengthAdjust="spacingAndGlyphs">19.10.2012 21:50:00</text>
<text transform="translate(1009.00 1539.50) rotate(-25)" x="0" y="4.1" font-size="11.4" text-anchor="middle" textLength="117.04" lengthAdjust="spacingAndGlyphs">13.09.2014 02:20:00</text>
<text transform="translate(1120.00 1539.50) rotate(-25)" x="0" y="4.1" font-size="11.4" text-anchor="middle" textLength="117.04" lengthAdjust="spacingAndGlyphs">08.08.2016 04:50:00</text>
<text x="646.20" y="1502.10" font-size="11.40" text-anchor="end" textLength="7.07" lengthAdjust="spacingAndGlyphs">0</text>
<text x="646.20" y="1472.10" font-size="11.40" text-anchor="end" textLength="21.21" lengthAdjust="spacingAndGlyphs">100</text>
<text x="646.20" y="1443.10" font-size="11.40" text-anchor="end" textLength="21.21" lengthAdjust="spacingAndGlyphs">200</text>
<text x="646.20" y="1413.10" font-size="11.40" text-anchor="end" textLength="21.21" lengthAdjust="spacingAndGlyphs">300</text>
<text x="911.00" y="1378.90" font-size="13.20" text-anchor="middle" textLength="244.71" lengthAdjust="spacingAndGlyphs">Wind direction in degrees - wd (deg)</text>
<text x="911.00" y="1582.10" font-size="11.40" text-anchor="middle" textLength="57.85" lengthAdjust="spacingAndGlyphs">Date Time</text>
<text x="696.05" y="1403.90" font-size="11.40" text-anchor="start" textLength="143.36" lengthAdjust="spacingAndGlyphs">Wind direction in degrees</text>
</g>
</svg>
</body></html>
